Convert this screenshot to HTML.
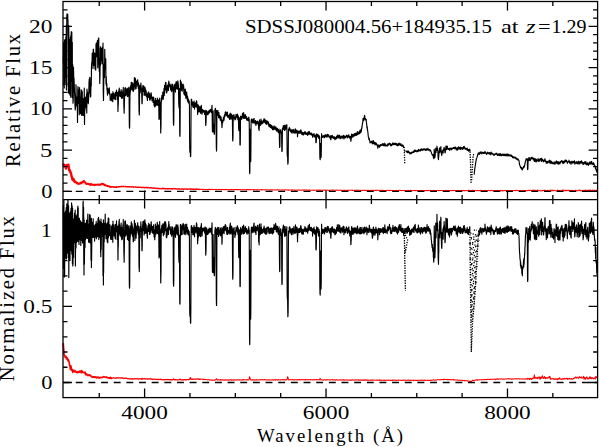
<!DOCTYPE html>
<html><head><meta charset="utf-8"><style>html,body{margin:0;padding:0;background:#fff;width:600px;height:447px;overflow:hidden}svg{display:block}</style></head>
<body><svg width="600" height="447" viewBox="0 0 600 447">
<rect width="600" height="447" fill="#fff"/>
<path d="M63.20 163.5L63.60 164.6L64.00 164.9L64.40 165.2L64.80 166.1L65.20 165.6L65.60 166.9L66.00 168.5L66.40 165.8L66.80 165.0L67.20 165.5L67.60 165.0L68.00 165.4L68.40 164.8L68.80 167.5L69.20 170.2L69.60 169.8L70.00 171.9L70.40 171.5L70.80 173.2L71.20 173.9L71.60 176.6L72.00 177.0L72.40 179.4L72.80 179.9L73.20 180.1L73.60 179.1L74.00 180.7L74.40 181.4L74.80 181.9L75.20 181.5L75.60 182.1L76.00 182.1" fill="none" stroke="#f00" stroke-width="2.4" stroke-linejoin="round"/>
<path d="M75.60 182.1L76.00 182.1L76.40 182.4L76.80 183.3L77.20 182.8L77.60 183.3L78.00 183.9L78.40 183.5L78.80 183.9L79.20 183.9L79.60 183.7L80.00 183.0L80.40 183.3L80.80 183.6L81.20 182.3L81.60 183.0L82.00 182.5L82.40 182.0L82.80 182.6L83.20 181.9L83.60 180.9L84.00 181.0L84.40 181.7L84.80 181.9L85.20 182.7L85.60 183.0L86.00 183.7L86.40 184.1L86.80 183.5L87.20 183.9L87.60 183.7L88.00 184.0L88.40 183.7L88.80 184.0L89.20 184.2L89.60 184.7L90.00 184.9L90.40 184.1L90.80 184.3L91.20 184.8L91.60 184.0L92.00 184.5L92.40 184.6L92.80 185.0L93.20 184.9L93.60 184.6L94.00 184.6L94.40 184.6L94.80 185.2L95.20 184.6L95.60 184.7L96.00 184.9L96.40 184.7L96.80 184.7L97.20 184.4L97.60 184.7L98.00 184.5L98.40 184.9L98.80 184.8L99.20 184.6L99.60 184.7L100.00 184.4L100.40 184.7L100.80 184.4L101.20 184.4L101.60 183.9L102.00 184.3L102.40 183.7L102.80 183.6L103.20 184.0L103.60 184.1L104.00 184.5L104.40 185.2L104.80 184.7L105.20 185.0L105.60 185.3L106.00 185.6L106.40 185.6L106.80 185.7L107.20 186.0L107.60 186.1L108.00 185.9L108.40 186.3L108.80 186.4L109.20 186.3L109.60 186.7L110.00 186.6L110.40 187.0L110.80 186.9L111.20 186.9L111.60 186.8L112.00 186.9" fill="none" stroke="#f00" stroke-width="1.9" stroke-linejoin="round"/>
<path d="M111.60 186.8L112.00 186.9L112.40 186.6L112.80 186.8L113.20 187.1L113.60 186.7L114.00 187.3L114.40 186.9L114.80 187.3L115.20 187.0L115.60 187.3L116.00 187.1L116.40 186.8L116.80 187.2L117.20 187.2L117.60 186.9L118.00 186.9L118.40 186.8L118.80 186.7L119.20 186.9L119.60 186.7L120.00 186.7L120.40 186.6L120.80 186.5L121.20 186.4L121.60 186.7L122.00 186.5L122.40 186.6L122.80 186.5L123.20 186.5L123.60 186.5L124.00 186.5L124.40 186.6L124.80 186.6L125.20 186.6L125.60 186.5L126.00 186.6L126.40 186.9L126.80 186.6L127.20 186.6L127.60 186.8L128.00 186.9L128.40 186.6L128.80 186.8L129.20 186.7L129.60 186.6L130.00 186.9L130.40 186.9L130.80 186.9L131.20 186.8L131.60 187.0L132.00 186.9L132.40 186.9L132.80 186.8L133.20 186.8L133.60 187.2L134.00 187.0L134.40 187.1L134.80 187.1L135.20 187.0L135.60 187.0L136.00 187.2L136.40 187.1L136.80 187.1L137.20 187.2L137.60 187.3L138.00 187.3L138.40 187.3L138.80 187.2L139.20 187.1L139.60 187.4L140.00 187.4L140.40 187.3L140.80 187.4L141.20 187.4L141.60 187.5L142.00 187.5L142.40 187.3L142.80 187.6L143.20 187.3L143.60 187.5L144.00 187.5L144.40 187.6L144.80 187.7L145.20 187.7L145.60 187.4L146.00 187.4L146.40 187.7L146.80 187.5L147.20 187.7L147.60 187.8L148.00 187.5L148.40 187.5L148.80 187.8L149.20 187.8L149.60 187.8L150.00 187.9L150.40 187.8L150.80 187.7L151.20 187.9L151.60 187.9L152.00 187.8L152.40 188.1L152.80 188.1L153.20 188.2L153.60 188.0L154.00 188.1L154.40 188.1L154.80 188.1L155.20 188.3L155.60 188.2L156.00 188.4L156.40 188.4L156.80 188.6L157.20 188.2L157.60 188.5L158.00 188.4L158.40 188.5L158.80 188.3L159.20 188.5L159.60 188.7L160.00 188.6L160.40 188.6L160.80 188.6L161.20 188.8L161.60 188.6L162.00 188.4L162.40 188.6L162.80 188.4L163.20 188.3L163.60 188.6L164.00 188.8L164.40 188.7L164.80 188.5L165.20 188.6L165.60 188.8L166.00 188.7L166.40 188.7L166.80 188.7L167.20 188.7L167.60 188.8L168.00 188.8L168.40 188.8L168.80 188.6L169.20 188.8L169.60 188.7L170.00 188.9L170.40 188.6L170.80 188.8L171.20 188.8L171.60 188.6L172.00 189.0L172.40 189.0L172.80 188.8L173.20 188.9L173.60 188.9L174.00 188.5L174.40 188.9L174.80 188.9L175.20 188.9L175.60 188.7L176.00 188.9L176.40 188.9L176.80 189.0L177.20 189.0L177.60 188.9L178.00 189.1L178.40 188.9L178.80 188.9L179.20 188.7L179.60 189.1L180.00 189.1L180.40 189.1L180.80 189.1L181.20 189.0L181.60 189.0L182.00 189.0L182.40 189.0L182.80 189.0L183.20 189.2L183.60 189.1L184.00 189.0L184.40 189.0L184.80 189.0L185.20 189.2L185.60 189.1L186.00 189.1L186.40 189.0L186.80 188.9L187.20 189.1L187.60 189.2L188.00 189.1L188.40 189.1L188.80 189.1L189.20 189.1L189.60 188.9L190.00 189.1L190.40 189.0L190.80 189.3L191.20 189.1L191.60 189.2L192.00 189.4L192.40 189.1L192.80 189.1L193.20 189.2L193.60 189.2L194.00 189.1L194.40 189.3L194.80 189.5L195.20 189.2L195.60 189.2L196.00 189.1L196.40 189.3L196.80 189.1L197.20 189.1L197.60 189.4L198.00 189.2L198.40 189.4L198.80 189.5L199.20 189.3L199.60 189.4L200.00 189.6" fill="none" stroke="#f00" stroke-width="1.4" stroke-linejoin="round"/>
<path d="M199.60 189.4L200.00 189.6L200.40 189.3L200.80 189.3L201.20 189.2L201.60 189.4L202.00 189.5L202.40 189.5L202.80 189.3L203.20 189.3L203.60 189.3L204.00 189.4L204.40 189.4L204.80 189.4L205.20 189.4L205.60 189.4L206.00 189.4L206.40 189.5L206.80 189.4L207.20 189.5L207.60 189.7L208.00 189.5L208.40 189.5L208.80 189.3L209.20 189.5L209.60 189.3L210.00 189.3L210.40 189.6L210.80 189.6L211.20 189.5L211.60 189.3L212.00 189.5L212.40 189.4L212.80 189.6L213.20 189.8L213.60 189.6L214.00 189.4L214.40 189.4L214.80 189.5L215.20 189.5L215.60 189.4L216.00 189.6L216.40 189.4L216.80 189.7L217.20 189.7L217.60 189.7L218.00 189.5L218.40 189.6L218.80 189.5L219.20 189.5L219.60 189.5L220.00 189.4L220.40 189.4L220.80 189.7L221.20 189.6L221.60 189.6L222.00 189.7L222.40 189.4L222.80 189.5L223.20 189.6L223.60 189.6L224.00 189.5L224.40 189.7L224.80 189.6L225.20 189.5L225.60 189.5L226.00 189.7L226.40 189.7L226.80 189.4L227.20 189.8L227.60 189.7L228.00 189.8L228.40 189.6L228.80 189.6L229.20 189.5L229.60 189.9L230.00 189.6L230.40 189.8L230.80 189.6L231.20 189.7L231.60 189.4L232.00 189.6L232.40 189.8L232.80 189.5L233.20 189.8L233.60 189.7L234.00 189.5L234.40 189.6L234.80 189.6L235.20 189.7L235.60 189.6L236.00 189.6L236.40 189.6L236.80 189.6L237.20 189.5L237.60 189.7L238.00 189.8L238.40 189.5L238.80 189.7L239.20 189.6L239.60 189.6L240.00 189.8L240.40 189.6L240.80 189.9L241.20 189.6L241.60 189.8L242.00 189.7L242.40 189.6L242.80 189.8L243.20 189.7L243.60 189.8L244.00 189.7L244.40 189.6L244.80 189.7L245.20 189.7L245.60 189.9L246.00 189.6L246.40 189.7L246.80 189.5L247.20 189.8L247.60 189.6L248.00 189.5L248.40 189.7L248.80 189.9L249.20 189.6L249.60 189.6L250.00 189.7L250.40 189.6L250.80 189.8L251.20 189.7L251.60 189.7L252.00 189.9L252.40 189.7L252.80 189.8L253.20 189.7L253.60 189.6L254.00 189.6L254.40 190.0L254.80 189.8L255.20 189.8L255.60 189.8L256.00 189.8L256.40 189.8L256.80 190.0L257.20 189.7L257.60 189.6L258.00 189.7L258.40 189.7L258.80 189.9L259.20 189.9L259.60 189.7L260.00 189.7L260.40 189.8L260.80 190.0L261.20 189.5L261.60 189.9L262.00 189.7L262.40 190.0L262.80 189.7L263.20 189.8L263.60 189.7L264.00 189.7L264.40 190.0L264.80 190.0L265.20 189.8L265.60 189.8L266.00 189.6L266.40 189.8L266.80 189.9L267.20 189.9L267.60 189.9L268.00 189.7L268.40 189.9L268.80 189.9L269.20 190.1L269.60 190.1L270.00 189.9L270.40 189.8L270.80 189.9L271.20 189.8L271.60 189.8L272.00 189.9L272.40 189.8L272.80 190.0L273.20 189.9L273.60 190.0L274.00 189.9L274.40 189.8L274.80 189.8L275.20 189.9L275.60 189.9L276.00 190.0L276.40 189.9L276.80 189.8L277.20 190.0L277.60 189.8L278.00 189.9L278.40 189.9L278.80 189.7L279.20 190.0L279.60 190.0L280.00 189.9L280.40 189.9L280.80 189.9L281.20 189.9L281.60 189.9L282.00 189.9L282.40 190.0L282.80 189.8L283.20 190.0L283.60 190.0L284.00 190.0L284.40 189.9L284.80 190.1L285.20 189.8L285.60 190.1L286.00 190.0L286.40 190.0L286.80 190.1L287.20 189.9L287.60 190.0L288.00 190.1L288.40 190.1L288.80 190.1L289.20 189.8L289.60 190.1L290.00 190.2L290.40 190.2L290.80 190.1L291.20 189.9L291.60 190.2L292.00 190.0L292.40 189.7L292.80 190.1L293.20 189.9L293.60 189.9L294.00 190.0L294.40 190.2L294.80 190.0L295.20 190.1L295.60 190.3L296.00 190.3L296.40 190.1L296.80 190.0L297.20 189.9L297.60 190.0L298.00 190.1L298.40 190.1L298.80 190.1L299.20 190.2L299.60 190.0L300.00 190.1L300.40 190.2L300.80 190.2L301.20 190.2L301.60 190.2L302.00 190.1L302.40 190.2L302.80 190.0L303.20 189.9L303.60 190.2L304.00 190.1L304.40 190.2L304.80 189.9L305.20 190.1L305.60 190.0L306.00 190.0L306.40 189.8L306.80 190.1L307.20 190.2L307.60 190.2L308.00 190.1L308.40 190.1L308.80 190.2L309.20 189.8L309.60 190.1L310.00 190.2L310.40 190.2L310.80 190.4L311.20 190.3L311.60 190.2L312.00 190.2L312.40 190.2L312.80 190.1L313.20 190.1L313.60 190.3L314.00 190.4L314.40 190.1L314.80 190.2L315.20 190.2L315.60 190.3L316.00 190.2L316.40 190.3L316.80 190.0L317.20 190.1L317.60 190.1L318.00 190.3L318.40 190.3L318.80 190.0L319.20 190.1L319.60 190.2L320.00 190.1L320.40 190.0L320.80 190.3L321.20 190.2L321.60 190.2L322.00 190.1L322.40 190.3L322.80 190.2L323.20 190.3L323.60 190.1L324.00 190.1L324.40 190.2L324.80 190.1L325.20 190.3L325.60 190.2L326.00 190.1L326.40 190.2L326.80 190.2L327.20 190.3L327.60 190.1L328.00 190.2L328.40 190.4L328.80 190.5L329.20 190.5L329.60 190.2L330.00 190.2L330.40 190.4L330.80 190.2L331.20 190.1L331.60 190.2L332.00 190.3L332.40 190.1L332.80 190.0L333.20 190.1L333.60 190.3L334.00 190.1L334.40 190.2L334.80 190.3L335.20 190.3L335.60 190.2L336.00 190.3L336.40 190.1L336.80 190.2L337.20 190.1L337.60 190.4L338.00 190.2L338.40 190.2L338.80 190.2L339.20 190.2L339.60 190.3L340.00 190.1L340.40 190.1L340.80 190.2L341.20 190.6L341.60 190.4L342.00 190.3L342.40 190.4L342.80 190.5L343.20 190.2L343.60 190.2L344.00 190.4L344.40 190.3L344.80 190.4L345.20 190.2L345.60 190.5L346.00 190.5L346.40 190.4L346.80 190.4L347.20 190.0L347.60 190.4L348.00 190.3L348.40 190.3L348.80 190.4L349.20 190.3L349.60 190.1L350.00 190.3L350.40 190.2L350.80 190.3L351.20 190.2L351.60 190.3L352.00 190.0L352.40 190.5L352.80 190.3L353.20 190.4L353.60 190.6L354.00 190.3L354.40 190.1L354.80 190.2L355.20 190.2L355.60 190.3L356.00 190.3L356.40 190.1L356.80 190.4L357.20 190.1L357.60 190.4L358.00 190.3L358.40 190.3L358.80 190.3L359.20 190.3L359.60 190.3L360.00 190.1L360.40 190.3L360.80 190.6L361.20 190.6L361.60 190.5L362.00 190.4L362.40 190.3L362.80 190.5L363.20 190.3L363.60 190.3L364.00 190.3L364.40 190.4L364.80 190.3L365.20 190.4L365.60 190.2L366.00 190.3L366.40 190.6L366.80 190.4L367.20 190.3L367.60 190.4L368.00 190.5L368.40 190.2L368.80 190.3L369.20 190.5L369.60 190.4L370.00 190.4L370.40 190.6L370.80 190.3L371.20 190.4L371.60 190.3L372.00 190.6L372.40 190.2L372.80 190.3L373.20 190.3L373.60 190.5L374.00 190.5L374.40 190.6L374.80 190.2L375.20 190.5L375.60 190.4L376.00 190.3L376.40 190.5L376.80 190.3L377.20 190.2L377.60 190.4L378.00 190.2L378.40 190.3L378.80 190.5L379.20 190.5L379.60 190.6L380.00 190.4L380.40 190.2L380.80 190.3L381.20 190.3L381.60 190.3L382.00 190.5L382.40 190.4L382.80 190.2L383.20 190.5L383.60 190.4L384.00 190.5L384.40 190.5L384.80 190.5L385.20 190.4L385.60 190.6L386.00 190.5L386.40 190.5L386.80 190.5L387.20 190.3L387.60 190.4L388.00 190.4L388.40 190.5L388.80 190.3L389.20 190.7L389.60 190.5L390.00 190.3L390.40 190.3L390.80 190.4L391.20 190.5L391.60 190.4L392.00 190.5L392.40 190.4L392.80 190.5L393.20 190.4L393.60 190.5L394.00 190.6L394.40 190.8L394.80 190.4L395.20 190.4L395.60 190.4L396.00 190.6L396.40 190.3L396.80 190.4L397.20 190.5L397.60 190.4L398.00 190.4L398.40 190.4L398.80 190.2L399.20 190.3L399.60 190.4L400.00 190.5L400.40 190.5L400.80 190.3L401.20 190.4L401.60 190.6L402.00 190.6L402.40 190.5L402.80 190.4L403.20 190.6L403.60 190.4L404.00 190.4L404.40 190.4L404.80 190.7L405.20 190.5L405.60 190.6L406.00 190.4L406.40 190.6L406.80 190.4L407.20 190.5L407.60 190.8L408.00 190.6L408.40 190.4L408.80 190.5L409.20 190.5L409.60 190.7L410.00 190.4L410.40 190.3L410.80 190.5L411.20 190.5L411.60 190.5L412.00 190.7L412.40 190.5L412.80 190.6L413.20 190.4L413.60 190.6L414.00 190.8L414.40 190.6L414.80 190.5L415.20 190.5L415.60 190.7L416.00 190.4L416.40 190.5L416.80 190.6L417.20 190.6L417.60 190.5L418.00 190.6L418.40 190.5L418.80 190.5L419.20 190.5L419.60 190.4L420.00 190.5L420.40 190.6L420.80 190.4L421.20 190.5L421.60 190.6L422.00 190.4L422.40 190.5L422.80 190.4L423.20 190.7L423.60 190.8L424.00 190.8L424.40 190.5L424.80 190.6L425.20 190.5L425.60 190.5L426.00 190.7L426.40 190.4L426.80 190.7L427.20 190.5L427.60 190.7L428.00 190.5L428.40 190.4L428.80 190.6L429.20 190.6L429.60 190.5L430.00 190.6L430.40 190.5L430.80 190.3L431.20 190.6L431.60 190.6L432.00 190.5L432.40 190.5L432.80 190.7L433.20 190.5L433.60 190.4L434.00 190.5L434.40 190.7L434.80 190.4L435.20 190.7L435.60 190.5L436.00 190.4L436.40 190.7L436.80 190.5L437.20 190.4L437.60 190.5L438.00 190.6L438.40 190.7L438.80 190.5L439.20 190.6L439.60 190.6L440.00 190.5L440.40 190.6L440.80 190.5L441.20 190.5L441.60 190.5L442.00 190.5L442.40 190.5L442.80 190.5L443.20 190.5L443.60 190.7L444.00 190.6L444.40 190.6L444.80 190.7L445.20 190.6L445.60 190.8L446.00 190.4L446.40 190.6L446.80 190.5L447.20 190.8L447.60 190.7L448.00 190.3L448.40 190.4L448.80 190.6L449.20 190.6L449.60 190.6L450.00 190.5L450.40 190.6L450.80 190.6L451.20 190.5L451.60 190.7L452.00 190.3L452.40 190.6L452.80 190.4L453.20 190.7L453.60 190.5L454.00 190.4L454.40 190.6L454.80 190.4L455.20 190.4L455.60 190.4L456.00 190.5L456.40 190.6L456.80 190.7L457.20 190.5L457.60 190.7L458.00 190.6L458.40 190.5L458.80 190.6L459.20 190.7L459.60 190.5L460.00 190.5L460.40 190.5L460.80 190.6L461.20 190.4L461.60 190.7L462.00 190.5L462.40 190.6L462.80 190.5L463.20 190.6L463.60 190.6L464.00 190.5L464.40 190.8L464.80 190.6L465.20 190.8L465.60 190.7L466.00 190.5L466.40 190.5L466.80 190.6L467.20 190.6L467.60 190.6L468.00 190.5L468.40 190.3L468.80 190.5L469.20 190.3L469.60 190.6L470.00 190.5L470.40 190.5L470.80 190.5L471.20 190.6L471.60 190.4L472.00 190.3L472.40 190.4L472.80 190.3L473.20 190.4L473.60 190.8L474.00 190.4L474.40 190.6L474.80 190.4L475.20 190.6L475.60 190.5L476.00 190.6L476.40 190.6L476.80 190.8L477.20 190.6L477.60 190.6L478.00 190.4L478.40 190.6L478.80 190.5L479.20 190.7L479.60 190.6L480.00 190.8L480.40 190.3L480.80 190.5L481.20 190.7L481.60 190.5L482.00 190.5L482.40 190.5L482.80 190.4L483.20 190.6L483.60 190.9L484.00 190.7L484.40 190.4L484.80 190.5L485.20 190.5L485.60 190.7L486.00 190.5L486.40 190.5L486.80 190.7L487.20 190.7L487.60 190.5L488.00 190.4L488.40 190.4L488.80 190.5L489.20 190.3L489.60 190.7L490.00 190.5L490.40 190.6L490.80 190.8L491.20 190.7L491.60 190.4L492.00 190.7L492.40 190.7L492.80 190.5L493.20 190.5L493.60 190.6L494.00 190.4L494.40 190.8L494.80 190.3L495.20 190.4L495.60 190.5L496.00 190.6L496.40 190.6L496.80 190.6L497.20 190.6L497.60 190.7L498.00 190.3L498.40 190.6L498.80 190.5L499.20 190.6L499.60 190.6L500.00 190.5L500.40 190.5L500.80 190.7L501.20 190.6L501.60 190.5L502.00 190.8L502.40 190.9L502.80 190.4L503.20 190.6L503.60 190.9L504.00 190.7L504.40 190.6L504.80 190.6L505.20 190.5L505.60 190.6L506.00 190.5L506.40 190.7L506.80 190.5L507.20 190.5L507.60 190.4L508.00 190.6L508.40 190.5L508.80 190.6L509.20 190.7L509.60 190.6L510.00 190.7L510.40 190.6L510.80 190.6L511.20 190.6L511.60 190.6L512.00 190.7L512.40 190.5L512.80 190.8L513.20 190.6L513.60 190.5L514.00 190.5L514.40 190.5L514.80 190.6L515.20 190.5L515.60 190.7L516.00 190.5L516.40 190.3L516.80 190.5L517.20 190.4L517.60 190.6L518.00 190.7L518.40 190.7L518.80 190.4L519.20 190.5L519.60 190.8L520.00 190.6L520.40 190.6L520.80 190.7L521.20 190.9L521.60 190.8L522.00 190.6L522.40 190.7L522.80 190.7L523.20 190.5L523.60 190.4L524.00 190.6L524.40 190.4L524.80 190.6L525.20 190.6L525.60 191.1L526.00 190.4L526.40 190.6L526.80 190.5L527.20 190.7L527.60 190.8L528.00 190.5L528.40 190.4L528.80 190.1L529.20 190.3L529.60 190.7L530.00 190.6L530.40 190.3L530.80 190.5L531.20 190.6L531.60 190.7L532.00 190.4L532.40 190.5L532.80 190.1L533.20 190.2L533.60 191.0L534.00 190.0L534.40 190.5L534.80 190.6L535.20 190.5L535.60 190.3L536.00 190.5L536.40 190.6L536.80 190.5L537.20 190.0L537.60 190.5L538.00 190.3L538.40 190.4L538.80 190.6L539.20 190.7L539.60 190.8L540.00 190.4L540.40 190.8L540.80 190.9L541.20 190.9L541.60 190.9L542.00 190.5L542.40 190.5L542.80 190.8L543.20 190.2L543.60 190.6L544.00 190.4L544.40 190.4L544.80 190.0L545.20 190.3L545.60 190.5L546.00 190.8L546.40 190.8L546.80 190.5L547.20 190.5L547.60 190.3L548.00 190.6L548.40 190.5L548.80 190.7L549.20 191.0L549.60 190.5L550.00 190.1L550.40 190.3L550.80 190.1L551.20 190.2L551.60 190.9L552.00 190.6L552.40 190.1L552.80 190.7L553.20 190.9L553.60 190.4L554.00 190.3L554.40 190.4L554.80 190.6L555.20 190.7L555.60 190.8L556.00 190.8L556.40 190.8L556.80 190.9L557.20 190.7L557.60 190.1L558.00 190.5L558.40 190.6L558.80 190.4L559.20 190.8L559.60 190.4L560.00 190.2L560.40 190.9L560.80 190.7L561.20 190.6L561.60 190.8L562.00 190.8L562.40 190.6L562.80 189.8L563.20 190.3L563.60 190.4L564.00 190.2L564.40 190.5L564.80 190.8L565.20 190.3L565.60 190.2L566.00 191.0L566.40 190.4L566.80 190.1L567.20 190.5L567.60 190.6L568.00 190.3L568.40 190.7L568.80 190.3L569.20 190.2L569.60 190.5L570.00 190.7L570.40 190.3L570.80 190.6L571.20 190.4L571.60 191.3L572.00 190.3L572.40 190.9L572.80 190.4L573.20 190.4L573.60 190.7L574.00 190.7L574.40 190.8L574.80 190.6L575.20 190.3L575.60 190.3L576.00 190.6L576.40 190.6L576.80 190.8L577.20 190.6L577.60 190.7L578.00 190.9L578.40 190.5L578.80 190.0L579.20 190.1L579.60 190.0L580.00 190.9L580.40 190.2L580.80 190.8L581.20 190.6L581.60 190.9L582.00 190.7L582.40 190.4L582.80 190.4L583.20 190.5L583.60 190.5L584.00 190.3L584.40 190.4L584.80 190.9L585.20 190.0L585.60 190.5L586.00 190.2L586.40 190.5L586.80 190.7L587.20 190.4L587.60 190.6L588.00 190.0L588.40 190.7L588.80 190.3L589.20 190.6L589.60 190.5L590.00 189.7L590.40 190.2L590.80 190.5L591.20 190.9L591.60 190.5L592.00 190.5L592.40 190.0L592.80 190.8L593.20 190.9L593.60 190.4L594.00 190.3L594.40 190.0L594.80 190.7L595.20 191.2L595.60 190.6L596.00 190.8L596.40 190.6L596.80 190.1L597.20 190.8" fill="none" stroke="#f00" stroke-width="1.05" stroke-linejoin="round"/>
<path d="M63.20 343.1L63.60 348.1L64.00 353.4L64.40 355.6L64.80 356.0L65.20 357.2L65.60 356.5L66.00 356.3L66.40 358.8L66.80 358.2L67.20 358.0L67.60 358.9L68.00 360.8L68.40 359.8L68.80 361.4L69.20 362.0L69.60 365.3L70.00 366.6L70.40 369.4L70.80 365.8L71.20 367.6L71.60 370.1L72.00 369.4L72.40 369.9L72.80 372.3L73.20 370.8L73.60 370.3L74.00 370.4L74.40 371.7L74.80 371.8L75.20 371.0L75.60 371.3L76.00 372.3" fill="none" stroke="#f00" stroke-width="1.7" stroke-linejoin="round"/>
<path d="M75.60 371.3L76.00 372.3L76.40 372.4L76.80 371.9L77.20 372.6L77.60 372.7L78.00 371.6L78.40 372.2L78.80 372.5L79.20 371.9L79.60 371.0L80.00 371.9L80.40 372.2L80.80 372.5L81.20 370.5L81.60 372.7L82.00 370.8L82.40 372.0L82.80 372.4L83.20 372.5L83.60 372.3L84.00 372.0L84.40 373.0L84.80 372.7L85.20 372.1L85.60 374.8L86.00 374.1L86.40 374.8L86.80 373.8L87.20 375.1L87.60 375.4L88.00 375.7L88.40 375.1L88.80 374.8L89.20 375.4L89.60 374.7L90.00 375.0L90.40 375.9L90.80 375.6L91.20 376.1L91.60 376.3L92.00 377.3L92.40 377.1L92.80 376.7L93.20 377.3L93.60 376.6L94.00 376.9L94.40 377.5L94.80 376.8L95.20 377.2L95.60 376.9L96.00 377.4L96.40 378.0L96.80 377.1L97.20 377.5L97.60 377.1L98.00 377.1L98.40 377.1L98.80 378.0L99.20 378.3L99.60 377.7L100.00 377.4L100.40 377.8L100.80 377.4L101.20 377.7L101.60 377.5L102.00 377.4L102.40 377.4L102.80 377.0L103.20 377.0L103.60 376.5L104.00 376.9L104.40 376.7L104.80 377.1L105.20 376.9L105.60 377.3L106.00 377.5L106.40 377.0L106.80 377.2L107.20 377.3L107.60 377.8L108.00 378.1L108.40 378.0L108.80 377.7L109.20 378.2L109.60 377.6L110.00 378.4L110.40 377.8L110.80 377.3L111.20 378.6L111.60 378.4L112.00 377.8" fill="none" stroke="#f00" stroke-width="1.5" stroke-linejoin="round"/>
<path d="M111.60 378.4L112.00 377.8L112.40 378.0L112.80 378.0L113.20 378.0L113.60 377.7L114.00 377.9L114.40 378.1L114.80 378.0L115.20 378.2L115.60 378.0L116.00 378.4L116.40 377.9L116.80 378.0L117.20 377.7L117.60 377.8L118.00 378.2L118.40 377.8L118.80 378.1L119.20 378.0L119.60 377.8L120.00 377.9L120.40 377.9L120.80 377.9L121.20 378.1L121.60 378.1L122.00 377.9L122.40 377.9L122.80 378.1L123.20 378.1L123.60 378.3L124.00 378.6L124.40 378.3L124.80 378.2L125.20 378.3L125.60 378.2L126.00 378.2L126.40 378.3L126.80 378.4L127.20 378.4L127.60 378.7L128.00 378.5L128.40 378.6L128.80 378.5L129.20 379.0L129.60 378.8L130.00 379.1L130.40 378.9L130.80 379.0L131.20 378.8L131.60 378.9L132.00 379.2L132.40 378.6L132.80 379.0L133.20 379.1L133.60 378.9L134.00 378.9L134.40 379.0L134.80 378.7L135.20 378.9L135.60 378.7L136.00 378.7L136.40 378.7L136.80 378.8L137.20 378.8L137.60 378.9L138.00 378.6L138.40 379.1L138.80 379.0L139.20 378.9L139.60 378.7L140.00 378.8L140.40 378.9L140.80 378.9L141.20 378.5L141.60 378.9L142.00 379.3L142.40 378.5L142.80 379.0L143.20 378.9L143.60 378.8L144.00 379.0L144.40 378.6L144.80 378.8L145.20 379.0L145.60 378.8L146.00 378.8L146.40 378.9L146.80 378.8L147.20 379.2L147.60 378.8L148.00 379.1L148.40 378.8L148.80 379.1L149.20 379.0L149.60 378.6L150.00 379.0L150.40 378.9L150.80 379.0L151.20 379.3L151.60 378.9L152.00 379.0L152.40 379.4L152.80 379.2L153.20 379.4L153.60 379.3L154.00 379.1L154.40 379.2L154.80 379.5L155.20 379.4L155.60 379.3L156.00 379.3L156.40 379.3L156.80 379.3L157.20 379.7L157.60 379.4L158.00 379.2L158.40 379.3L158.80 379.6L159.20 379.6L159.60 379.5L160.00 379.4L160.40 379.5L160.80 379.2L161.20 379.3L161.60 379.7L162.00 379.5L162.40 379.6L162.80 379.8L163.20 379.7L163.60 379.6L164.00 379.9L164.40 379.7L164.80 379.6L165.20 379.7L165.60 379.7L166.00 379.5L166.40 379.7L166.80 379.6L167.20 379.4L167.60 379.7L168.00 379.7L168.40 379.6L168.80 379.5L169.20 379.7L169.60 379.7L170.00 379.8L170.40 379.6L170.80 379.9L171.20 379.6L171.60 379.8L172.00 380.0L172.40 379.7L172.80 379.7L173.20 379.5L173.60 378.8L174.00 379.3L174.40 379.8L174.80 380.0L175.20 379.5L175.60 379.8L176.00 379.7L176.40 379.7L176.80 379.8L177.20 379.8L177.60 380.0L178.00 379.8L178.40 380.0L178.80 380.0L179.20 379.8L179.60 379.4L180.00 379.1L180.40 379.4L180.80 379.8L181.20 379.9L181.60 379.8L182.00 379.9L182.40 380.0L182.80 379.7L183.20 379.8L183.60 380.0L184.00 379.7L184.40 379.8L184.80 379.6L185.20 379.6L185.60 379.6L186.00 380.0L186.40 379.6L186.80 379.5L187.20 379.5L187.60 379.5L188.00 379.6L188.40 379.5L188.80 379.8L189.20 379.5L189.60 379.4L190.00 378.1L190.40 377.6L190.80 378.4L191.20 379.3L191.60 379.3L192.00 379.3L192.40 379.0L192.80 379.4L193.20 379.2L193.60 379.2L194.00 379.2L194.40 379.1L194.80 379.2L195.20 378.9L195.60 379.0L196.00 379.1L196.40 379.1L196.80 379.0L197.20 378.9L197.60 378.9L198.00 379.0L198.40 379.3L198.80 378.9L199.20 379.4L199.60 379.3L200.00 379.1" fill="none" stroke="#f00" stroke-width="1.2" stroke-linejoin="round"/>
<path d="M199.60 379.3L200.00 379.1L200.40 379.4L200.80 379.0L201.20 379.0L201.60 379.1L202.00 379.3L202.40 379.3L202.80 379.3L203.20 379.5L203.60 379.2L204.00 379.6L204.40 379.3L204.80 379.5L205.20 379.6L205.60 379.5L206.00 379.5L206.40 379.6L206.80 379.7L207.20 379.9L207.60 379.9L208.00 379.7L208.40 379.7L208.80 379.8L209.20 380.0L209.60 379.6L210.00 380.2L210.40 379.9L210.80 379.9L211.20 380.0L211.60 380.2L212.00 380.0L212.40 380.2L212.80 380.0L213.20 380.2L213.60 380.2L214.00 380.0L214.40 380.2L214.80 380.0L215.20 380.0L215.60 379.8L216.00 379.4L216.40 378.7L216.80 378.7L217.20 379.9L217.60 380.0L218.00 380.0L218.40 379.6L218.80 380.0L219.20 380.1L219.60 379.8L220.00 380.0L220.40 379.6L220.80 380.1L221.20 379.9L221.60 380.1L222.00 379.7L222.40 380.1L222.80 379.9L223.20 380.1L223.60 379.8L224.00 379.9L224.40 380.3L224.80 379.8L225.20 379.8L225.60 379.9L226.00 379.8L226.40 380.1L226.80 380.2L227.20 379.8L227.60 379.7L228.00 380.1L228.40 380.1L228.80 380.1L229.20 380.1L229.60 379.8L230.00 379.9L230.40 379.7L230.80 379.7L231.20 380.1L231.60 379.8L232.00 380.3L232.40 379.9L232.80 379.8L233.20 380.0L233.60 380.2L234.00 380.0L234.40 379.7L234.80 380.0L235.20 380.1L235.60 379.8L236.00 379.8L236.40 380.1L236.80 379.9L237.20 379.7L237.60 379.8L238.00 379.8L238.40 380.0L238.80 379.9L239.20 380.1L239.60 380.0L240.00 379.7L240.40 380.0L240.80 380.0L241.20 380.0L241.60 380.1L242.00 379.8L242.40 379.7L242.80 380.0L243.20 379.7L243.60 379.5L244.00 380.0L244.40 379.8L244.80 379.8L245.20 379.7L245.60 379.7L246.00 379.7L246.40 379.8L246.80 379.9L247.20 379.5L247.60 380.0L248.00 379.7L248.40 379.7L248.80 379.9L249.20 378.8L249.60 376.7L250.00 378.1L250.40 379.3L250.80 379.9L251.20 379.9L251.60 380.1L252.00 379.8L252.40 380.0L252.80 379.7L253.20 380.0L253.60 379.7L254.00 379.8L254.40 380.2L254.80 379.9L255.20 379.9L255.60 380.2L256.00 379.9L256.40 379.7L256.80 380.0L257.20 379.7L257.60 380.0L258.00 380.0L258.40 379.7L258.80 379.7L259.20 379.9L259.60 379.8L260.00 379.7L260.40 379.9L260.80 379.5L261.20 379.8L261.60 379.8L262.00 379.8L262.40 379.9L262.80 379.6L263.20 379.9L263.60 379.8L264.00 379.7L264.40 379.6L264.80 379.6L265.20 379.9L265.60 379.7L266.00 379.8L266.40 380.0L266.80 380.0L267.20 380.1L267.60 379.8L268.00 379.6L268.40 380.0L268.80 379.9L269.20 380.0L269.60 379.8L270.00 380.0L270.40 379.9L270.80 379.9L271.20 379.9L271.60 379.9L272.00 379.8L272.40 379.8L272.80 379.9L273.20 379.7L273.60 380.1L274.00 379.8L274.40 379.9L274.80 379.8L275.20 379.7L275.60 380.1L276.00 379.7L276.40 379.6L276.80 379.7L277.20 379.7L277.60 380.1L278.00 379.8L278.40 379.9L278.80 379.6L279.20 379.8L279.60 379.9L280.00 380.1L280.40 379.7L280.80 379.9L281.20 379.8L281.60 379.6L282.00 379.8L282.40 379.7L282.80 379.4L283.20 379.9L283.60 379.8L284.00 379.7L284.40 379.5L284.80 380.0L285.20 379.8L285.60 379.9L286.00 380.0L286.40 379.7L286.80 379.8L287.20 378.6L287.60 376.7L288.00 377.5L288.40 379.3L288.80 379.9L289.20 379.8L289.60 379.7L290.00 379.7L290.40 379.8L290.80 379.6L291.20 379.7L291.60 379.7L292.00 379.6L292.40 379.7L292.80 379.6L293.20 380.0L293.60 379.9L294.00 379.8L294.40 379.7L294.80 380.1L295.20 379.8L295.60 379.7L296.00 379.8L296.40 379.8L296.80 379.9L297.20 379.7L297.60 380.0L298.00 379.6L298.40 379.8L298.80 379.5L299.20 380.0L299.60 379.6L300.00 379.7L300.40 379.8L300.80 379.9L301.20 379.5L301.60 379.7L302.00 379.5L302.40 379.7L302.80 379.7L303.20 379.7L303.60 379.6L304.00 379.7L304.40 379.6L304.80 379.8L305.20 380.0L305.60 379.4L306.00 379.7L306.40 379.7L306.80 379.8L307.20 379.6L307.60 379.7L308.00 379.6L308.40 379.9L308.80 379.8L309.20 379.7L309.60 379.8L310.00 379.7L310.40 379.5L310.80 379.9L311.20 379.8L311.60 379.7L312.00 379.9L312.40 380.0L312.80 379.6L313.20 379.7L313.60 380.0L314.00 380.0L314.40 379.7L314.80 379.6L315.20 379.7L315.60 379.7L316.00 379.5L316.40 379.8L316.80 379.6L317.20 379.6L317.60 379.9L318.00 379.7L318.40 379.8L318.80 379.9L319.20 379.9L319.60 379.2L320.00 378.4L320.40 378.7L320.80 379.9L321.20 379.9L321.60 379.7L322.00 379.8L322.40 379.9L322.80 379.9L323.20 380.1L323.60 380.1L324.00 379.8L324.40 379.8L324.80 379.6L325.20 379.9L325.60 379.9L326.00 380.3L326.40 379.9L326.80 379.5L327.20 379.8L327.60 379.9L328.00 379.7L328.40 379.7L328.80 379.8L329.20 379.9L329.60 379.9L330.00 379.7L330.40 380.0L330.80 379.8L331.20 379.8L331.60 379.7L332.00 379.8L332.40 380.0L332.80 379.6L333.20 379.9L333.60 380.0L334.00 379.8L334.40 379.9L334.80 379.7L335.20 380.1L335.60 380.1L336.00 380.0L336.40 379.6L336.80 379.8L337.20 380.1L337.60 380.2L338.00 380.0L338.40 380.1L338.80 379.8L339.20 379.9L339.60 379.9L340.00 380.0L340.40 379.7L340.80 380.1L341.20 380.2L341.60 379.8L342.00 379.7L342.40 380.0L342.80 379.9L343.20 379.6L343.60 380.1L344.00 380.0L344.40 379.9L344.80 380.3L345.20 380.0L345.60 379.9L346.00 380.0L346.40 379.8L346.80 379.9L347.20 380.0L347.60 379.9L348.00 379.9L348.40 380.3L348.80 380.1L349.20 380.1L349.60 380.1L350.00 380.1L350.40 380.2L350.80 380.0L351.20 380.3L351.60 379.9L352.00 380.0L352.40 379.8L352.80 380.0L353.20 380.1L353.60 380.3L354.00 379.9L354.40 380.0L354.80 380.0L355.20 379.9L355.60 379.8L356.00 380.0L356.40 379.8L356.80 380.1L357.20 380.0L357.60 379.9L358.00 379.9L358.40 379.8L358.80 380.3L359.20 379.8L359.60 380.3L360.00 380.2L360.40 380.0L360.80 379.9L361.20 380.2L361.60 380.3L362.00 379.9L362.40 380.0L362.80 380.2L363.20 380.1L363.60 380.4L364.00 380.0L364.40 380.2L364.80 379.9L365.20 380.4L365.60 380.0L366.00 379.7L366.40 380.1L366.80 380.1L367.20 380.4L367.60 380.1L368.00 380.1L368.40 380.2L368.80 380.4L369.20 380.1L369.60 380.3L370.00 380.2L370.40 380.1L370.80 380.1L371.20 380.1L371.60 380.0L372.00 380.3L372.40 379.9L372.80 380.3L373.20 380.3L373.60 380.1L374.00 380.0L374.40 380.1L374.80 380.2L375.20 380.3L375.60 380.2L376.00 380.3L376.40 380.1L376.80 380.2L377.20 379.9L377.60 380.3L378.00 380.2L378.40 380.1L378.80 380.4L379.20 380.3L379.60 379.7L380.00 380.2L380.40 380.0L380.80 380.4L381.20 380.6L381.60 380.1L382.00 380.2L382.40 380.2L382.80 380.3L383.20 380.3L383.60 380.4L384.00 380.0L384.40 380.5L384.80 380.1L385.20 380.3L385.60 380.4L386.00 380.3L386.40 380.1L386.80 380.1L387.20 380.2L387.60 380.2L388.00 380.4L388.40 380.0L388.80 380.3L389.20 380.3L389.60 380.3L390.00 380.3L390.40 380.5L390.80 380.3L391.20 380.4L391.60 380.3L392.00 380.5L392.40 380.0L392.80 380.5L393.20 380.2L393.60 380.2L394.00 380.1L394.40 380.0L394.80 380.2L395.20 380.2L395.60 380.4L396.00 380.0L396.40 380.5L396.80 380.3L397.20 380.2L397.60 380.2L398.00 380.2L398.40 380.1L398.80 380.2L399.20 380.3L399.60 380.3L400.00 380.1L400.40 380.3L400.80 380.2L401.20 380.3L401.60 380.6L402.00 380.4L402.40 380.3L402.80 380.0L403.20 380.1L403.60 380.0L404.00 380.4L404.40 380.2L404.80 380.3L405.20 380.2L405.60 380.3L406.00 380.5L406.40 380.2L406.80 380.2L407.20 380.2L407.60 380.4L408.00 380.1L408.40 380.1L408.80 380.1L409.20 380.1L409.60 380.4L410.00 380.7L410.40 380.1L410.80 380.4L411.20 380.3L411.60 380.1L412.00 380.3L412.40 380.3L412.80 380.2L413.20 380.6L413.60 380.0L414.00 380.4L414.40 380.4L414.80 380.2L415.20 380.3L415.60 380.4L416.00 380.3L416.40 380.4L416.80 380.4L417.20 380.0L417.60 380.5L418.00 380.7L418.40 380.5L418.80 380.5L419.20 380.1L419.60 380.3L420.00 380.2L420.40 380.2L420.80 380.5L421.20 380.2L421.60 380.3L422.00 380.0L422.40 380.3L422.80 380.3L423.20 380.2L423.60 380.2L424.00 380.6L424.40 380.1L424.80 380.1L425.20 380.2L425.60 380.5L426.00 380.6L426.40 380.4L426.80 380.2L427.20 380.2L427.60 380.5L428.00 380.2L428.40 380.5L428.80 380.5L429.20 380.3L429.60 380.4L430.00 380.4L430.40 380.5L430.80 380.1L431.20 380.4L431.60 380.1L432.00 380.1L432.40 380.2L432.80 380.1L433.20 380.0L433.60 379.8L434.00 379.9L434.40 380.3L434.80 380.3L435.20 380.1L435.60 380.2L436.00 379.9L436.40 379.9L436.80 379.9L437.20 379.7L437.60 379.7L438.00 379.8L438.40 379.7L438.80 379.6L439.20 379.8L439.60 379.7L440.00 379.9L440.40 379.7L440.80 379.6L441.20 379.6L441.60 379.6L442.00 379.5L442.40 379.5L442.80 379.7L443.20 379.6L443.60 379.7L444.00 379.2L444.40 379.4L444.80 379.3L445.20 379.4L445.60 379.4L446.00 379.4L446.40 379.6L446.80 379.5L447.20 379.3L447.60 379.8L448.00 379.7L448.40 379.5L448.80 379.7L449.20 379.5L449.60 379.8L450.00 379.6L450.40 379.6L450.80 379.7L451.20 379.6L451.60 379.8L452.00 379.8L452.40 379.8L452.80 379.7L453.20 379.3L453.60 379.9L454.00 379.6L454.40 380.0L454.80 380.1L455.20 380.0L455.60 379.9L456.00 380.0L456.40 380.0L456.80 380.0L457.20 380.0L457.60 379.9L458.00 380.3L458.40 380.1L458.80 380.3L459.20 380.1L459.60 380.2L460.00 380.2L460.40 380.3L460.80 380.4L461.20 380.3L461.60 380.2L462.00 380.2L462.40 380.6L462.80 380.3L463.20 380.4L463.60 380.7L464.00 380.6L464.40 380.6L464.80 380.4L465.20 380.9L465.60 380.7L466.00 380.8L466.40 380.8L466.80 380.6L467.20 380.7L467.60 381.1L468.00 381.2L468.40 381.1L468.80 381.1L469.20 381.1L469.60 381.4L470.00 381.3L470.40 381.5L470.80 381.4L471.20 381.6L471.60 381.2L472.00 380.8L472.40 380.6L472.80 380.1L473.20 380.4L473.60 380.4L474.00 380.5L474.40 380.3L474.80 380.2L475.20 380.0L475.60 380.1L476.00 380.2L476.40 379.8L476.80 379.9L477.20 379.7L477.60 380.2L478.00 380.1L478.40 380.0L478.80 379.7L479.20 379.9L479.60 379.8L480.00 379.8L480.40 379.8L480.80 379.8L481.20 379.7L481.60 379.9L482.00 379.8L482.40 379.7L482.80 379.7L483.20 379.6L483.60 379.8L484.00 379.6L484.40 379.7L484.80 379.5L485.20 379.4L485.60 379.7L486.00 379.4L486.40 379.7L486.80 379.6L487.20 379.3L487.60 379.3L488.00 379.4L488.40 379.3L488.80 379.3L489.20 379.5L489.60 379.4L490.00 379.5L490.40 379.3L490.80 379.4L491.20 379.2L491.60 379.3L492.00 379.4L492.40 379.3L492.80 379.2L493.20 379.1L493.60 379.3L494.00 379.3L494.40 379.2L494.80 379.1L495.20 379.3L495.60 379.6L496.00 379.1L496.40 379.2L496.80 379.2L497.20 378.7L497.60 379.1L498.00 379.0L498.40 379.3L498.80 379.0L499.20 378.9L499.60 379.0L500.00 379.0L500.40 378.9L500.80 379.0L501.20 378.8L501.60 379.0L502.00 379.1L502.40 379.3L502.80 379.1L503.20 379.0L503.60 379.2L504.00 379.1L504.40 379.2L504.80 379.1L505.20 378.9L505.60 379.0L506.00 379.0L506.40 379.0L506.80 379.0L507.20 378.8L507.60 378.6L508.00 378.8L508.40 378.6L508.80 379.0L509.20 378.9L509.60 378.7L510.00 379.0L510.40 379.1L510.80 378.9L511.20 379.2L511.60 379.2L512.00 378.7L512.40 379.1L512.80 379.0L513.20 379.0L513.60 379.1L514.00 378.8L514.40 378.8L514.80 378.8L515.20 378.8L515.60 378.9L516.00 378.7L516.40 378.7L516.80 379.0L517.20 378.9L517.60 378.9L518.00 378.6L518.40 378.8L518.80 378.8L519.20 378.9L519.60 378.8L520.00 379.0L520.40 378.9L520.80 378.9L521.20 378.9L521.60 379.0L522.00 378.8L522.40 379.1L522.80 378.9L523.20 378.9L523.60 378.9L524.00 379.0L524.40 379.1L524.80 379.1L525.20 378.9L525.60 379.1L526.00 378.9L526.40 379.2L526.80 378.8L527.20 378.2L527.60 379.2L528.00 378.8L528.40 378.4L528.80 378.7L529.20 378.5L529.60 379.5L530.00 379.0L530.40 378.2L530.80 379.0L531.20 378.7L531.60 379.5L532.00 378.4L532.40 378.0L532.80 378.8L533.20 378.0L533.60 378.3L534.00 377.0L534.40 374.9L534.80 378.4L535.20 377.2L535.60 378.1L536.00 377.8L536.40 378.3L536.80 378.3L537.20 377.3L537.60 378.3L538.00 378.7L538.40 377.3L538.80 377.2L539.20 376.8L539.60 377.6L540.00 379.5L540.40 377.3L540.80 377.2L541.20 378.5L541.60 377.4L542.00 376.4L542.40 375.7L542.80 377.1L543.20 378.5L543.60 377.7L544.00 378.1L544.40 376.5L544.80 378.0L545.20 377.4L545.60 378.8L546.00 377.8L546.40 377.9L546.80 377.6L547.20 378.4L547.60 377.7L548.00 377.7L548.40 377.9L548.80 377.8L549.20 376.3L549.60 377.7L550.00 376.5L550.40 379.1L550.80 378.6L551.20 379.2L551.60 378.7L552.00 378.7L552.40 378.8L552.80 378.5L553.20 378.6L553.60 378.7L554.00 379.4L554.40 379.3L554.80 378.7L555.20 379.4L555.60 378.8L556.00 378.9L556.40 379.1L556.80 378.9L557.20 379.7L557.60 378.9L558.00 378.4L558.40 379.3L558.80 378.7L559.20 378.7L559.60 377.7L560.00 379.2L560.40 379.1L560.80 379.1L561.20 379.2L561.60 379.4L562.00 378.8L562.40 379.1L562.80 378.5L563.20 378.7L563.60 379.2L564.00 378.9L564.40 378.3L564.80 378.9L565.20 378.7L565.60 378.5L566.00 379.0L566.40 378.7L566.80 378.2L567.20 378.4L567.60 379.4L568.00 378.3L568.40 378.9L568.80 379.0L569.20 379.0L569.60 378.4L570.00 378.7L570.40 378.9L570.80 379.1L571.20 378.6L571.60 378.4L572.00 379.2L572.40 379.2L572.80 378.9L573.20 378.6L573.60 378.9L574.00 378.8L574.40 377.7L574.80 377.6L575.20 377.3L575.60 377.0L576.00 378.2L576.40 378.0L576.80 377.2L577.20 377.1L577.60 377.9L578.00 378.1L578.40 378.3L578.80 378.2L579.20 376.6L579.60 377.1L580.00 377.6L580.40 377.7L580.80 377.6L581.20 376.8L581.60 377.8L582.00 378.3L582.40 378.0L582.80 377.6L583.20 377.8L583.60 376.2L584.00 379.3L584.40 378.2L584.80 377.3L585.20 378.4L585.60 379.4L586.00 378.1L586.40 377.2L586.80 376.9L587.20 377.7L587.60 379.0L588.00 378.9L588.40 378.3L588.80 378.6L589.20 378.6L589.60 377.2L590.00 376.6L590.40 378.4L590.80 377.7L591.20 378.1L591.60 378.8L592.00 377.4L592.40 377.6L592.80 378.2L593.20 378.8L593.60 378.7L594.00 378.0L594.40 378.5L594.80 377.8L595.20 379.1L595.60 376.6L596.00 377.3L596.40 377.5L596.80 376.6L597.20 378.5" fill="none" stroke="#f00" stroke-width="1.05" stroke-linejoin="round"/>
<path d="M63.1 191.3H597.5" stroke="#000" stroke-width="1.3" stroke-dasharray="6.9 5.755" fill="none"/>
<path d="M63.1 382.5H597.5" stroke="#000" stroke-width="1.3" stroke-dasharray="6.9 5.755" fill="none"/>
<path d="M110.53 97.9L110.61 100.0L110.69 98.2L110.76 95.7L110.84 100.0L110.91 97.5L110.99 96.0L111.07 97.2L111.14 96.2L111.22 93.9L111.29 96.3L111.37 96.3L111.44 94.4L111.52 97.2L111.60 97.7L111.67 96.9L111.75 96.7L111.82 100.8L111.90 95.9L111.98 98.2L112.05 99.1L112.13 99.4L112.20 96.4L112.28 93.9L112.36 95.0L112.43 95.3L112.51 96.8L112.59 93.5L112.66 94.5L112.74 97.5L112.81 101.7L112.89 96.6L112.97 91.7L113.04 97.3L113.12 98.5L113.20 93.6L113.27 98.3L113.35 95.4L113.42 95.8L113.50 98.7L113.58 96.3L113.65 94.0L113.73 97.6L113.81 94.7L113.88 96.8L113.96 93.7L114.04 93.2L114.11 97.4L114.19 96.3L114.27 94.1L114.34 96.7L114.42 96.4L114.50 96.8L114.57 97.1L114.65 98.6L114.73 96.2L114.80 95.9L114.88 96.0L114.96 97.2L115.03 95.5L115.11 99.4L115.19 96.6L115.26 97.6L115.34 96.3L115.42 99.7L115.49 92.3L115.57 96.8L115.65 94.6L115.72 94.2L115.80 92.8L115.88 95.8L115.96 94.7L116.03 93.6L116.11 92.9L116.19 92.0L116.26 92.1L116.34 92.7L116.42 94.1L116.49 90.1L116.57 95.0L116.65 91.6L116.73 93.1L116.80 93.8L116.88 94.9L116.96 94.0L117.03 95.9L117.11 95.7L117.19 99.4L117.27 95.6L117.34 96.4L117.42 94.4L117.50 92.4L117.58 95.5L117.65 94.7L117.73 99.2L117.81 102.3L117.89 107.3L117.96 111.5L118.04 108.1L118.12 105.7L118.20 104.9L118.27 104.9L118.35 101.6L118.43 95.4L118.51 92.3L118.58 93.3L118.66 91.3L118.74 96.0L118.82 91.1L118.89 91.2L118.97 89.3L119.05 92.5L119.13 94.6L119.20 91.0L119.28 88.1L119.36 93.5L119.44 93.2L119.51 93.4L119.59 93.2L119.67 90.9L119.75 91.0L119.83 94.9L119.90 96.1L119.98 93.2L120.06 95.4L120.14 95.5L120.22 96.5L120.29 96.5L120.37 94.4L120.45 95.2L120.53 93.2L120.61 94.0L120.68 92.1L120.76 93.5L120.84 92.8L120.92 92.5L121.00 92.4L121.07 92.3L121.15 89.6L121.23 94.8L121.31 97.3L121.39 93.3L121.47 95.1L121.54 92.4L121.62 95.6L121.70 98.5L121.78 92.1L121.86 94.5L121.94 96.0L122.01 96.0L122.09 93.6L122.17 95.9L122.25 94.0L122.33 93.5L122.41 98.1L122.48 95.6L122.56 94.2L122.64 91.8L122.72 93.0L122.80 95.1L122.88 90.3L122.96 94.4L123.03 94.4L123.11 92.9L123.19 96.2L123.27 87.4L123.35 91.6L123.43 93.6L123.51 94.5L123.58 94.9L123.66 93.8L123.74 96.1L123.82 103.9L123.90 107.9L123.98 109.6L124.06 110.5L124.14 113.2L124.22 108.4L124.29 107.9L124.37 103.4L124.45 99.4L124.53 97.4L124.61 95.2L124.69 92.3L124.77 89.0L124.85 88.1L124.93 92.0L125.00 94.7L125.08 91.2L125.16 90.3L125.24 89.4L125.32 90.5L125.40 87.5L125.48 92.3L125.56 95.7L125.64 94.7L125.72 94.2L125.80 88.9L125.88 92.9L125.95 95.5L126.03 90.9L126.11 89.5L126.19 90.8L126.27 91.0L126.35 89.8L126.43 91.4L126.51 94.1L126.59 91.5L126.67 90.8L126.75 91.9L126.83 89.8L126.91 89.3L126.99 90.3L127.07 89.6L127.15 88.3L127.23 91.9L127.31 88.2L127.38 88.9L127.46 96.5L127.54 92.3L127.62 94.0L127.70 93.8L127.78 92.2L127.86 93.2L127.94 91.7L128.02 91.4L128.10 91.7L128.18 94.6L128.26 93.3L128.34 88.9L128.42 96.2L128.50 88.2L128.58 91.7L128.66 88.4L128.74 93.9L128.82 89.1L128.90 87.2L128.98 88.4L129.06 89.5L129.14 100.8L129.22 112.7L129.30 123.5L129.38 127.1L129.46 127.5L129.54 128.1L129.62 127.5L129.70 124.1L129.78 113.5L129.86 102.9L129.94 93.4L130.02 92.4L130.10 94.1L130.18 92.8L130.26 87.4L130.34 92.0L130.42 87.9L130.50 85.9L130.58 86.2L130.66 86.5L130.74 85.5L130.82 90.1L130.91 89.1L130.99 88.4L131.07 87.9L131.15 88.1L131.23 83.0L131.31 82.4L131.39 86.3L131.47 85.3L131.55 88.4L131.63 85.8L131.71 87.2L131.79 83.5L131.87 87.1L131.95 85.4L132.03 89.3L132.11 82.6L132.19 84.8L132.27 84.1L132.36 86.7L132.44 90.1L132.52 87.3L132.60 87.8L132.68 83.5L132.76 88.2L132.84 88.9L132.92 86.5L133.00 88.0L133.08 88.8L133.16 91.3L133.25 91.4L133.33 91.1L133.41 91.2L133.49 85.2L133.57 85.5L133.65 86.9L133.73 84.5L133.81 84.8L133.89 84.7L133.97 83.6L134.06 82.9L134.14 82.8L134.22 86.2L134.30 86.6L134.38 77.6L134.46 79.1L134.54 86.3L134.62 81.2L134.71 84.6L134.79 85.3L134.87 89.6L134.95 83.4L135.03 85.0L135.11 80.9L135.19 79.9L135.27 79.4L135.36 78.2L135.44 79.7L135.52 80.8L135.60 82.2L135.68 81.6L135.76 83.7L135.85 85.7L135.93 81.1L136.01 82.7L136.09 88.6L136.17 88.0L136.25 84.0L136.33 86.4L136.42 81.3L136.50 83.7L136.58 82.3L136.66 82.1L136.74 81.0L136.83 84.3L136.91 82.7L136.99 82.7L137.07 81.5L137.15 82.2L137.23 80.8L137.32 82.4L137.40 84.3L137.48 82.0L137.56 84.9L137.64 81.5L137.73 79.7L137.81 83.7L137.89 86.6L137.97 83.0L138.05 84.2L138.14 84.7L138.22 86.2L138.30 85.6L138.38 88.5L138.46 82.9L138.55 87.3L138.63 86.6L138.71 85.3L138.79 89.9L138.88 95.9L138.96 105.1L139.04 111.0L139.12 112.8L139.20 111.9L139.29 115.0L139.37 112.9L139.45 107.7L139.53 98.9L139.62 88.4L139.70 87.9L139.78 88.3L139.86 86.5L139.95 85.1L140.03 89.5L140.11 86.3L140.19 92.8L140.28 90.7L140.36 85.6L140.44 85.7L140.52 87.3L140.61 87.8L140.69 85.7L140.77 87.9L140.86 83.1L140.94 84.9L141.02 85.8L141.10 89.8L141.19 86.4L141.27 88.1L141.35 88.0L141.43 88.8L141.52 88.4L141.60 88.9L141.68 93.1L141.77 97.0L141.85 96.0L141.93 103.5L142.01 101.0L142.10 103.8L142.18 102.1L142.26 100.4L142.35 90.8L142.43 89.7L142.51 89.5L142.60 90.5L142.68 87.1L142.76 90.2L142.85 88.2L142.93 85.3L143.01 90.8L143.10 91.0L143.18 91.5L143.26 88.7L143.35 89.1L143.43 90.4L143.51 90.5L143.59 88.1L143.68 91.2L143.76 86.0L143.85 90.8L143.93 91.8L144.01 91.8L144.10 95.3L144.18 93.4L144.26 90.9L144.35 90.5L144.43 92.7L144.51 87.0L144.60 89.3L144.68 87.3L144.76 88.9L144.85 91.1L144.93 87.2L145.01 89.2L145.10 93.9L145.18 95.3L145.27 91.3L145.35 89.3L145.43 91.0L145.52 88.9L145.60 92.7L145.68 90.3L145.77 90.0L145.85 94.0L145.94 90.9L146.02 90.9L146.10 90.5L146.19 92.1L146.27 92.4L146.36 96.4L146.44 93.8L146.52 94.4L146.61 96.5L146.69 94.8L146.78 95.1L146.86 94.1L146.94 95.5L147.03 95.9L147.11 97.2L147.20 98.8L147.28 99.8L147.36 98.4L147.45 100.5L147.53 98.6L147.62 96.6L147.70 95.5L147.79 93.7L147.87 95.3L147.95 92.8L148.04 95.7L148.12 94.0L148.21 94.1L148.29 96.5L148.38 96.9L148.46 95.8L148.55 96.8L148.63 96.5L148.71 91.8L148.80 96.8L148.88 97.4L148.97 96.9L149.05 97.1L149.14 96.3L149.22 95.0L149.31 96.9L149.39 95.2L149.48 95.9L149.56 95.6L149.65 100.0L149.73 93.6L149.81 97.9L149.90 97.3L149.98 100.1L150.07 100.1L150.15 97.0L150.24 97.4L150.32 96.4L150.41 98.6L150.49 99.1L150.58 96.8L150.66 96.8L150.75 95.9L150.83 96.9L150.92 96.2L151.00 97.3L151.09 92.9L151.17 93.5L151.26 93.0L151.34 98.2L151.43 94.8L151.51 98.2L151.60 97.2L151.68 98.0L151.77 96.2L151.86 99.3L151.94 99.1L152.03 100.5L152.11 100.8L152.20 98.2L152.28 99.9L152.37 97.6L152.45 99.3L152.54 100.0L152.62 97.5L152.71 97.4L152.79 100.3L152.88 99.3L152.96 99.0L153.05 99.2L153.14 102.4L153.22 101.5L153.31 101.7L153.39 101.0L153.48 100.3L153.56 102.6L153.65 97.1L153.74 99.6L153.82 102.7L153.91 103.4L153.99 101.3L154.08 105.5L154.16 101.5L154.25 101.9L154.34 101.1L154.42 101.4L154.51 106.3L154.59 103.6L154.68 102.2L154.76 107.0L154.85 105.5L154.94 101.9L155.02 103.1L155.11 106.4L155.19 104.0L155.28 102.6L155.37 98.4L155.45 103.2L155.54 105.2L155.62 103.5L155.71 102.2L155.80 102.5L155.88 101.3L155.97 104.0L156.06 105.6L156.14 102.4L156.23 102.4L156.31 100.7L156.40 100.5L156.49 102.9L156.57 100.7L156.66 101.4L156.75 103.3L156.83 101.4L156.92 103.4L157.01 104.5L157.09 104.4L157.18 102.5L157.26 98.0L157.35 103.1L157.44 105.2L157.52 103.7L157.61 102.7L157.70 101.6L157.78 103.4L157.87 99.2L157.96 101.6L158.04 100.0L158.13 104.2L158.22 103.6L158.30 99.8L158.39 105.5L158.48 103.0L158.56 105.8L158.65 100.3L158.74 106.0L158.82 106.9L158.91 113.2L159.00 119.4L159.09 115.2L159.17 118.8L159.26 116.1L159.35 118.6L159.43 116.8L159.52 109.0L159.61 104.2L159.69 98.0L159.78 104.8L159.87 106.5L159.96 106.2L160.04 104.4L160.13 102.0L160.22 104.6L160.30 104.5L160.39 104.0L160.48 111.8L160.57 123.1L160.65 127.7L160.74 132.9L160.83 130.4L160.91 128.0L161.00 125.5L161.09 116.4L161.18 103.0L161.26 100.4L161.35 100.5L161.44 97.9L161.53 99.0L161.61 101.3L161.70 97.9L161.79 95.5L161.88 99.5L161.96 99.3L162.05 98.3L162.14 95.7L162.23 98.9L162.31 98.1L162.40 98.9L162.49 97.2L162.58 97.1L162.67 97.3L162.75 93.4L162.84 92.0L162.93 97.8L163.02 94.6L163.10 96.3L163.19 92.5L163.28 99.2L163.37 98.0L163.46 95.4L163.54 97.0L163.63 94.7L163.72 91.9L163.81 94.5L163.90 91.7L163.98 88.4L164.07 93.1L164.16 93.3L164.25 95.4L164.34 91.1L164.42 93.2L164.51 87.0L164.60 85.4L164.69 86.5L164.78 89.0L164.86 86.0L164.95 87.8L165.04 90.2L165.13 90.1L165.22 87.4L165.31 87.9L165.39 85.3L165.48 82.6L165.57 84.0L165.66 82.4L165.75 85.1L165.84 82.6L165.93 84.4L166.01 82.5L166.10 86.3L166.19 86.0L166.28 92.6L166.37 88.2L166.46 89.3L166.55 90.3L166.63 86.6L166.72 93.0L166.81 89.4L166.90 88.6L166.99 87.6L167.08 86.5L167.17 91.3L167.25 88.4L167.34 87.9L167.43 86.3L167.52 85.4L167.61 88.6L167.70 88.1L167.79 89.1L167.88 87.3L167.97 84.7L168.05 86.9L168.14 88.9L168.23 88.3L168.32 88.7L168.41 90.4L168.50 83.1L168.59 85.5L168.68 85.6L168.77 81.0L168.86 84.6L168.95 81.9L169.03 83.3L169.12 82.4L169.21 86.0L169.30 86.4L169.39 85.7L169.48 85.8L169.57 84.8L169.66 86.8L169.75 86.3L169.84 84.9L169.93 85.7L170.02 86.9L170.11 86.0L170.20 84.4L170.29 85.3L170.37 86.4L170.46 89.8L170.55 89.8L170.64 86.9L170.73 86.9L170.82 88.5L170.91 87.4L171.00 86.3L171.09 88.0L171.18 88.0L171.27 90.2L171.36 88.2L171.45 88.8L171.54 89.8L171.63 85.9L171.72 91.7L171.81 85.4L171.90 84.1L171.99 85.2L172.08 89.1L172.17 85.8L172.26 89.4L172.35 88.9L172.44 84.6L172.53 85.9L172.62 84.3L172.71 87.8L172.80 90.3L172.89 89.0L172.98 85.1L173.07 85.7L173.16 88.7L173.25 99.7L173.34 115.0L173.43 123.9L173.52 121.9L173.61 125.3L173.70 123.3L173.79 121.4L173.88 108.4L173.97 97.1L174.06 89.4L174.15 87.2L174.24 89.1L174.33 88.1L174.42 87.4L174.51 87.5L174.60 84.8L174.70 84.8L174.79 89.5L174.88 84.2L174.97 88.7L175.06 89.4L175.15 90.2L175.24 88.5L175.33 89.9L175.42 92.1L175.51 89.2L175.60 90.4L175.69 83.6L175.78 87.4L175.87 85.3L175.96 83.8L176.05 82.0L176.15 81.5L176.24 84.3L176.33 83.4L176.42 84.1L176.51 81.9L176.60 84.8L176.69 88.5L176.78 82.3L176.87 84.2L176.96 82.4L177.06 87.6L177.15 87.9L177.24 86.3L177.33 89.3L177.42 87.2L177.51 84.0L177.60 82.9L177.69 88.4L177.78 80.9L177.88 82.5L177.97 81.9L178.06 83.0L178.15 82.7L178.24 83.9L178.33 84.9L178.42 86.8L178.51 87.3L178.61 95.6L178.70 101.3L178.79 104.4L178.88 105.7L178.97 105.6L179.06 107.6L179.15 99.9L179.25 92.3L179.34 88.5L179.43 91.1L179.52 93.1L179.61 114.1L179.70 130.2L179.80 135.8L179.89 136.3L179.98 136.2L180.07 132.6L180.16 118.4L180.25 94.0L180.35 82.9L180.44 80.1L180.53 84.7L180.62 87.5L180.71 86.9L180.81 89.9L180.90 82.3L180.99 81.5L181.08 83.0L181.17 82.5L181.27 82.9L181.36 85.1L181.45 83.6L181.54 87.4L181.63 86.6L181.73 86.4L181.82 90.6L181.91 89.2L182.00 86.1L182.09 85.7L182.19 91.3L182.28 84.7L182.37 85.4L182.46 84.7L182.56 85.6L182.65 84.3L182.74 88.6L182.83 85.4L182.93 87.1L183.02 87.5L183.11 84.1L183.20 84.5L183.30 88.6L183.39 89.0L183.48 88.0L183.57 88.5L183.67 85.8L183.76 88.5L183.85 93.7L183.94 88.7L184.04 90.5L184.13 91.7L184.22 91.9L184.31 93.3L184.41 95.0L184.50 92.2L184.59 94.5L184.68 94.3L184.78 94.2L184.87 90.4L184.96 95.0L185.06 89.7L185.15 91.7L185.24 89.1L185.33 89.2L185.43 92.6L185.52 95.8L185.61 92.7L185.71 94.1L185.80 98.2L185.89 96.1L185.99 96.7L186.08 92.3L186.17 92.1L186.27 96.9L186.36 96.4L186.45 96.5L186.55 93.5L186.64 93.0L186.73 92.0L186.82 97.4L186.92 94.5L187.01 96.4L187.10 98.5L187.20 99.3L187.29 100.1L187.38 97.9L187.48 99.0L187.57 96.3L187.67 98.9L187.76 101.4L187.85 99.8L187.95 98.2L188.04 101.3L188.13 100.5L188.23 98.9L188.32 102.9L188.41 99.5L188.51 99.9L188.60 101.2L188.70 100.8L188.79 101.3L188.88 101.3L188.98 101.3L189.07 100.9L189.16 101.0L189.26 102.9L189.35 104.2L189.45 105.5L189.54 126.2L189.63 141.3L189.73 148.7L189.82 150.8L189.92 152.2L190.01 149.9L190.10 148.4L190.20 147.2L190.29 149.3L190.39 152.7L190.48 156.3L190.57 156.6L190.67 156.4L190.76 154.5L190.86 146.2L190.95 128.1L191.04 113.8L191.14 105.8L191.23 99.3L191.33 103.0L191.42 101.1L191.52 101.1L191.61 99.3L191.71 100.5L191.80 103.0L191.89 102.7L191.99 102.3L192.08 101.3L192.18 103.7L192.27 104.9L192.37 102.7L192.46 102.8L192.56 102.8L192.65 104.5L192.75 102.7L192.84 107.1L192.93 105.3L193.03 102.3L193.12 107.0L193.22 105.1L193.31 104.9L193.41 105.1L193.50 107.4L193.60 103.2L193.69 104.1L193.79 102.9L193.88 102.7L193.98 103.2L194.07 101.0L194.17 101.8L194.26 107.0L194.36 106.2L194.45 105.8L194.55 109.1L194.64 103.3L194.74 106.8L194.83 104.1L194.93 104.7L195.02 104.9L195.12 105.6L195.21 104.9L195.31 103.3L195.40 102.9L195.50 105.1L195.59 105.9L195.69 106.0L195.79 103.4L195.88 104.5L195.98 106.5L196.07 107.1L196.17 104.9L196.26 104.6L196.36 103.3L196.45 100.7L196.55 102.4L196.64 103.3L196.74 102.6L196.84 101.6L196.93 106.7L197.03 104.4L197.12 106.4L197.22 105.2L197.31 106.2L197.41 109.4L197.51 109.9L197.60 114.4L197.70 111.3L197.79 110.0L197.89 112.6L197.98 111.2L198.08 104.7L198.18 108.3L198.27 108.0L198.37 108.9L198.46 109.9L198.56 109.4L198.66 111.8L198.75 105.9L198.85 110.2L198.94 108.5L199.04 109.4L199.14 106.3L199.23 107.7L199.33 108.1L199.43 107.6L199.52 108.6L199.62 109.8L199.71 107.7L199.81 111.9L199.91 107.8L200.00 107.7L200.10 108.9L200.20 111.2L200.29 106.9L200.39 110.7L200.48 109.7L200.58 113.3L200.68 110.7L200.77 111.0L200.87 110.6L200.97 110.0L201.06 106.4L201.16 107.6L201.26 108.0L201.35 105.3L201.45 110.3L201.55 107.5L201.64 111.5L201.74 112.2L201.84 112.4L201.93 114.1L202.03 114.0L202.13 114.0L202.22 112.2L202.32 110.1L202.42 109.5L202.51 111.8L202.61 110.4L202.71 110.6L202.81 111.3L202.90 110.9L203.00 112.0L203.10 110.0L203.19 111.0L203.29 111.5L203.39 110.6L203.49 110.3L203.58 111.1L203.68 111.8L203.78 111.2L203.87 112.1L203.97 111.3L204.07 110.8L204.17 112.3L204.26 111.2L204.36 112.1L204.46 113.2L204.55 112.2L204.65 114.4L204.75 112.0L204.85 112.6L204.94 113.0L205.04 110.5L205.14 110.3L205.24 110.5L205.33 113.8L205.43 114.3L205.53 118.5L205.63 122.1L205.72 125.5L205.82 124.1L205.92 124.0L206.02 122.4L206.12 119.4L206.21 115.5L206.31 111.0L206.41 111.6L206.51 112.4L206.60 110.6L206.70 111.6L206.80 112.9L206.90 114.2L207.00 111.5L207.09 112.2L207.19 111.6L207.29 114.7L207.39 112.7L207.49 112.3L207.58 112.5L207.68 112.8L207.78 114.7L207.88 113.4L207.98 114.3L208.08 113.6L208.17 112.2L208.27 113.0L208.37 112.4L208.47 112.3L208.57 111.3L208.66 113.1L208.76 113.7L208.86 112.3L208.96 112.4L209.06 113.0L209.16 110.2L209.25 111.6L209.35 111.0L209.45 110.7L209.55 111.9L209.65 112.3L209.75 112.5L209.85 110.8L209.94 112.0L210.04 110.2L210.14 111.5L210.24 109.8L210.34 109.5L210.44 110.6L210.54 109.8L210.64 109.3L210.73 109.7L210.83 110.0L210.93 111.1L211.03 111.7L211.13 109.7L211.23 111.1L211.33 111.6L211.43 110.3L211.53 112.6L211.62 112.4L211.72 109.1L211.82 107.1L211.92 107.1L212.02 105.3L212.12 112.8L212.22 118.0L212.32 128.2L212.42 131.8L212.52 130.3L212.62 130.2L212.72 131.8L212.81 129.1L212.91 123.4L213.01 115.6L213.11 110.9L213.21 116.5L213.31 124.8L213.41 130.0L213.51 130.4L213.61 130.1L213.71 132.2L213.81 130.7L213.91 126.8L214.01 124.4L214.11 128.5L214.21 133.7L214.31 134.3L214.41 132.4L214.51 134.1L214.61 130.2L214.70 126.5L214.80 115.1L214.90 109.5L215.00 109.7L215.10 109.9L215.20 110.2L215.30 108.2L215.40 111.1L215.50 112.4L215.60 110.9L215.70 110.4L215.80 112.0L215.90 112.1L216.00 110.0L216.10 116.8L216.20 132.2L216.30 146.5L216.40 148.7L216.50 151.1L216.60 150.3L216.70 144.3L216.80 129.7L216.90 113.0L217.00 110.8L217.10 112.0L217.20 110.5L217.31 111.0L217.41 111.4L217.51 111.6L217.61 112.5L217.71 115.1L217.81 114.9L217.91 110.6L218.01 113.8L218.11 115.5L218.21 113.7L218.31 113.4L218.41 114.2L218.51 114.6L218.61 117.7L218.71 114.5L218.81 115.9L218.91 112.5L219.01 114.8L219.11 114.3L219.22 115.8L219.32 115.9L219.42 115.6L219.52 116.5L219.62 117.7L219.72 118.0L219.82 117.4L219.92 118.2L220.02 117.5L220.12 119.2L220.22 118.6L220.33 120.3L220.43 116.3L220.53 116.0L220.63 116.9L220.73 118.1L220.83 117.4L220.93 119.6L221.03 119.7L221.13 117.0L221.24 120.4L221.34 119.2L221.44 120.5L221.54 123.0L221.64 122.4L221.74 122.5L221.84 123.7L221.94 127.6L222.05 127.1L222.15 125.5L222.25 123.2L222.35 121.9L222.45 120.9L222.55 120.1L222.65 122.6L222.76 122.6L222.86 120.6L222.96 121.4L223.06 120.3L223.16 119.6L223.26 119.2L223.37 117.3L223.47 119.7L223.57 120.5L223.67 118.9L223.77 117.2L223.87 118.4L223.98 118.3L224.08 120.2L224.18 118.2L224.28 115.3L224.38 116.8L224.49 117.3L224.59 114.7L224.69 117.0L224.79 115.1L224.89 116.3L225.00 116.0L225.10 114.8L225.20 112.3L225.30 113.3L225.40 115.1L225.51 115.2L225.61 113.1L225.71 112.1L225.81 111.7L225.92 112.8L226.02 112.3L226.12 114.9L226.22 113.1L226.33 112.8L226.43 112.5L226.53 112.7L226.63 113.8L226.74 115.8L226.84 114.4L226.94 114.9L227.04 115.2L227.15 114.3L227.25 113.8L227.35 114.7L227.45 112.1L227.56 116.1L227.66 117.1L227.76 114.6L227.86 116.7L227.97 115.6L228.07 115.3L228.17 116.9L228.28 115.5L228.38 115.6L228.48 116.3L228.58 115.9L228.69 116.8L228.79 117.8L228.89 116.8L229.00 117.2L229.10 117.2L229.20 117.7L229.30 115.1L229.41 116.2L229.51 119.0L229.61 116.3L229.72 119.4L229.82 115.6L229.92 114.6L230.03 113.6L230.13 115.8L230.23 115.9L230.34 113.0L230.44 114.3L230.54 114.2L230.65 116.8L230.75 115.5L230.85 118.8L230.96 116.2L231.06 119.1L231.16 118.1L231.27 118.6L231.37 114.7L231.47 115.1L231.58 115.8L231.68 114.1L231.79 115.3L231.89 117.1L231.99 115.0L232.10 116.8L232.20 115.4L232.30 115.3L232.41 120.0L232.51 128.7L232.62 136.9L232.72 140.9L232.82 139.9L232.93 139.5L233.03 135.3L233.13 122.7L233.24 118.1L233.34 116.5L233.45 116.0L233.55 115.4L233.65 115.8L233.76 117.7L233.86 114.9L233.97 115.2L234.07 114.7L234.18 116.8L234.28 117.9L234.38 118.5L234.49 117.3L234.59 118.3L234.70 117.7L234.80 118.8L234.91 120.0L235.01 118.6L235.11 118.0L235.22 117.7L235.32 119.4L235.43 117.6L235.53 117.5L235.64 119.2L235.74 115.8L235.85 116.3L235.95 116.1L236.06 114.2L236.16 115.4L236.26 116.0L236.37 115.3L236.47 115.2L236.58 115.2L236.68 116.8L236.79 116.6L236.89 115.4L237.00 117.7L237.10 116.3L237.21 116.0L237.31 116.3L237.42 114.1L237.52 114.7L237.63 117.7L237.73 118.2L237.84 119.7L237.94 118.6L238.05 115.6L238.15 119.2L238.26 115.8L238.36 117.1L238.47 120.5L238.57 126.6L238.68 128.5L238.78 130.2L238.89 130.7L238.99 129.1L239.10 127.7L239.21 117.9L239.31 120.9L239.42 120.1L239.52 117.8L239.63 120.0L239.73 126.4L239.84 135.6L239.94 144.4L240.05 145.1L240.15 145.1L240.26 144.6L240.37 134.8L240.47 123.6L240.58 116.0L240.68 119.3L240.79 118.6L240.89 118.5L241.00 117.3L241.11 119.4L241.21 119.2L241.32 116.5L241.42 118.5L241.53 117.7L241.63 118.2L241.74 119.2L241.85 118.8L241.95 117.0L242.06 116.5L242.16 116.5L242.27 116.2L242.38 114.0L242.48 113.7L242.59 113.9L242.70 115.1L242.80 115.9L242.91 113.2L243.01 116.9L243.12 113.0L243.23 116.6L243.33 118.2L243.44 113.1L243.55 114.9L243.65 112.7L243.76 114.4L243.86 115.2L243.97 114.5L244.08 116.5L244.18 116.3L244.29 116.7L244.40 118.4L244.50 115.2L244.61 117.0L244.72 116.5L244.82 115.8L244.93 117.7L245.04 115.8L245.14 115.9L245.25 114.7L245.36 115.3L245.46 114.8L245.57 116.5L245.68 116.5L245.78 118.4L245.89 116.1L246.00 116.5L246.10 117.0L246.21 117.1L246.32 116.5L246.43 117.2L246.53 119.5L246.64 116.7L246.75 118.0L246.85 117.9L246.96 119.4L247.07 120.5L247.18 118.3L247.28 118.3L247.39 119.4L247.50 119.0L247.60 118.5L247.71 118.5L247.82 118.5L247.93 119.6L248.03 119.5L248.14 119.2L248.25 120.4L248.36 118.0L248.46 119.1L248.57 120.9L248.68 117.7L248.79 117.0L248.89 120.9L249.00 120.0L249.11 120.5L249.22 119.0L249.32 130.7L249.43 154.0L249.54 170.2L249.65 172.8L249.76 173.6L249.86 170.2L249.97 153.7L250.08 129.2L250.19 130.4L250.29 147.0L250.40 158.3L250.51 161.7L250.62 161.6L250.73 161.1L250.83 156.2L250.94 142.8L251.05 124.9L251.16 120.2L251.27 122.0L251.38 119.1L251.48 121.3L251.59 122.1L251.70 119.1L251.81 120.9L251.92 120.2L252.02 120.8L252.13 120.4L252.24 122.0L252.35 119.4L252.46 121.0L252.57 120.4L252.67 120.5L252.78 122.6L252.89 123.1L253.00 121.8L253.11 120.1L253.22 122.7L253.33 122.6L253.43 121.9L253.54 121.1L253.65 119.0L253.76 119.8L253.87 118.5L253.98 119.5L254.09 118.6L254.20 120.8L254.30 120.8L254.41 122.7L254.52 122.5L254.63 122.4L254.74 122.4L254.85 121.3L254.96 123.2L255.07 123.9L255.18 121.9L255.29 122.1L255.39 122.3L255.50 120.5L255.61 120.5L255.72 122.3L255.83 123.1L255.94 125.5L256.05 123.3L256.16 121.3L256.27 123.6L256.38 121.7L256.49 122.6L256.60 122.9L256.70 122.6L256.81 123.5L256.92 122.5L257.03 122.1L257.14 123.1L257.25 123.1L257.36 121.4L257.47 121.2L257.58 123.5L257.69 122.9L257.80 123.7L257.91 121.2L258.02 123.9L258.13 124.6L258.24 124.5L258.35 122.5L258.46 124.2L258.57 125.2L258.68 129.1L258.79 128.4L258.90 127.9L259.01 128.4L259.12 130.5L259.23 127.1L259.34 125.9L259.45 119.9L259.56 123.2L259.67 123.5L259.78 123.9L259.89 122.6L260.00 124.4L260.11 124.1L260.22 123.9L260.33 125.4L260.44 121.2L260.55 121.2L260.66 123.5L260.77 122.9L260.88 119.8L260.99 119.1L261.10 121.4L261.21 120.9L261.32 121.2L261.43 120.8L261.54 124.2L261.65 124.1L261.76 121.7L261.87 122.4L261.98 122.2L262.10 122.9L262.21 122.4L262.32 122.5L262.43 123.1L262.54 122.0L262.65 123.3L262.76 121.1L262.87 123.2L262.98 122.0L263.09 120.7L263.20 122.5L263.31 121.4L263.42 120.8L263.54 120.7L263.65 121.9L263.76 119.6L263.87 120.7L263.98 122.1L264.09 118.5L264.20 120.0L264.31 120.1L264.42 119.5L264.54 121.2L264.65 120.1L264.76 122.2L264.87 122.6L264.98 122.4L265.09 119.5L265.20 121.7L265.31 121.0L265.43 122.6L265.54 121.4L265.65 123.6L265.76 121.3L265.87 120.7L265.98 121.8L266.09 123.3L266.21 123.5L266.32 121.6L266.43 121.0L266.54 122.5L266.65 121.1L266.76 124.5L266.88 122.2L266.99 121.9L267.10 120.8L267.21 124.0L267.32 121.6L267.44 121.4L267.55 122.4L267.66 122.0L267.77 121.8L267.88 121.9L267.99 122.7L268.11 122.6L268.22 122.0L268.33 122.3L268.44 122.2L268.55 122.5L268.67 125.5L268.78 124.1L268.89 124.6L269.00 125.2L269.12 126.6L269.23 124.9L269.34 124.0L269.45 125.6L269.57 126.6L269.68 124.5L269.79 125.3L269.90 125.1L270.01 125.0L270.13 125.8L270.24 125.4L270.35 125.8L270.46 127.5L270.58 124.6L270.69 125.8L270.80 126.3L270.92 125.1L271.03 127.0L271.14 126.1L271.25 126.0L271.37 127.3L271.48 128.3L271.59 126.8L271.70 126.9L271.82 125.6L271.93 128.2L272.04 127.2L272.16 126.8L272.27 126.5L272.38 126.6L272.49 126.6L272.61 129.7L272.72 128.1L272.83 128.3L272.95 128.8L273.06 127.7L273.17 128.1L273.29 128.9L273.40 128.8L273.51 126.8L273.63 129.8L273.74 127.6L273.85 128.3L273.97 127.4L274.08 125.8L274.19 127.3L274.31 128.2L274.42 127.2L274.53 126.8L274.65 127.7L274.76 127.1L274.87 129.1L274.99 128.4L275.10 128.8L275.22 128.7L275.33 128.6L275.44 129.3L275.56 128.6L275.67 126.8L275.78 127.8L275.90 128.7L276.01 127.2L276.13 128.1L276.24 130.7L276.35 130.4L276.47 128.1L276.58 129.6L276.69 130.2L276.81 131.0L276.92 131.2L277.04 129.2L277.15 131.0L277.27 129.5L277.38 128.3L277.49 129.4L277.61 130.1L277.72 129.4L277.84 129.9L277.95 131.2L278.06 130.6L278.18 131.9L278.29 132.7L278.41 131.1L278.52 132.7L278.64 131.2L278.75 130.6L278.87 130.5L278.98 129.0L279.09 131.5L279.21 130.9L279.32 133.4L279.44 142.0L279.55 144.5L279.67 147.4L279.78 147.1L279.90 145.4L280.01 136.6L280.13 132.5L280.24 131.9L280.36 130.4L280.47 131.2L280.59 132.8L280.70 129.7L280.82 130.3L280.93 132.9L281.05 133.0L281.16 131.4L281.28 132.4L281.39 132.1L281.51 131.8L281.62 132.7L281.74 143.6L281.85 151.1L281.97 151.5L282.08 151.4L282.20 149.2L282.31 139.1L282.43 128.5L282.54 129.0L282.66 129.4L282.77 128.1L282.89 128.4L283.00 127.2L283.12 126.7L283.24 127.6L283.35 125.7L283.47 127.9L283.58 125.8L283.70 128.0L283.81 129.4L283.93 128.9L284.04 128.9L284.16 127.5L284.28 127.0L284.39 125.5L284.51 130.4L284.62 128.3L284.74 127.4L284.85 127.5L284.97 127.7L285.09 125.1L285.20 129.9L285.32 127.0L285.43 127.9L285.55 127.1L285.67 126.0L285.78 127.2L285.90 126.5L286.01 125.8L286.13 125.9L286.25 129.0L286.36 127.6L286.48 127.9L286.60 127.3L286.71 126.4L286.83 124.6L286.94 131.4L287.06 142.9L287.18 153.0L287.29 155.1L287.41 156.4L287.53 156.2L287.64 157.2L287.76 161.6L287.88 164.1L287.99 163.3L288.11 162.3L288.23 157.3L288.34 139.5L288.46 131.4L288.58 129.0L288.69 129.1L288.81 130.6L288.93 129.2L289.04 130.1L289.16 129.8L289.28 127.6L289.39 128.7L289.51 128.8L289.63 128.0L289.75 129.1L289.86 128.1L289.98 129.1L290.10 129.5L290.21 130.4L290.33 131.5L290.45 131.5L290.56 131.5L290.68 130.3L290.80 130.5L290.92 131.8L291.03 129.8L291.15 131.2L291.27 131.3L291.39 132.8L291.50 132.3L291.62 130.4L291.74 130.3L291.86 131.0L291.97 129.9L292.09 131.2L292.21 130.8L292.33 129.8L292.44 130.4L292.56 131.2L292.68 132.3L292.80 130.1L292.91 133.2L293.03 131.7L293.15 132.7L293.27 131.5L293.38 130.7L293.50 131.3L293.62 131.1L293.74 130.7L293.86 129.4L293.97 130.2L294.09 131.5L294.21 132.2L294.33 132.4L294.45 132.1L294.56 132.9L294.68 132.0L294.80 133.0L294.92 133.2L295.04 133.1L295.16 131.4L295.27 132.1L295.39 128.9L295.51 130.9L295.63 130.1L295.75 129.9L295.87 132.2L295.98 132.9L296.10 132.3L296.22 131.7L296.34 131.9L296.46 131.0L296.58 131.1L296.70 130.5L296.81 130.1L296.93 131.2L297.05 130.4L297.17 131.4L297.29 133.6L297.41 134.0L297.53 136.6L297.64 134.0L297.76 132.8L297.88 133.8L298.00 131.1L298.12 131.3L298.24 132.8L298.36 132.4L298.48 132.0L298.60 132.0L298.72 132.5L298.83 132.4L298.95 133.1L299.07 131.1L299.19 131.9L299.31 131.7L299.43 132.9L299.55 132.3L299.67 133.2L299.79 132.6L299.91 131.1L300.03 132.3L300.15 132.1L300.27 131.5L300.38 132.8L300.50 130.4L300.62 132.7L300.74 132.4L300.86 129.9L300.98 133.2L301.10 130.4L301.22 131.9L301.34 131.6L301.46 133.8L301.58 132.8L301.70 134.3L301.82 132.4L301.94 132.8L302.06 133.3L302.18 133.6L302.30 132.9L302.42 132.3L302.54 132.4L302.66 134.2L302.78 134.7L302.90 134.9L303.02 133.0L303.14 133.1L303.26 133.8L303.38 134.9L303.50 133.0L303.62 133.6L303.74 132.7L303.86 133.2L303.98 132.8L304.10 132.9L304.22 132.4L304.34 133.8L304.46 132.9L304.58 133.6L304.70 133.9L304.82 132.7L304.94 131.6L305.06 131.7L305.18 132.4L305.31 133.9L305.43 132.5L305.55 133.0L305.67 132.4L305.79 132.4L305.91 133.6L306.03 134.5L306.15 134.4L306.27 134.3L306.39 134.4L306.51 133.5L306.63 134.2L306.75 133.2L306.88 133.1L307.00 133.4L307.12 133.1L307.24 134.1L307.36 133.8L307.48 133.2L307.60 134.4L307.72 135.4L307.84 133.9L307.96 133.4L308.09 132.4L308.21 131.9L308.33 132.8L308.45 133.1L308.57 131.9L308.69 134.3L308.81 133.4L308.94 133.5L309.06 133.5L309.18 133.0L309.30 132.4L309.42 131.6L309.54 132.3L309.66 133.8L309.79 133.4L309.91 132.8L310.03 133.1L310.15 134.0L310.27 134.5L310.39 133.3L310.52 133.7L310.64 134.4L310.76 134.6L310.88 133.9L311.00 133.2L311.13 134.8L311.25 135.0L311.37 133.1L311.49 134.5L311.61 134.9L311.74 133.8L311.86 133.9L311.98 133.9L312.10 134.2L312.22 134.4L312.35 135.3L312.47 135.6L312.59 137.2L312.71 134.2L312.84 134.9L312.96 134.9L313.08 135.3L313.20 136.1L313.32 134.9L313.45 135.2L313.57 136.2L313.69 133.9L313.81 136.0L313.94 135.0L314.06 133.5L314.18 136.0L314.30 135.2L314.43 134.7L314.55 135.7L314.67 136.9L314.80 136.5L314.92 136.2L315.04 137.2L315.16 134.9L315.29 135.9L315.41 135.5L315.53 135.4L315.66 135.7L315.78 138.7L315.90 142.7L316.02 142.2L316.15 142.6L316.27 141.1L316.39 140.5L316.52 135.8L316.64 133.8L316.76 136.8L316.89 136.5L317.01 135.7L317.13 134.4L317.26 136.3L317.38 135.0L317.50 135.1L317.63 135.2L317.75 135.5L317.87 134.4L318.00 135.5L318.12 137.1L318.24 137.2L318.37 136.8L318.49 138.2L318.62 137.5L318.74 137.3L318.86 138.3L318.99 135.4L319.11 138.0L319.23 136.4L319.36 136.4L319.48 136.7L319.61 136.7L319.73 146.0L319.85 156.4L319.98 158.8L320.10 159.3L320.22 159.7L320.35 156.5L320.47 145.8L320.60 143.6L320.72 152.6L320.85 156.1L320.97 157.5L321.09 157.2L321.22 155.5L321.34 148.4L321.47 137.9L321.59 133.7L321.72 135.4L321.84 135.7L321.96 136.6L322.09 136.0L322.21 136.4L322.34 136.4L322.46 137.5L322.59 136.9L322.71 137.2L322.84 136.2L322.96 136.4L323.08 135.5L323.21 136.3L323.33 136.6L323.46 135.7L323.58 136.9L323.71 137.0L323.83 136.1L323.96 136.4L324.08 136.2L324.21 137.8L324.33 135.8L324.46 136.6L324.58 135.5L324.71 137.5L324.83 136.5L324.96 136.5L325.08 134.7L325.21 136.8L325.33 135.2L325.46 136.7L325.58 136.6L325.71 135.6L325.83 134.9L325.96 135.6L326.09 135.4L326.21 135.6L326.34 136.0L326.46 135.0L326.59 136.1L326.71 135.6L326.84 137.1L326.96 136.5L327.09 135.4L327.21 136.2L327.34 137.0L327.47 134.4L327.59 134.3L327.72 135.1L327.84 134.9L327.97 135.4L328.09 135.0L328.22 134.6L328.35 135.3L328.47 135.9L328.60 136.3L328.72 135.8L328.85 136.4L328.98 135.5L329.10 137.2L329.23 137.2L329.35 136.3L329.48 136.4L329.61 136.6L329.73 137.1L329.86 136.5L329.99 138.0L330.11 137.9L330.24 138.1L330.36 136.6L330.49 135.8L330.62 138.5L330.74 139.6L330.87 139.6L331.00 138.2L331.12 138.5L331.25 137.2L331.38 137.1L331.50 136.2L331.63 135.6L331.76 136.6L331.88 137.7L332.01 136.2L332.14 136.9L332.26 135.4L332.39 137.7L332.52 137.1L332.64 136.5L332.77 137.7L332.90 136.4L333.02 136.5L333.15 137.4L333.28 137.1L333.41 137.5L333.53 138.4L333.66 137.4L333.79 138.2L333.91 137.9L334.04 137.8L334.17 136.8L334.30 137.4L334.42 137.4L334.55 138.7L334.68 137.6L334.80 137.1L334.93 139.6L335.06 137.9L335.19 138.2L335.31 139.4L335.44 138.7L335.57 137.9L335.70 138.5L335.82 137.9L335.95 137.4L336.08 138.6L336.21 137.6L336.34 138.8L336.46 138.3L336.59 136.3L336.72 136.8L336.85 136.5L336.97 137.9L337.10 137.0L337.23 137.2L337.36 135.1L337.49 137.7L337.61 137.7L337.74 137.7L337.87 137.2L338.00 137.8L338.13 137.5L338.25 136.8L338.38 136.7L338.51 137.9L338.64 136.9L338.77 135.1L338.90 136.6L339.02 135.7L339.15 136.2L339.28 136.5L339.41 137.1L339.54 136.3L339.67 138.2L339.79 135.3L339.92 136.3L340.05 136.4L340.18 137.6L340.31 137.7L340.44 137.8L340.57 137.9L340.70 138.4L340.82 138.6L340.95 137.7L341.08 136.8L341.21 136.3L341.34 136.9L341.47 137.1L341.60 136.6L341.73 136.2L341.86 137.2L341.98 136.7L342.11 137.1L342.24 137.4L342.37 138.1L342.50 136.9L342.63 137.7L342.76 137.8L342.89 136.4L343.02 135.6L343.15 136.1L343.28 135.9L343.41 137.1L343.53 136.7L343.66 135.8L343.79 135.3L343.92 139.0L344.05 135.6L344.18 136.6L344.31 136.7L344.44 137.1L344.57 136.9L344.70 137.7L344.83 136.8L344.96 137.8L345.09 136.9L345.22 138.0L345.35 136.5L345.48 136.8L345.61 137.5L345.74 136.4L345.87 136.8L346.00 136.8L346.13 136.0L346.26 135.4L346.39 135.2L346.52 136.3L346.65 135.4L346.78 135.7L346.91 136.0L347.04 135.9L347.17 137.6L347.30 136.8L347.43 135.9L347.56 137.8L347.69 137.4L347.82 135.7L347.95 137.3L348.08 136.4L348.21 136.6L348.34 136.4L348.47 135.2L348.60 135.2L348.73 136.0L348.86 134.7L349.00 137.0L349.13 136.5L349.26 136.2L349.39 136.2L349.52 137.7L349.65 136.7L349.78 138.3L349.91 137.3L350.04 137.3L350.17 137.5L350.30 137.2L350.43 136.4L350.57 137.2L350.70 138.4L350.83 141.3L350.96 141.0L351.09 139.5L351.22 139.4L351.35 136.4L351.48 135.0L351.61 134.1L351.75 134.0L351.88 134.2L352.01 135.6L352.14 135.2L352.27 137.2L352.40 135.1L352.53 136.1L352.66 135.4L352.80 135.6L352.93 134.5L353.06 135.6L353.19 137.0L353.32 135.5L353.45 135.7L353.59 135.1L353.72 134.3L353.85 135.6L353.98 134.2L354.11 134.1L354.25 133.7L354.38 136.0L354.51 134.5L354.64 135.4L354.77 135.3L354.90 135.6L355.04 134.9L355.17 133.8L355.30 133.3L355.43 134.5L355.57 135.4L355.70 133.2L355.83 135.1L355.96 134.5L356.09 133.6L356.23 134.8L356.36 133.5L356.49 134.3L356.62 135.3L356.76 134.6L356.89 135.2L357.02 132.9L357.15 132.1L357.29 132.2L357.42 134.1L357.55 131.5L357.68 132.3L357.82 132.2L357.95 133.4L358.08 134.4L358.21 134.0L358.35 133.3L358.48 133.0L358.61 133.8L358.75 133.9L358.88 133.8L359.01 133.7L359.14 131.9L359.28 132.2L359.41 132.6L359.54 133.7L359.68 133.4L359.81 131.0L359.94 130.6L360.08 130.2L360.21 130.9L360.34 131.1L360.48 131.6L360.61 131.2L360.74 132.6L360.88 130.4L361.01 129.9L361.14 129.1L361.28 131.6L361.41 130.7L361.54 129.0L361.68 127.7L361.81 128.8L361.94 127.6L362.08 126.7L362.21 125.5L362.34 124.2L362.48 123.1L362.61 123.2L362.75 121.8L362.88 121.0L363.01 118.5L363.15 121.2L363.28 120.1L363.42 120.0L363.55 119.4L363.68 118.8L363.82 118.0L363.95 120.3L364.09 117.3L364.22 116.9L364.35 116.5L364.49 116.4L364.62 115.3L364.76 116.5L364.89 119.0L365.03 118.1L365.16 118.5L365.29 119.4L365.43 119.6L365.56 118.6L365.70 120.0L365.83 119.5L365.97 119.9L366.10 119.2L366.24 119.9L366.37 122.5L366.50 122.5L366.64 124.5L366.77 124.4L366.91 128.1L367.04 127.1L367.18 126.5L367.31 128.3L367.45 130.1L367.58 131.0L367.72 130.5L367.85 132.6L367.99 132.8L368.12 134.6L368.26 136.1L368.39 136.8L368.53 136.9L368.66 137.3L368.80 139.2L368.93 139.5L369.07 139.8L369.20 139.0L369.34 138.5L369.48 140.3L369.61 140.1L369.75 141.3L369.88 141.0L370.02 143.0L370.15 141.9L370.29 142.7L370.42 142.7L370.56 142.2L370.69 142.3L370.83 142.4L370.97 141.9L371.10 142.1L371.24 141.4L371.37 141.8L371.51 142.5L371.65 142.3L371.78 142.8L371.92 142.5L372.05 141.1L372.19 143.5L372.32 143.7L372.46 143.9L372.60 142.7L372.73 143.5L372.87 141.9L373.01 141.5L373.14 142.1L373.28 140.6L373.41 140.7L373.55 143.7L373.69 142.7L373.82 141.6L373.96 143.4L374.10 143.5L374.23 142.9L374.37 143.2L374.50 143.4L374.64 143.2L374.78 142.5L374.91 144.8L375.05 143.8L375.19 144.5L375.32 143.6L375.46 144.2L375.60 143.9L375.73 144.0L375.87 142.5L376.01 144.7L376.15 144.3L376.28 143.6L376.42 144.1L376.56 143.7L376.69 145.0L376.83 144.3L376.97 144.5L377.10 144.5L377.24 145.7L377.38 145.9L377.52 146.4L377.65 146.0L377.79 148.2L377.93 147.3L378.07 147.1L378.20 145.3L378.34 145.0L378.48 145.9L378.61 145.2L378.75 146.6L378.89 145.4L379.03 145.8L379.16 146.2L379.30 146.1L379.44 145.8L379.58 147.2L379.72 145.2L379.85 146.3L379.99 145.1L380.13 145.9L380.27 144.8L380.40 146.1L380.54 144.8L380.68 145.3L380.82 145.5L380.96 144.7L381.09 145.2L381.23 145.3L381.37 145.1L381.51 145.5L381.65 145.3L381.78 145.1L381.92 144.2L382.06 144.7L382.20 144.9L382.34 144.2L382.48 144.6L382.61 144.8L382.75 145.3L382.89 143.5L383.03 144.9L383.17 144.3L383.31 145.7L383.45 145.7L383.58 143.8L383.72 145.0L383.86 144.9L384.00 145.1L384.14 145.4L384.28 144.2L384.42 145.6L384.56 144.5L384.69 145.3L384.83 143.1L384.97 144.2L385.11 144.1L385.25 145.9L385.39 144.6L385.53 145.4L385.67 145.7L385.81 146.0L385.94 145.0L386.08 145.3L386.22 145.7L386.36 145.7L386.50 145.6L386.64 145.6L386.78 145.4L386.92 145.7L387.06 145.4L387.20 146.3L387.34 144.8L387.48 144.4L387.62 145.0L387.76 143.9L387.90 145.1L388.04 144.7L388.18 144.0L388.32 144.7L388.45 145.1L388.59 144.2L388.73 144.4L388.87 143.6L389.01 143.9L389.15 144.3L389.29 143.7L389.43 143.0L389.57 143.4L389.71 143.8L389.85 144.4L389.99 144.5L390.13 144.5L390.27 143.8L390.41 145.5L390.55 144.9L390.69 143.9L390.84 145.8L390.98 144.7L391.12 145.6L391.26 145.3L391.40 144.9L391.54 145.3L391.68 145.6L391.82 144.9L391.96 144.4L392.10 144.7L392.24 144.7L392.38 143.6L392.52 144.7L392.66 144.7L392.80 143.9L392.94 142.7L393.08 144.0L393.22 143.8L393.37 144.3L393.51 144.2L393.65 144.7L393.79 143.6L393.93 144.1L394.07 144.5L394.21 143.4L394.35 144.7L394.49 143.2L394.63 143.8L394.78 144.1L394.92 144.2L395.06 144.4L395.20 144.0L395.34 144.4L395.48 143.2L395.62 143.7L395.76 144.0L395.91 144.9L396.05 144.5L396.19 143.8L396.33 144.0L396.47 144.2L396.61 144.2L396.76 143.6L396.90 145.4L397.04 144.9L397.18 145.3L397.32 144.1L397.46 145.8L397.61 145.3L397.75 144.4L397.89 145.3L398.03 144.7L398.17 145.0L398.32 144.6L398.46 143.5L398.60 145.4L398.74 144.7L398.88 143.8L399.03 143.2L399.17 144.3L399.31 143.1L399.45 143.5L399.59 143.5L399.74 144.9L399.88 144.9L400.02 144.1L400.16 144.6L400.31 144.8L400.45 145.4L400.59 144.3L400.73 144.8L400.88 143.5L401.02 144.9L401.16 144.7L401.30 144.8L401.45 145.7L401.59 146.0L401.73 145.9L401.88 145.6L402.02 146.2L402.16 144.8L402.30 146.1L402.45 145.4L402.59 145.2L402.73 145.8L402.88 146.5L403.02 145.5L403.16 145.3L403.31 146.2L403.45 146.3L403.59 147.5L403.74 147.0L403.88 146.8L404.02 146.7L404.17 146.7M406.32 150.8L406.46 151.9L406.61 151.0L406.75 151.0L406.89 151.8L407.04 152.1L407.18 151.8L407.33 151.4L407.47 152.7L407.61 151.1L407.76 151.8L407.90 151.4L408.05 152.3L408.19 151.2L408.34 152.1L408.48 151.1L408.62 152.6L408.77 152.7L408.91 152.1L409.06 152.1L409.20 152.6L409.35 152.0L409.49 152.6L409.64 153.3L409.78 153.9L409.93 153.7L410.07 152.6L410.21 152.7L410.36 153.6L410.50 153.0L410.65 153.0L410.79 152.8L410.94 152.5L411.08 153.6L411.23 152.6L411.37 152.3L411.52 152.6L411.66 152.7L411.81 153.3L411.95 152.6L412.10 152.2L412.24 152.0L412.39 152.7L412.54 152.0L412.68 152.1L412.83 152.0L412.97 152.3L413.12 151.9L413.26 152.2L413.41 151.2L413.55 152.3L413.70 151.4L413.84 151.7L413.99 152.3L414.14 151.3L414.28 150.6L414.43 150.4L414.57 150.2L414.72 151.1L414.86 150.5L415.01 151.2L415.16 150.0L415.30 150.2L415.45 151.4L415.59 151.1L415.74 151.5L415.89 151.4L416.03 151.2L416.18 151.7L416.32 151.4L416.47 150.9L416.62 151.5L416.76 150.9L416.91 151.5L417.05 151.4L417.20 151.8L417.35 150.6L417.49 151.4L417.64 150.9L417.79 151.5L417.93 150.4L418.08 150.9L418.23 150.2L418.37 149.3L418.52 150.0L418.67 151.1L418.81 149.7L418.96 150.1L419.11 149.8L419.25 150.2L419.40 149.9L419.55 150.0L419.69 150.6L419.84 150.8L419.99 150.2L420.13 149.9L420.28 150.9L420.43 150.0L420.58 151.0L420.72 149.7L420.87 149.1L421.02 149.6L421.16 150.2L421.31 149.6L421.46 149.3L421.61 149.1L421.75 148.8L421.90 149.2L422.05 150.1L422.20 149.8L422.34 149.4L422.49 149.7L422.64 150.4L422.79 149.5L422.93 149.6L423.08 149.1L423.23 149.2L423.38 149.9L423.53 149.5L423.67 149.0L423.82 149.8L423.97 149.5L424.12 149.7L424.26 149.6L424.41 148.8L424.56 149.3L424.71 149.9L424.86 149.0L425.01 149.8L425.15 150.1L425.30 150.2L425.45 149.0L425.60 150.2L425.75 149.9L425.89 150.5L426.04 150.0L426.19 149.6L426.34 150.3L426.49 149.6L426.64 148.9L426.79 148.8L426.93 149.3L427.08 148.3L427.23 149.7L427.38 149.2L427.53 149.4L427.68 150.0L427.83 149.2L427.98 150.1L428.12 150.1L428.27 149.8L428.42 150.1L428.57 148.9L428.72 149.9L428.87 150.1L429.02 149.5L429.17 149.6L429.32 150.0L429.47 149.9L429.61 149.6L429.76 149.6L429.91 150.9L430.06 150.0L430.21 150.0L430.36 150.1L430.51 151.1L430.66 151.0L430.81 150.7L430.96 151.4L431.11 151.7L431.26 152.4L431.41 152.6L431.56 153.2L431.71 153.6L431.86 154.0L432.01 154.5L432.16 154.9L432.31 154.3L432.46 155.1L432.61 155.1L432.76 155.7L432.91 154.9L433.06 155.1L433.21 155.2L433.36 157.5L433.51 157.4L433.66 158.5L433.81 158.7L433.96 155.9L434.11 152.8L434.26 149.2L434.41 152.7L434.56 152.6L434.71 155.9L434.86 157.7L435.01 156.6L435.16 155.9L435.31 153.7L435.46 151.0L435.61 150.8L435.76 148.2L435.91 150.0L436.06 152.5L436.21 148.8L436.36 150.0L436.51 148.5L436.67 148.8L436.82 149.0L436.97 146.2L437.12 149.8L437.27 150.5L437.42 148.3L437.57 148.1L437.72 149.8L437.87 150.7L438.02 155.6L438.18 158.0L438.33 158.8L438.48 159.6L438.63 156.8L438.78 156.4L438.93 151.6L439.08 152.0L439.23 152.7L439.39 150.1L439.54 150.0L439.69 147.8L439.84 152.6L439.99 150.6L440.14 149.9L440.30 151.3L440.45 149.2L440.60 148.9L440.75 147.1L440.90 146.7L441.05 150.5L441.21 151.0L441.36 152.8L441.51 154.3L441.66 155.2L441.81 155.4L441.97 153.8L442.12 152.2L442.27 151.1L442.42 151.9L442.57 151.3L442.73 152.1L442.88 150.1L443.03 150.7L443.18 152.9L443.34 149.6L443.49 150.7L443.64 149.0L443.79 149.8L443.95 149.1L444.10 147.4L444.25 148.9L444.40 148.3L444.56 149.6L444.71 149.1L444.86 152.2L445.01 153.0L445.17 152.7L445.32 151.7L445.47 150.4L445.63 149.3L445.78 148.8L445.93 146.0L446.08 146.1L446.24 149.6L446.39 147.0L446.54 147.4L446.70 147.7L446.85 148.3L447.00 149.3L447.16 146.1L447.31 146.2L447.46 147.8L447.62 148.6L447.77 148.6L447.92 148.9L448.08 148.3L448.23 148.7L448.38 149.5L448.54 148.7L448.69 148.9L448.84 148.8L449.00 149.0L449.15 148.3L449.30 149.0L449.46 150.2L449.61 149.4L449.77 150.1L449.92 149.1L450.07 149.0L450.23 148.1L450.38 149.0L450.54 148.9L450.69 149.2L450.84 149.1L451.00 148.7L451.15 149.4L451.31 148.2L451.46 149.8L451.62 149.5L451.77 148.7L451.92 148.8L452.08 148.4L452.23 148.1L452.39 149.0L452.54 148.4L452.70 148.3L452.85 148.2L453.00 148.3L453.16 148.2L453.31 148.5L453.47 147.7L453.62 147.4L453.78 147.6L453.93 147.5L454.09 148.4L454.24 148.1L454.40 147.6L454.55 148.7L454.71 148.6L454.86 147.5L455.02 147.9L455.17 146.9L455.33 147.6L455.48 148.0L455.64 148.7L455.79 147.6L455.95 148.4L456.10 148.9L456.26 149.8L456.41 149.8L456.57 149.2L456.73 148.0L456.88 149.5L457.04 148.8L457.19 148.9L457.35 150.1L457.50 149.0L457.66 147.6L457.81 149.4L457.97 147.3L458.13 148.2L458.28 148.9L458.44 146.9L458.59 148.4L458.75 147.4L458.91 148.2L459.06 148.8L459.22 147.5L459.37 147.3L459.53 147.3L459.69 149.0L459.84 148.3L460.00 149.2L460.15 148.8L460.31 147.7L460.47 149.3L460.62 147.1L460.78 149.4L460.94 148.8L461.09 147.8L461.25 148.4L461.41 148.0L461.56 148.6L461.72 147.6L461.88 147.9L462.03 148.2L462.19 148.7L462.35 149.2L462.50 148.4L462.66 149.3L462.82 148.4L462.97 147.4L463.13 147.4L463.29 147.9L463.44 148.7L463.60 146.6L463.76 146.7L463.91 147.2L464.07 146.4L464.23 146.4L464.39 148.1L464.54 147.7L464.70 148.3L464.86 147.2L465.02 148.0L465.17 149.1L465.33 148.8L465.49 148.4L465.64 149.2L465.80 148.9L465.96 149.0L466.12 148.9L466.28 148.6L466.43 148.5L466.59 149.5L466.75 149.7L466.91 149.0L467.06 148.4L467.22 148.2L467.38 150.4L467.54 149.0L467.70 149.8L467.85 150.0L468.01 149.4L468.17 149.5L468.33 149.5L468.49 151.2L468.64 150.3L468.80 149.6L468.96 149.9L469.12 151.0L469.28 150.2L469.44 150.2L469.59 149.4L469.75 149.2L469.91 150.9L470.07 149.8M474.04 174.7L474.20 173.9L474.36 172.4L474.52 171.3L474.68 169.4L474.84 168.6L475.00 167.4L475.16 166.4L475.32 165.0L475.48 164.7L475.64 163.4L475.80 162.2L475.96 161.0L476.12 160.7L476.28 159.1L476.44 159.1L476.60 158.0L476.76 158.0L476.92 157.7L477.08 156.7L477.24 156.4L477.40 156.4L477.56 155.5L477.72 154.3L477.88 154.9L478.04 153.5L478.20 153.8L478.36 152.8L478.52 153.2L478.68 153.5L478.84 153.2L479.00 153.8L479.16 154.2L479.33 153.6L479.49 153.7L479.65 154.2L479.81 152.3L479.97 152.9L480.13 153.3L480.29 152.1L480.45 151.9L480.61 152.5L480.77 152.4L480.93 153.3L481.10 152.7L481.26 152.0L481.42 152.8L481.58 152.8L481.74 153.5L481.90 154.0L482.06 152.9L482.22 152.9L482.38 152.9L482.55 152.7L482.71 152.2L482.87 152.5L483.03 152.7L483.19 152.4L483.35 153.4L483.52 153.2L483.68 152.6L483.84 153.3L484.00 153.3L484.16 152.9L484.32 152.4L484.49 153.3L484.65 153.0L484.81 152.7L484.97 151.3L485.13 152.0L485.30 152.3L485.46 153.1L485.62 152.3L485.78 152.6L485.94 153.4L486.11 153.8L486.27 153.7L486.43 154.5L486.59 153.8L486.76 153.6L486.92 153.8L487.08 153.1L487.24 153.8L487.40 152.2L487.57 152.6L487.73 153.3L487.89 152.3L488.06 152.5L488.22 153.3L488.38 153.7L488.54 153.3L488.71 153.3L488.87 153.2L489.03 152.8L489.19 152.9L489.36 154.1L489.52 153.0L489.68 154.0L489.85 152.5L490.01 152.9L490.17 153.0L490.34 153.4L490.50 153.5L490.66 153.9L490.83 155.0L490.99 153.6L491.15 152.0L491.32 152.7L491.48 153.4L491.64 153.1L491.81 152.9L491.97 153.9L492.13 153.3L492.30 153.4L492.46 153.8L492.62 153.6L492.79 153.5L492.95 154.3L493.12 154.4L493.28 154.9L493.44 154.3L493.61 155.1L493.77 155.2L493.94 154.0L494.10 154.5L494.26 155.3L494.43 154.2L494.59 154.3L494.76 154.2L494.92 154.5L495.08 154.1L495.25 154.4L495.41 154.5L495.58 154.1L495.74 153.6L495.91 154.0L496.07 153.5L496.24 153.0L496.40 153.8L496.56 154.1L496.73 154.0L496.89 154.7L497.06 154.4L497.22 154.2L497.39 155.5L497.55 154.9L497.72 153.8L497.88 154.0L498.05 155.4L498.21 154.2L498.38 153.9L498.54 154.5L498.71 154.3L498.87 154.6L499.04 155.0L499.20 155.4L499.37 155.0L499.53 153.8L499.70 155.0L499.87 155.7L500.03 154.8L500.20 155.7L500.36 153.5L500.53 154.3L500.69 154.9L500.86 154.7L501.02 155.0L501.19 154.7L501.36 155.0L501.52 155.8L501.69 154.4L501.85 155.0L502.02 155.4L502.18 154.1L502.35 154.4L502.52 155.1L502.68 155.1L502.85 154.3L503.01 155.1L503.18 154.6L503.35 154.2L503.51 155.5L503.68 155.6L503.85 155.6L504.01 155.5L504.18 155.2L504.34 154.7L504.51 155.5L504.68 154.1L504.84 154.9L505.01 156.0L505.18 155.0L505.34 154.6L505.51 154.6L505.68 155.5L505.84 155.5L506.01 154.1L506.18 155.2L506.34 155.7L506.51 155.8L506.68 155.2L506.85 154.5L507.01 155.2L507.18 153.9L507.35 155.0L507.51 155.9L507.68 154.8L507.85 155.0L508.02 155.5L508.18 154.4L508.35 155.8L508.52 155.0L508.68 155.4L508.85 154.3L509.02 155.8L509.19 155.6L509.35 155.5L509.52 155.6L509.69 155.4L509.86 156.0L510.02 155.2L510.19 155.1L510.36 155.6L510.53 154.9L510.70 155.1L510.86 156.0L511.03 155.4L511.20 156.5L511.37 155.9L511.54 155.5L511.70 155.2L511.87 156.4L512.04 155.9L512.21 156.0L512.38 156.4L512.55 157.7L512.71 156.9L512.88 156.6L513.05 156.8L513.22 157.2L513.39 157.3L513.56 158.0L513.72 157.1L513.89 157.1L514.06 157.7L514.23 157.0L514.40 157.6L514.57 157.7L514.74 158.0L514.91 157.1L515.07 157.9L515.24 157.7L515.41 157.4L515.58 157.8L515.75 158.5L515.92 157.6L516.09 158.3L516.26 159.1L516.43 158.3L516.60 158.8L516.77 158.7L516.93 159.1L517.10 159.3L517.27 158.9L517.44 160.0L517.61 158.9L517.78 159.4L517.95 160.0L518.12 159.7L518.29 159.2L518.46 160.0L518.63 160.2L518.80 160.1L518.97 160.7L519.14 161.3L519.31 163.2L519.48 164.3L519.65 164.8L519.82 165.1L519.99 166.1L520.16 166.1L520.33 166.4L520.50 167.7L520.67 166.8L520.84 167.9L521.01 168.0L521.18 168.4L521.35 167.6L521.52 168.0L521.69 167.9L521.86 169.5L522.03 168.7L522.20 168.4L522.37 169.9L522.54 168.0L522.71 168.4L522.88 167.8L523.06 168.2L523.23 167.5L523.40 167.3L523.57 166.4L523.74 168.0L523.91 166.2L524.08 167.4L524.25 166.4L524.42 166.2L524.59 165.0L524.76 165.1L524.94 163.4L525.11 163.4L525.28 161.8L525.45 160.8L525.62 160.6L525.79 160.2L525.96 159.0L526.13 159.6L526.31 159.1L526.48 158.8L526.65 159.8L526.82 159.2L526.99 158.5L527.16 159.0L527.34 160.3L527.51 168.7L527.68 169.7L527.85 169.0L528.02 163.3L528.19 159.1L528.37 159.4L528.54 160.8L528.71 157.9L528.88 159.1L529.05 158.2L529.23 160.1L529.40 158.9L529.57 160.3L529.74 157.6L529.92 158.7L530.09 158.7L530.26 160.7L530.43 159.8L530.61 158.8L530.78 158.6L530.95 158.9L531.12 158.7L531.30 157.5L531.47 158.4L531.64 158.8L531.81 158.0L531.99 158.4L532.16 157.2L532.33 158.3L532.51 158.4L532.68 158.7L532.85 158.4L533.02 158.4L533.20 158.6L533.37 160.0L533.54 159.4L533.72 158.1L533.89 158.8L534.06 158.3L534.24 159.9L534.41 161.3L534.58 161.4L534.76 160.6L534.93 160.8L535.10 158.6L535.28 160.4L535.45 159.8L535.62 159.6L535.80 161.8L535.97 160.1L536.14 160.3L536.32 159.2L536.49 160.8L536.67 161.8L536.84 160.3L537.01 160.3L537.19 160.8L537.36 160.4L537.54 160.0L537.71 160.4L537.88 160.1L538.06 158.5L538.23 160.9L538.41 159.7L538.58 161.0L538.76 161.4L538.93 159.7L539.10 160.5L539.28 159.5L539.45 159.3L539.63 160.2L539.80 161.2L539.98 159.1L540.15 160.5L540.33 158.5L540.50 159.2L540.68 159.3L540.85 159.5L541.03 159.3L541.20 160.1L541.38 158.2L541.55 160.7L541.73 161.5L541.90 160.1L542.08 160.6L542.25 159.4L542.43 160.3L542.60 159.1L542.78 160.2L542.95 161.0L543.13 161.0L543.30 160.3L543.48 161.5L543.65 161.9L543.83 161.4L544.00 160.9L544.18 160.2L544.36 160.7L544.53 160.2L544.71 160.7L544.88 158.8L545.06 158.9L545.23 161.4L545.41 160.6L545.59 160.9L545.76 161.0L545.94 161.9L546.11 162.3L546.29 163.3L546.47 162.2L546.64 162.2L546.82 161.3L546.99 161.9L547.17 162.3L547.35 162.6L547.52 163.2L547.70 161.4L547.88 161.5L548.05 161.5L548.23 161.2L548.41 161.1L548.58 161.5L548.76 161.6L548.94 162.6L549.11 162.8L549.29 161.7L549.47 160.2L549.64 162.5L549.82 162.4L550.00 160.3L550.17 162.8L550.35 162.8L550.53 162.7L550.70 162.9L550.88 163.6L551.06 161.1L551.24 162.9L551.41 161.7L551.59 162.0L551.77 161.8L551.95 162.2L552.12 162.8L552.30 163.6L552.48 162.6L552.65 163.4L552.83 163.5L553.01 163.5L553.19 163.7L553.37 163.1L553.54 163.9L553.72 163.0L553.90 162.3L554.08 161.9L554.25 163.3L554.43 163.1L554.61 162.5L554.79 163.1L554.97 164.5L555.14 162.2L555.32 162.5L555.50 162.3L555.68 163.2L555.86 162.1L556.04 162.4L556.21 161.0L556.39 161.4L556.57 161.1L556.75 163.3L556.93 163.4L557.11 163.1L557.29 163.2L557.46 161.7L557.64 163.0L557.82 164.0L558.00 163.2L558.18 161.5L558.36 162.9L558.54 162.3L558.72 164.1L558.89 162.8L559.07 162.5L559.25 162.4L559.43 162.6L559.61 162.5L559.79 161.8L559.97 163.8L560.15 162.6L560.33 162.4L560.51 162.5L560.69 161.4L560.87 161.8L561.04 161.7L561.22 161.8L561.40 160.9L561.58 161.7L561.76 161.4L561.94 160.7L562.12 161.0L562.30 162.3L562.48 162.9L562.66 161.2L562.84 162.7L563.02 162.3L563.20 163.6L563.38 161.9L563.56 161.4L563.74 162.9L563.92 161.9L564.10 161.0L564.28 162.3L564.46 162.7L564.64 161.2L564.82 160.8L565.00 162.3L565.18 160.1L565.36 161.2L565.54 160.1L565.73 161.5L565.91 160.3L566.09 160.5L566.27 160.3L566.45 161.0L566.63 160.5L566.81 161.6L566.99 162.1L567.17 162.5L567.35 163.4L567.53 162.0L567.71 162.4L567.90 162.2L568.08 162.0L568.26 161.5L568.44 161.4L568.62 161.7L568.80 161.0L568.98 160.2L569.16 162.2L569.34 162.4L569.53 162.0L569.71 163.1L569.89 161.5L570.07 162.8L570.25 163.0L570.43 163.1L570.62 161.9L570.80 163.9L570.98 162.1L571.16 164.2L571.34 162.0L571.52 162.4L571.71 162.2L571.89 161.0L572.07 162.5L572.25 161.9L572.43 162.2L572.62 162.3L572.80 163.3L572.98 161.5L573.16 162.7L573.35 161.6L573.53 161.7L573.71 162.6L573.89 162.1L574.08 162.4L574.26 162.8L574.44 160.7L574.62 163.5L574.81 164.2L574.99 163.9L575.17 163.1L575.35 162.9L575.54 162.3L575.72 162.2L575.90 162.3L576.08 162.2L576.27 163.2L576.45 161.7L576.63 161.9L576.82 163.2L577.00 163.0L577.18 164.0L577.37 163.4L577.55 163.2L577.73 162.2L577.92 163.0L578.10 162.2L578.28 161.2L578.47 161.6L578.65 161.5L578.83 164.0L579.02 162.8L579.20 162.8L579.38 162.9L579.57 163.8L579.75 161.6L579.94 162.1L580.12 163.6L580.30 163.1L580.49 162.4L580.67 161.3L580.86 161.8L581.04 162.7L581.22 162.6L581.41 161.9L581.59 160.9L581.78 162.8L581.96 163.3L582.15 162.3L582.33 163.1L582.51 162.0L582.70 162.9L582.88 162.5L583.07 164.7L583.25 163.9L583.44 164.3L583.62 163.4L583.81 162.7L583.99 163.2L584.18 162.7L584.36 163.2L584.55 162.0L584.73 161.8L584.91 163.8L585.10 163.5L585.28 163.1L585.47 162.4L585.66 162.4L585.84 161.6L586.03 164.4L586.21 163.1L586.40 163.1L586.58 163.6L586.77 163.3L586.95 164.9L587.14 163.2L587.32 163.8L587.51 164.5L587.69 162.7L587.88 164.3L588.07 163.7L588.25 164.6L588.44 165.4L588.62 164.8L588.81 163.7L588.99 164.6L589.18 163.2L589.37 162.1L589.55 162.2L589.74 163.1L589.92 163.0L590.11 162.3L590.30 163.9L590.48 164.1L590.67 162.0L590.86 163.2L591.04 163.1L591.23 163.9L591.42 161.5L591.60 161.4L591.79 163.3L591.97 163.0L592.16 164.2L592.35 163.8L592.53 163.7L592.72 163.8L592.91 164.7L593.10 164.2L593.28 162.5L593.47 163.4L593.66 163.3L593.84 163.4L594.03 163.7L594.22 165.0L594.40 165.2L594.59 165.9L594.78 165.7L594.97 166.1L595.15 166.0L595.34 168.2L595.53 167.2L595.72 169.3L595.90 167.5L596.09 170.0L596.28 170.2L596.47 169.6L596.65 171.4L596.84 172.0L597.03 172.2L597.22 171.7L597.40 171.5" fill="none" stroke="#000" stroke-width="1.15" stroke-linejoin="round"/>
<path d="M110.53 233.0L110.61 238.4L110.69 235.5L110.76 230.8L110.84 239.5L110.91 234.2L110.99 231.1L111.07 233.4L111.14 231.1L111.22 226.2L111.29 231.1L111.37 230.8L111.44 226.9L111.52 232.4L111.60 233.3L111.67 231.6L111.75 231.1L111.82 239.3L111.90 229.0L111.98 233.6L112.05 235.5L112.13 236.2L112.20 230.0L112.28 224.9L112.36 227.3L112.43 228.0L112.51 231.1L112.59 224.4L112.66 226.6L112.74 232.8L112.81 242.3L112.89 231.0L112.97 221.0L113.04 232.6L113.12 235.1L113.20 225.2L113.27 234.8L113.35 229.0L113.42 229.8L113.50 235.8L113.58 231.0L113.65 226.3L113.73 233.7L113.81 227.8L113.88 232.1L113.96 226.0L114.04 224.9L114.11 233.6L114.19 231.4L114.27 227.0L114.34 232.2L114.42 231.7L114.50 232.7L114.57 233.2L114.65 236.3L114.73 231.6L114.80 231.0L114.88 231.4L114.96 233.7L115.03 230.4L115.11 238.2L115.19 232.7L115.26 234.7L115.34 232.1L115.42 239.0L115.49 224.3L115.57 233.4L115.65 229.1L115.72 228.4L115.80 225.5L115.88 231.6L115.96 229.4L116.03 227.3L116.11 226.1L116.19 224.3L116.26 224.6L116.34 225.8L116.42 228.6L116.49 220.8L116.57 230.6L116.65 224.0L116.73 226.9L116.80 228.3L116.88 230.5L116.96 228.9L117.03 232.6L117.11 232.3L117.19 239.5L117.27 232.2L117.34 233.9L117.42 230.0L117.50 226.2L117.58 232.3L117.65 230.6L117.73 238.6L117.81 243.0L117.89 251.3L117.96 259.9L118.04 252.3L118.12 247.7L118.20 246.2L118.27 246.6L118.35 241.3L118.43 230.8L118.51 226.2L118.58 228.7L118.66 224.9L118.74 234.0L118.82 224.6L118.89 224.9L118.97 221.4L119.05 227.5L119.13 231.6L119.20 224.8L119.28 219.4L119.36 229.6L119.44 229.2L119.51 229.5L119.59 229.3L119.67 224.9L119.75 225.1L119.83 232.6L119.90 235.0L119.98 229.4L120.06 233.7L120.14 234.0L120.22 235.9L120.29 235.8L120.37 231.9L120.45 233.3L120.53 229.6L120.61 231.1L120.68 227.6L120.76 230.2L120.84 229.0L120.92 228.4L121.00 228.2L121.07 228.0L121.15 223.1L121.23 232.7L121.31 237.5L121.39 229.9L121.47 233.3L121.54 228.3L121.62 234.2L121.70 239.8L121.78 227.9L121.86 232.4L121.94 235.2L122.01 235.2L122.09 230.7L122.17 234.9L122.25 231.4L122.33 230.5L122.41 239.1L122.48 234.4L122.56 231.8L122.64 227.4L122.72 229.6L122.80 233.5L122.88 224.8L122.96 232.3L123.03 232.3L123.11 229.6L123.19 235.6L123.27 219.5L123.35 227.3L123.43 230.8L123.51 232.7L123.58 233.4L123.66 231.1L123.74 234.4L123.82 247.0L123.90 253.1L123.98 255.7L124.06 257.3L124.14 262.2L124.22 253.5L124.29 253.1L124.37 246.2L124.45 240.4L124.53 237.7L124.61 234.0L124.69 228.7L124.77 222.8L124.85 221.3L124.93 228.3L125.00 233.1L125.08 227.0L125.16 225.5L125.24 224.0L125.32 226.1L125.40 220.8L125.48 229.5L125.56 235.8L125.64 234.0L125.72 233.2L125.80 223.9L125.88 231.1L125.95 235.8L126.03 227.8L126.11 225.5L126.19 227.9L126.27 228.3L126.35 226.3L126.43 229.3L126.51 234.1L126.59 229.7L126.67 228.6L126.75 230.7L126.83 227.1L126.91 226.3L126.99 228.1L127.07 227.0L127.15 224.9L127.23 231.3L127.31 224.9L127.38 226.3L127.46 239.5L127.54 232.4L127.62 235.5L127.70 235.3L127.78 232.6L127.86 234.4L127.94 231.9L128.02 231.5L128.10 232.2L128.18 237.1L128.26 235.0L128.34 227.7L128.42 240.4L128.50 226.7L128.58 232.7L128.66 227.2L128.74 236.8L128.82 228.6L128.90 225.5L128.98 227.7L129.06 229.4L129.14 247.1L129.22 264.7L129.30 281.1L129.38 286.4L129.46 287.2L129.54 288.2L129.62 287.4L129.70 282.4L129.78 266.8L129.86 251.4L129.94 237.1L130.02 235.7L130.10 238.7L130.18 236.7L130.26 227.9L130.34 235.7L130.42 229.1L130.50 226.0L130.58 226.6L130.66 227.2L130.74 225.8L130.82 233.5L130.91 232.0L130.99 231.0L131.07 230.4L131.15 230.8L131.23 222.6L131.31 221.9L131.39 228.4L131.47 227.0L131.55 232.1L131.63 228.1L131.71 230.5L131.79 224.6L131.87 230.6L131.95 228.1L132.03 234.4L132.11 223.9L132.19 227.6L132.27 226.6L132.36 230.9L132.44 236.3L132.52 232.1L132.60 233.1L132.68 226.5L132.76 233.9L132.84 235.1L132.92 231.6L133.00 234.1L133.08 235.5L133.16 239.6L133.25 241.7L133.33 239.5L133.41 241.7L133.49 230.5L133.57 231.3L133.65 233.5L133.73 230.0L133.81 230.6L133.89 230.6L133.97 229.1L134.06 228.1L134.14 228.1L134.22 233.4L134.30 234.2L134.38 220.3L134.46 223.0L134.54 234.1L134.62 226.5L134.71 231.9L134.79 233.0L134.87 240.5L134.95 230.4L135.03 233.1L135.11 226.9L135.19 225.7L135.27 225.0L135.36 223.4L135.44 225.9L135.52 227.5L135.60 229.5L135.68 228.5L135.76 231.5L135.85 234.3L135.93 227.3L136.01 229.6L136.09 238.3L136.17 237.3L136.25 231.2L136.33 234.6L136.42 227.0L136.50 230.3L136.58 228.2L136.66 227.7L136.74 226.0L136.83 230.8L136.91 228.3L136.99 228.2L137.07 226.3L137.15 227.2L137.23 225.0L137.32 227.2L137.40 229.9L137.48 226.5L137.56 230.6L137.64 225.5L137.73 222.7L137.81 228.4L137.89 232.7L137.97 227.1L138.05 228.8L138.14 229.4L138.22 231.5L138.30 230.4L138.38 234.6L138.46 226.0L138.55 232.5L138.63 231.3L138.71 229.1L138.79 235.9L138.88 244.3L138.96 257.6L139.04 266.0L139.12 268.6L139.20 267.1L139.29 271.6L139.37 268.4L139.45 260.7L139.53 247.8L139.62 232.0L139.70 231.3L139.78 231.8L139.86 228.8L139.95 226.6L140.03 233.0L140.11 228.1L140.19 237.7L140.28 234.4L140.36 226.6L140.44 226.5L140.52 228.9L140.61 229.5L140.69 226.1L140.77 229.3L140.86 221.9L140.94 224.4L141.02 225.6L141.10 231.5L141.19 226.2L141.27 228.6L141.35 228.2L141.43 229.4L141.52 228.7L141.60 229.2L141.68 235.3L141.77 241.0L141.85 239.4L141.93 250.5L142.01 246.6L142.10 250.8L142.18 248.1L142.26 245.4L142.35 230.7L142.43 228.9L142.51 228.6L142.60 230.0L142.68 224.7L142.76 229.3L142.85 226.1L142.93 221.5L143.01 229.8L143.10 229.9L143.18 230.6L143.26 226.3L143.35 226.6L143.43 228.6L143.51 228.5L143.59 224.8L143.68 229.4L143.76 221.0L143.85 228.5L143.93 230.0L144.01 229.7L144.10 234.9L144.18 232.0L144.26 228.1L144.35 227.3L144.43 230.5L144.51 221.8L144.60 225.2L144.68 221.9L144.76 224.3L144.85 227.5L144.93 219.7L145.01 224.4L145.10 231.3L145.18 233.3L145.27 227.1L145.35 224.0L145.43 226.5L145.52 223.0L145.60 228.7L145.68 224.9L145.77 224.5L145.85 230.3L145.94 225.5L146.02 225.4L146.10 224.6L146.19 226.9L146.27 227.2L146.36 233.2L146.44 229.1L146.52 229.8L146.61 232.9L146.69 230.3L146.78 230.5L146.86 228.9L146.94 230.9L147.03 231.5L147.11 233.5L147.20 235.9L147.28 237.3L147.36 235.2L147.45 238.2L147.53 235.3L147.62 232.1L147.70 230.2L147.79 227.3L147.87 229.6L147.95 225.6L148.04 230.0L148.12 227.2L148.21 227.3L148.29 230.9L148.38 231.3L148.46 229.6L148.55 230.9L148.63 230.3L148.71 223.2L148.80 230.7L148.88 231.4L148.97 230.6L149.05 230.7L149.14 229.4L149.22 227.3L149.31 230.2L149.39 227.6L149.48 228.4L149.56 227.9L149.65 234.4L149.73 224.6L149.81 231.1L149.90 230.1L149.98 234.1L150.07 234.0L150.15 229.4L150.24 229.8L150.32 228.1L150.41 231.4L150.49 232.1L150.58 228.6L150.66 228.3L150.75 226.9L150.83 228.4L150.92 227.1L151.00 228.7L151.09 222.0L151.17 222.8L151.26 221.9L151.34 229.7L151.43 224.4L151.51 229.5L151.60 227.8L151.68 229.0L151.77 226.1L151.86 230.8L151.94 230.3L152.03 232.4L152.11 232.7L152.20 228.6L152.28 231.1L152.37 227.4L152.45 229.8L152.54 230.7L152.62 226.8L152.71 226.6L152.79 230.9L152.88 229.2L152.96 228.7L153.05 228.8L153.14 233.5L153.22 232.1L153.31 232.2L153.39 231.0L153.48 229.8L153.56 233.3L153.65 224.7L153.74 228.3L153.82 233.0L153.91 233.9L153.99 230.6L154.08 237.0L154.16 230.7L154.25 231.0L154.34 229.8L154.42 230.1L154.51 237.5L154.59 233.2L154.68 230.9L154.76 239.8L154.85 235.7L154.94 230.1L155.02 231.8L155.11 236.8L155.19 232.9L155.28 230.6L155.37 224.0L155.45 231.3L155.54 234.3L155.62 231.5L155.71 229.4L155.80 229.7L155.88 227.6L155.97 231.7L156.06 234.1L156.14 229.2L156.23 229.2L156.31 226.4L156.40 226.2L156.49 229.9L156.57 226.5L156.66 227.6L156.75 230.6L156.83 227.6L156.92 230.7L157.01 232.4L157.09 232.3L157.18 229.3L157.26 222.3L157.35 230.2L157.44 233.5L157.52 231.2L157.61 229.7L157.70 228.0L157.78 230.7L157.87 224.3L157.96 228.0L158.04 225.4L158.13 231.9L158.22 231.0L158.30 225.1L158.39 234.0L158.48 230.1L158.56 234.5L158.65 225.9L158.74 234.8L158.82 236.7L158.91 247.4L159.00 257.9L159.09 251.6L159.17 257.3L159.26 253.0L159.35 256.9L159.43 253.6L159.52 240.5L159.61 232.2L159.69 221.5L159.78 232.8L159.87 235.5L159.96 235.0L160.04 232.4L160.13 229.1L160.22 233.3L160.30 233.6L160.39 233.5L160.48 247.3L160.57 266.6L160.65 274.8L160.74 282.9L160.83 279.4L160.91 276.0L161.00 271.8L161.09 256.8L161.18 235.1L161.26 230.7L161.35 231.1L161.44 227.5L161.53 229.4L161.61 233.1L161.70 228.4L161.79 225.3L161.88 231.4L161.96 231.4L162.05 230.3L162.14 226.7L162.23 231.7L162.31 230.9L162.40 232.2L162.49 230.1L162.58 230.2L162.67 230.8L162.75 225.6L162.84 223.9L162.93 232.4L163.02 228.2L163.10 230.9L163.19 226.0L163.28 235.8L163.37 234.4L163.46 231.1L163.54 233.8L163.63 230.9L163.72 227.4L163.81 231.3L163.90 227.8L163.98 223.7L164.07 230.5L164.16 231.2L164.25 234.3L164.34 228.9L164.42 232.1L164.51 224.1L164.60 221.8L164.69 224.1L164.78 227.9L164.86 224.2L164.95 227.0L165.04 230.6L165.13 230.7L165.22 227.5L165.31 228.5L165.39 225.5L165.48 221.8L165.57 224.5L165.66 222.8L165.75 226.6L165.84 223.8L165.93 226.4L166.01 224.3L166.10 229.2L166.19 228.9L166.28 237.3L166.37 231.7L166.46 233.1L166.55 234.4L166.63 229.6L166.72 237.8L166.81 233.2L166.90 232.1L166.99 230.9L167.08 229.5L167.17 235.7L167.25 231.9L167.34 231.2L167.43 229.1L167.52 228.0L167.61 232.1L167.70 231.5L167.79 232.8L167.88 230.5L167.97 227.2L168.05 230.0L168.14 232.6L168.23 231.7L168.32 232.3L168.41 234.4L168.50 225.1L168.59 228.2L168.68 228.3L168.77 221.6L168.86 227.1L168.95 223.6L169.03 225.3L169.12 224.2L169.21 228.8L169.30 229.3L169.39 228.4L169.48 228.6L169.57 227.3L169.66 229.8L169.75 229.2L169.84 227.5L169.93 228.4L170.02 229.9L170.11 228.9L170.20 226.8L170.29 228.0L170.37 229.4L170.46 233.8L170.55 233.8L170.64 230.0L170.73 230.0L170.82 232.1L170.91 230.7L171.00 229.3L171.09 231.5L171.18 231.6L171.27 234.4L171.36 231.8L171.45 232.5L171.54 233.8L171.63 228.9L171.72 236.3L171.81 228.3L171.90 226.7L171.99 228.1L172.08 233.1L172.17 228.9L172.26 233.5L172.35 232.9L172.44 227.4L172.53 229.0L172.62 227.0L172.71 231.4L172.80 234.6L172.89 233.0L172.98 228.0L173.07 228.9L173.16 233.0L173.25 248.6L173.34 270.9L173.43 283.9L173.52 281.9L173.61 286.2L173.70 283.6L173.79 280.6L173.88 261.9L173.97 244.8L174.06 233.8L174.15 230.8L174.24 233.3L174.33 232.1L174.42 231.2L174.51 231.4L174.60 228.0L174.70 227.9L174.79 233.8L174.88 227.2L174.97 232.9L175.06 233.8L175.15 234.9L175.24 232.8L175.33 234.6L175.42 237.3L175.51 233.8L175.60 235.4L175.69 226.9L175.78 231.7L175.87 229.2L175.96 227.4L176.05 225.1L176.15 224.6L176.24 228.1L176.33 227.1L176.42 227.9L176.51 225.3L176.60 229.0L176.69 233.6L176.78 226.0L176.87 228.4L176.96 226.3L177.06 232.8L177.15 233.1L177.24 231.2L177.33 235.0L177.42 232.4L177.51 228.5L177.60 227.3L177.69 234.1L177.78 224.9L177.88 226.9L177.97 226.3L178.06 227.7L178.15 227.3L178.24 228.9L178.33 230.2L178.42 232.7L178.51 233.9L178.61 245.5L178.70 253.9L178.79 258.2L178.88 259.9L178.97 259.8L179.06 262.6L179.15 251.8L179.25 240.9L179.34 235.4L179.43 238.5L179.52 242.8L179.61 272.6L179.70 295.5L179.80 303.6L179.89 304.2L179.98 304.1L180.07 299.0L180.16 278.7L180.25 244.6L180.35 228.4L180.44 224.4L180.53 229.9L180.62 233.0L180.71 232.1L180.81 235.6L180.90 226.1L180.99 224.9L181.08 226.5L181.17 225.8L181.27 226.0L181.36 228.5L181.45 226.5L181.54 231.0L181.63 229.8L181.73 229.3L181.82 234.4L181.91 232.4L182.00 228.3L182.09 227.7L182.19 234.5L182.28 226.0L182.37 226.7L182.46 225.6L182.56 226.6L182.65 224.7L182.74 229.8L182.83 225.7L182.93 227.6L183.02 227.8L183.11 223.4L183.20 223.7L183.30 228.6L183.39 229.0L183.48 227.5L183.57 227.9L183.67 224.2L183.76 227.4L183.85 233.8L183.94 227.3L184.04 229.4L184.13 230.6L184.22 230.7L184.31 232.2L184.41 234.2L184.50 230.3L184.59 233.1L184.68 232.6L184.78 232.3L184.87 227.1L184.96 232.8L185.06 225.7L185.15 228.0L185.24 224.3L185.33 224.3L185.43 228.5L185.52 232.4L185.61 228.1L185.71 229.7L185.80 234.8L185.89 231.8L185.99 232.3L186.08 226.3L186.17 225.8L186.27 231.9L186.36 231.1L186.45 230.9L186.55 226.6L186.64 225.7L186.73 224.1L186.82 231.1L186.92 227.0L187.01 229.2L187.10 231.8L187.20 232.6L187.29 233.5L187.38 230.3L187.48 231.6L187.57 227.6L187.67 230.9L187.76 234.0L187.85 231.6L187.95 229.2L188.04 233.2L188.13 231.9L188.23 229.7L188.32 235.0L188.41 230.3L188.51 230.6L188.60 232.4L188.70 231.6L188.79 232.2L188.88 232.1L188.98 231.9L189.07 231.2L189.16 231.2L189.26 233.8L189.35 235.7L189.45 239.2L189.54 272.5L189.63 298.1L189.73 310.8L189.82 314.2L189.92 316.1L190.01 312.8L190.10 310.1L190.20 307.6L190.29 310.9L190.39 317.0L190.48 322.9L190.57 323.3L190.67 323.0L190.76 319.8L190.86 305.7L190.95 275.0L191.04 249.4L191.14 235.6L191.23 226.0L191.33 231.1L191.42 228.2L191.52 228.1L191.61 225.5L191.71 227.0L191.80 230.3L191.89 229.8L191.99 229.1L192.08 227.5L192.18 230.9L192.27 232.4L192.37 229.1L192.46 229.1L192.56 229.0L192.65 231.3L192.75 228.6L192.84 234.8L192.93 232.1L193.03 227.6L193.12 234.4L193.22 231.6L193.31 231.3L193.41 231.5L193.50 234.8L193.60 228.7L193.69 229.9L193.79 228.2L193.88 227.7L193.98 228.5L194.07 225.3L194.17 226.4L194.26 233.8L194.36 232.6L194.45 232.0L194.55 236.8L194.64 228.2L194.74 233.3L194.83 229.4L194.93 230.1L195.02 230.4L195.12 231.4L195.21 230.3L195.31 228.0L195.40 227.4L195.50 230.5L195.59 231.7L195.69 231.7L195.79 227.9L195.88 229.5L195.98 232.3L196.07 233.0L196.17 229.8L196.26 229.2L196.36 227.3L196.45 222.9L196.55 225.6L196.64 226.8L196.74 225.7L196.84 224.1L196.93 231.4L197.03 228.0L197.12 230.7L197.22 228.9L197.31 230.5L197.41 235.9L197.51 237.1L197.60 243.8L197.70 239.1L197.79 237.1L197.89 240.7L197.98 237.8L198.08 227.4L198.18 232.2L198.27 231.6L198.37 232.8L198.46 234.2L198.56 233.4L198.66 236.8L198.75 228.0L198.85 234.1L198.94 231.5L199.04 232.8L199.14 228.0L199.23 230.1L199.33 230.5L199.43 229.6L199.52 231.0L199.62 232.7L199.71 229.5L199.81 235.6L199.91 229.3L200.00 229.0L200.10 230.7L200.20 234.0L200.29 227.4L200.39 233.0L200.48 231.4L200.58 236.7L200.68 232.6L200.77 233.0L200.87 232.3L200.97 231.2L201.06 225.6L201.16 227.3L201.26 227.8L201.35 223.6L201.45 231.0L201.55 226.6L201.64 232.5L201.74 233.5L201.84 233.7L201.93 236.1L202.03 235.8L202.13 235.6L202.22 232.8L202.32 229.5L202.42 228.4L202.51 231.8L202.61 229.6L202.71 229.6L202.81 230.6L202.90 229.9L203.00 231.3L203.10 228.3L203.19 229.6L203.29 230.2L203.39 228.7L203.49 228.2L203.58 229.2L203.68 230.2L203.78 229.0L203.87 230.3L203.97 229.0L204.07 228.2L204.17 230.2L204.26 228.4L204.36 229.7L204.46 231.2L204.55 229.7L204.65 233.1L204.75 229.5L204.85 230.3L204.94 231.0L205.04 227.3L205.14 226.9L205.24 227.2L205.33 232.5L205.43 234.1L205.53 242.7L205.63 249.5L205.72 255.1L205.82 253.0L205.92 252.7L206.02 249.5L206.12 243.2L206.21 235.6L206.31 228.4L206.41 229.3L206.51 230.6L206.60 227.9L206.70 229.4L206.80 231.5L206.90 233.5L207.00 229.3L207.09 230.5L207.19 229.6L207.29 234.3L207.39 231.2L207.49 230.7L207.58 231.0L207.68 231.5L207.78 234.4L207.88 232.4L207.98 233.8L208.08 232.8L208.17 230.7L208.27 232.0L208.37 231.1L208.47 231.0L208.57 229.4L208.66 232.3L208.76 233.2L208.86 231.1L208.96 231.3L209.06 232.2L209.16 228.1L209.25 230.4L209.35 229.6L209.45 229.3L209.55 231.2L209.65 231.8L209.75 232.2L209.85 229.7L209.94 231.7L210.04 229.1L210.14 231.1L210.24 228.7L210.34 228.5L210.44 230.1L210.54 229.0L210.64 228.4L210.73 229.1L210.83 229.6L210.93 231.4L211.03 232.3L211.13 229.5L211.23 231.6L211.33 232.5L211.43 230.7L211.53 234.1L211.62 234.0L211.72 229.3L211.82 226.4L211.92 226.6L212.02 222.8L212.12 235.9L212.22 246.3L212.32 264.7L212.42 271.9L212.52 270.1L212.62 270.2L212.72 272.4L212.81 267.8L212.91 257.2L213.01 242.4L213.11 234.4L213.21 244.7L213.31 260.0L213.41 269.5L213.51 270.5L213.61 269.9L213.71 272.8L213.81 269.9L213.91 262.4L214.01 257.9L214.11 265.3L214.21 274.5L214.31 275.8L214.41 273.0L214.51 275.2L214.61 268.8L214.70 261.0L214.80 240.7L214.90 230.1L215.00 229.9L215.10 230.0L215.20 230.3L215.30 227.3L215.40 231.3L215.50 233.1L215.60 230.8L215.70 230.0L215.80 232.2L215.90 232.2L216.00 229.1L216.10 240.9L216.20 270.0L216.30 297.0L216.40 302.0L216.50 305.5L216.60 304.1L216.70 293.1L216.80 265.2L216.90 233.9L217.00 228.9L217.10 230.5L217.20 228.1L217.31 228.7L217.41 229.3L217.51 229.4L217.61 230.6L217.71 234.4L217.81 234.0L217.91 227.4L218.01 232.0L218.11 234.4L218.21 231.4L218.31 230.6L218.41 231.6L218.51 231.9L218.61 236.5L218.71 231.2L218.81 233.0L218.91 227.6L219.01 230.9L219.11 229.8L219.22 231.9L219.32 231.8L219.42 230.9L219.52 232.1L219.62 233.6L219.72 233.8L219.82 232.7L219.92 233.6L220.02 232.3L220.12 234.7L220.22 233.4L220.33 235.8L220.43 229.2L220.53 228.4L220.63 229.4L220.73 231.0L220.83 229.5L220.93 232.6L221.03 232.5L221.13 227.6L221.24 232.8L221.34 230.4L221.44 232.1L221.54 235.9L221.64 235.0L221.74 235.7L221.84 237.8L221.94 244.2L222.05 242.9L222.15 239.8L222.25 235.1L222.35 231.6L222.45 229.4L222.55 228.2L222.65 232.9L222.76 233.2L222.86 230.3L222.96 231.9L223.06 230.5L223.16 229.7L223.26 229.4L223.37 226.7L223.47 231.0L223.57 232.6L223.67 230.4L223.77 228.0L223.87 230.3L223.98 230.5L224.08 233.8L224.18 231.0L224.28 226.6L224.38 229.2L224.49 230.4L224.59 226.5L224.69 230.5L224.79 227.7L224.89 230.0L225.00 229.7L225.10 228.1L225.20 224.5L225.30 226.4L225.40 229.4L225.51 229.9L225.61 227.0L225.71 225.7L225.81 225.4L225.92 227.4L226.02 226.9L226.12 231.1L226.22 228.7L226.33 228.5L226.43 228.3L226.53 228.9L226.63 230.9L226.74 234.1L226.84 232.1L226.94 232.6L227.04 233.0L227.15 231.2L227.25 230.4L227.35 231.5L227.45 227.3L227.56 233.2L227.66 234.5L227.76 230.3L227.86 233.4L227.97 231.4L228.07 230.7L228.17 233.0L228.28 230.6L228.38 230.5L228.48 231.3L228.58 230.6L228.69 231.7L228.79 232.9L228.89 231.2L229.00 231.6L229.10 231.3L229.20 232.0L229.30 227.5L229.41 229.0L229.51 233.3L229.61 229.1L229.72 234.0L229.82 227.9L229.92 226.4L230.03 224.9L230.13 228.3L230.23 228.6L230.34 223.1L230.44 226.1L230.54 226.0L230.65 230.2L230.75 228.2L230.85 233.3L230.96 229.3L231.06 233.9L231.16 232.3L231.27 233.1L231.37 227.0L231.47 227.7L231.58 228.8L231.68 226.1L231.79 228.0L231.89 231.0L231.99 227.6L232.10 230.5L232.20 228.4L232.30 228.4L232.41 237.2L232.51 255.2L232.62 271.9L232.72 279.2L232.82 277.8L232.93 276.9L233.03 268.3L233.13 243.7L233.24 233.4L233.34 230.4L233.45 229.6L233.55 228.7L233.65 229.3L233.76 232.4L233.86 227.9L233.97 228.4L234.07 227.6L234.18 231.0L234.28 232.8L234.38 233.7L234.49 231.9L234.59 233.5L234.70 232.5L234.80 234.3L234.91 237.4L235.01 234.1L235.11 233.1L235.22 232.6L235.32 235.3L235.43 232.6L235.53 232.3L235.64 235.1L235.74 229.8L235.85 230.5L235.95 230.1L236.06 227.1L236.16 228.9L236.26 229.7L236.37 228.5L236.47 228.3L236.58 228.2L236.68 230.5L236.79 230.2L236.89 228.3L237.00 231.8L237.10 229.4L237.21 228.9L237.31 229.2L237.42 225.7L237.52 226.6L237.63 231.2L237.73 231.9L237.84 234.2L237.94 232.5L238.05 227.5L238.15 233.1L238.26 227.7L238.36 229.9L238.47 237.3L238.57 250.0L238.68 253.1L238.78 256.8L238.89 257.6L238.99 254.1L239.10 249.3L239.21 230.9L239.31 234.9L239.42 233.5L239.52 229.8L239.63 233.3L239.73 246.2L239.84 266.9L239.94 284.8L240.05 286.5L240.15 286.6L240.26 285.1L240.37 265.8L240.47 241.9L240.58 227.5L240.68 232.7L240.79 231.8L240.89 231.8L241.00 230.1L241.11 233.5L241.21 233.3L241.32 229.2L241.42 232.6L241.53 231.5L241.63 232.4L241.74 234.2L241.85 233.7L241.95 230.9L242.06 230.3L242.16 230.4L242.27 230.1L242.38 226.8L242.48 226.6L242.59 227.0L242.70 229.1L242.80 230.4L242.91 226.3L243.01 232.2L243.12 226.2L243.23 231.6L243.33 233.9L243.44 225.9L243.55 228.7L243.65 225.1L243.76 227.7L243.86 228.9L243.97 227.6L244.08 230.6L244.18 230.3L244.29 230.8L244.40 233.4L244.50 228.2L244.61 231.0L244.72 230.1L244.82 228.9L244.93 231.8L245.04 228.6L245.14 228.7L245.25 226.7L245.36 227.5L245.46 226.7L245.57 229.2L245.68 229.1L245.78 232.0L245.89 228.3L246.00 228.8L246.10 229.6L246.21 229.6L246.32 228.6L246.43 229.5L246.53 233.1L246.64 228.5L246.75 230.6L246.85 230.3L246.96 232.5L247.07 234.2L247.18 230.6L247.28 230.5L247.39 232.2L247.50 231.4L247.60 230.5L247.71 230.3L247.82 230.3L247.93 231.9L248.03 231.8L248.14 231.0L248.25 232.9L248.36 228.9L248.46 230.5L248.57 233.3L248.68 228.0L248.79 226.7L248.89 232.9L249.00 231.4L249.11 232.0L249.22 229.7L249.32 253.4L249.43 303.4L249.54 337.7L249.65 343.4L249.76 344.6L249.86 337.4L249.97 302.1L250.08 250.3L250.19 252.8L250.29 288.3L250.40 312.3L250.51 319.2L250.62 319.1L250.73 317.9L250.83 307.4L250.94 278.1L251.05 240.5L251.16 229.7L251.27 232.3L251.38 227.4L251.48 231.0L251.59 232.3L251.70 227.1L251.81 230.2L251.92 228.8L252.02 229.7L252.13 229.0L252.24 231.5L252.35 227.1L252.46 229.7L252.57 228.7L252.67 228.8L252.78 232.1L252.89 232.8L253.00 230.6L253.11 227.6L253.22 232.0L253.33 231.7L253.43 230.3L253.54 229.0L253.65 225.3L253.76 226.6L253.87 223.4L253.98 225.9L254.09 223.1L254.20 227.8L254.30 227.7L254.41 230.9L254.52 230.5L254.63 230.3L254.74 230.2L254.85 228.2L254.96 231.3L255.07 232.4L255.18 228.9L255.29 229.1L255.39 229.4L255.50 226.2L255.61 226.2L255.72 229.1L255.83 230.4L255.94 234.5L256.05 230.5L256.16 227.0L256.27 230.8L256.38 227.5L256.49 229.0L256.60 229.3L256.70 228.7L256.81 230.2L256.92 228.5L257.03 227.7L257.14 229.2L257.25 229.2L257.36 226.1L257.47 225.7L257.58 229.6L257.69 228.5L257.80 229.7L257.91 225.2L258.02 230.0L258.13 231.3L258.24 231.3L258.35 227.8L258.46 230.9L258.57 233.8L258.68 242.1L258.79 241.3L258.90 240.6L259.01 241.6L259.12 244.8L259.23 237.7L259.34 234.6L259.45 224.1L259.56 230.0L259.67 230.8L259.78 231.4L259.89 229.4L260.00 232.5L260.11 232.1L260.22 231.8L260.33 234.6L260.44 227.4L260.55 227.4L260.66 231.5L260.77 230.6L260.88 225.4L260.99 223.9L261.10 228.3L261.21 227.5L261.32 228.2L261.43 227.5L261.54 233.4L261.65 233.4L261.76 229.4L261.87 230.7L261.98 230.4L262.10 231.8L262.21 231.0L262.32 231.2L262.43 232.3L262.54 230.5L262.65 232.8L262.76 229.3L262.87 232.8L262.98 230.9L263.09 228.8L263.20 232.0L263.31 230.2L263.42 229.3L263.54 229.1L263.65 231.2L263.76 227.5L263.87 229.5L263.98 232.0L264.09 226.1L264.20 228.6L264.31 228.8L264.42 228.0L264.54 230.9L264.65 229.1L264.76 232.7L264.87 233.5L264.98 233.2L265.09 228.3L265.20 231.7L265.31 230.4L265.43 232.8L265.54 230.6L265.65 234.2L265.76 230.1L265.87 229.0L265.98 230.6L266.09 233.0L266.21 233.1L266.32 229.7L266.43 228.6L266.54 231.0L266.65 228.2L266.76 234.0L266.88 229.8L266.99 229.2L267.10 227.0L267.21 232.3L267.32 228.0L267.44 227.5L267.55 228.9L267.66 228.1L267.77 227.5L267.88 227.5L267.99 228.7L268.11 228.3L268.22 227.2L268.33 227.5L268.44 227.0L268.55 227.4L268.67 232.3L268.78 229.8L268.89 230.5L269.00 231.4L269.12 233.7L269.23 230.5L269.34 228.6L269.45 231.4L269.57 232.9L269.68 229.1L269.79 230.4L269.90 229.8L270.01 229.5L270.13 230.6L270.24 229.8L270.35 230.4L270.46 233.2L270.58 228.0L270.69 229.9L270.80 230.6L270.92 228.2L271.03 231.4L271.14 229.7L271.25 229.3L271.37 231.5L271.48 233.1L271.59 230.2L271.70 230.2L271.82 227.8L271.93 232.3L272.04 230.4L272.16 229.4L272.27 228.7L272.38 228.7L272.49 228.5L272.61 234.0L272.72 230.9L272.83 231.1L272.95 231.9L273.06 229.7L273.17 230.1L273.29 231.5L273.40 231.1L273.51 227.3L273.63 232.7L273.74 228.4L273.85 229.6L273.97 227.6L274.08 224.4L274.19 227.0L274.31 228.6L274.42 226.4L274.53 225.6L274.65 227.2L274.76 225.8L274.87 229.4L274.99 227.8L275.10 228.5L275.22 228.4L275.33 228.0L275.44 229.3L275.56 228.0L275.67 223.4L275.78 226.3L275.90 228.0L276.01 225.0L276.13 226.7L276.24 231.6L276.35 230.9L276.47 226.4L276.58 229.3L276.69 230.3L276.81 231.7L276.92 232.2L277.04 228.2L277.15 231.6L277.27 228.8L277.38 226.4L277.49 228.3L277.61 229.7L277.72 228.2L277.84 229.1L277.95 231.5L278.06 230.4L278.18 232.9L278.29 234.3L278.41 231.1L278.52 234.2L278.64 231.2L278.75 230.0L278.87 229.7L278.98 226.8L279.09 231.5L279.21 230.5L279.32 236.8L279.44 258.1L279.55 265.6L279.67 271.6L279.78 270.9L279.90 266.5L280.01 245.3L280.13 233.9L280.24 232.1L280.36 229.5L280.47 231.1L280.59 234.5L280.70 228.7L280.82 230.1L280.93 235.2L281.05 235.4L281.16 232.6L281.28 234.7L281.39 234.4L281.51 234.0L281.62 237.9L281.74 265.0L281.85 283.2L281.97 284.5L282.08 284.4L282.20 279.0L282.31 254.5L282.43 229.7L282.54 230.2L282.66 231.1L282.77 228.8L282.89 229.5L283.00 227.4L283.12 226.8L283.24 228.6L283.35 225.1L283.47 229.4L283.58 225.7L283.70 230.0L283.81 232.8L283.93 231.9L284.04 232.1L284.16 229.7L284.28 229.0L284.39 226.5L284.51 236.2L284.62 232.0L284.74 230.4L284.85 230.8L284.97 231.3L285.09 226.6L285.20 236.1L285.32 230.6L285.43 232.2L285.55 231.0L285.67 229.2L285.78 231.5L285.90 230.3L286.01 229.4L286.13 229.6L286.25 235.5L286.36 232.8L286.48 233.2L286.60 231.9L286.71 230.0L286.83 226.7L286.94 240.9L287.06 268.0L287.18 291.8L287.29 297.0L287.41 299.3L287.53 298.8L287.64 301.3L287.76 311.5L287.88 316.8L287.99 314.9L288.11 312.7L288.23 299.7L288.34 257.0L288.46 236.2L288.58 231.1L288.69 231.1L288.81 233.7L288.93 230.7L289.04 232.2L289.16 231.5L289.28 227.0L289.39 228.9L289.51 228.8L289.63 227.0L289.75 229.0L289.86 226.8L289.98 228.5L290.10 229.0L290.21 230.8L290.33 232.7L290.45 232.7L290.56 232.6L290.68 230.3L290.80 230.6L290.92 232.9L291.03 229.2L291.15 231.8L291.27 231.9L291.39 234.6L291.50 233.7L291.62 230.0L291.74 229.7L291.86 231.0L291.97 228.7L292.09 231.3L292.21 230.3L292.33 228.3L292.44 229.5L292.56 230.9L292.68 232.9L292.80 228.6L292.91 234.6L293.03 231.6L293.15 233.4L293.27 231.1L293.38 229.5L293.50 230.6L293.62 230.2L293.74 229.3L293.86 226.6L293.97 228.1L294.09 230.7L294.21 231.9L294.33 232.3L294.45 231.5L294.56 233.1L294.68 231.3L294.80 233.2L294.92 233.4L295.04 233.2L295.16 229.9L295.27 231.2L295.39 224.9L295.51 228.8L295.63 227.3L295.75 226.9L295.87 231.3L295.98 232.7L296.10 231.4L296.22 230.2L296.34 230.6L296.46 228.8L296.58 228.9L296.70 227.7L296.81 227.1L296.93 229.1L297.05 227.5L297.17 229.6L297.29 234.7L297.41 236.4L297.53 241.8L297.64 236.7L297.76 234.1L297.88 235.3L298.00 229.0L298.12 229.1L298.24 232.0L298.36 231.2L298.48 230.5L298.60 230.3L298.72 231.3L298.83 231.2L298.95 232.5L299.07 228.5L299.19 230.0L299.31 229.6L299.43 232.0L299.55 230.8L299.67 232.5L299.79 231.4L299.91 228.3L300.03 230.7L300.15 230.2L300.27 229.0L300.38 231.4L300.50 226.7L300.62 231.1L300.74 230.4L300.86 225.5L300.98 231.9L301.10 226.4L301.22 229.2L301.34 228.6L301.46 232.8L301.58 230.8L301.70 233.8L301.82 229.8L301.94 230.6L302.06 231.5L302.18 232.1L302.30 230.6L302.42 229.3L302.54 229.5L302.66 233.0L302.78 233.9L302.90 234.3L303.02 230.3L303.14 230.5L303.26 231.8L303.38 234.1L303.50 230.1L303.62 231.2L303.74 229.3L303.86 230.4L303.98 229.5L304.10 229.6L304.22 228.5L304.34 231.3L304.46 229.3L304.58 230.8L304.70 231.2L304.82 228.8L304.94 226.6L305.06 226.7L305.18 227.9L305.31 230.9L305.43 228.1L305.55 229.1L305.67 227.9L305.79 227.9L305.91 230.2L306.03 231.9L306.15 231.8L306.27 231.4L306.39 231.6L306.51 229.7L306.63 231.1L306.75 229.1L306.88 228.8L307.00 229.3L307.12 228.7L307.24 230.7L307.36 230.0L307.48 228.8L307.60 231.2L307.72 233.3L307.84 230.2L307.96 229.0L308.09 226.9L308.21 225.8L308.33 227.7L308.45 228.3L308.57 225.7L308.69 230.6L308.81 228.7L308.94 228.8L309.06 229.0L309.18 227.9L309.30 226.6L309.42 224.2L309.54 226.2L309.66 229.2L309.79 228.3L309.91 227.2L310.03 227.8L310.15 229.5L310.27 230.4L310.39 227.9L310.52 228.8L310.64 230.1L310.76 230.6L310.88 229.0L311.00 227.6L311.13 230.7L311.25 231.1L311.37 227.3L311.49 230.0L311.61 230.8L311.74 228.4L311.86 228.7L311.98 228.6L312.10 229.3L312.22 229.6L312.35 231.4L312.47 231.9L312.59 236.1L312.71 228.9L312.84 230.3L312.96 230.4L313.08 231.2L313.20 232.8L313.32 230.2L313.45 230.9L313.57 232.9L313.69 228.0L313.81 232.4L313.94 230.2L314.06 227.0L314.18 232.2L314.30 230.6L314.43 229.4L314.55 231.5L314.67 234.0L314.80 233.1L314.92 232.4L315.04 234.5L315.16 229.5L315.29 231.7L315.41 230.7L315.53 230.6L315.66 231.2L315.78 239.0L315.90 249.6L316.02 248.9L316.15 249.9L316.27 246.2L316.39 243.2L316.52 231.3L316.64 226.7L316.76 233.0L316.89 232.2L317.01 230.6L317.13 227.7L317.26 231.8L317.38 229.0L317.50 229.2L317.63 229.3L317.75 229.9L317.87 227.6L318.00 229.7L318.12 233.2L318.24 233.3L318.37 232.5L318.49 235.7L318.62 233.9L318.74 233.3L318.86 236.2L318.99 229.2L319.11 234.7L319.23 231.2L319.36 231.2L319.48 231.8L319.61 232.7L319.73 257.7L319.85 285.9L319.98 293.1L320.10 294.5L320.22 295.2L320.35 286.1L320.47 257.3L320.60 251.1L320.72 275.4L320.85 285.7L320.97 289.1L321.09 288.4L321.22 283.4L321.34 263.5L321.47 235.6L321.59 224.2L321.72 228.8L321.84 229.4L321.96 231.3L322.09 230.0L322.21 230.9L322.34 231.0L322.46 233.4L322.59 232.2L322.71 232.7L322.84 230.5L322.96 231.1L323.08 229.0L323.21 230.8L323.33 231.3L323.46 229.5L323.58 232.0L323.71 232.3L323.83 230.4L323.96 231.1L324.08 230.5L324.21 234.1L324.33 229.8L324.46 231.5L324.58 228.9L324.71 233.3L324.83 231.1L324.96 231.2L325.08 227.3L325.21 231.8L325.33 228.3L325.46 231.6L325.58 231.5L325.71 229.1L325.83 227.7L325.96 229.2L326.09 228.7L326.21 229.1L326.34 230.1L326.46 228.0L326.59 230.3L326.71 229.2L326.84 232.4L326.96 231.2L327.09 228.7L327.21 230.6L327.34 232.2L327.47 226.6L327.59 226.4L327.72 228.1L327.84 227.6L327.97 228.5L328.09 227.6L328.22 226.6L328.35 228.2L328.47 229.4L328.60 230.4L328.72 229.0L328.85 230.4L328.98 228.4L329.10 232.0L329.23 231.9L329.35 230.0L329.48 230.1L329.61 230.5L329.73 231.6L329.86 230.1L329.99 233.4L330.11 233.1L330.24 233.6L330.36 230.1L330.49 228.6L330.62 235.2L330.74 238.1L330.87 238.2L331.00 234.9L331.12 235.2L331.25 231.5L331.38 230.9L331.50 228.7L331.63 227.3L331.76 229.6L331.88 232.0L332.01 228.6L332.14 230.0L332.26 226.6L332.39 231.7L332.52 230.3L332.64 229.0L332.77 231.6L332.90 228.6L333.02 228.7L333.15 230.8L333.28 230.0L333.41 230.9L333.53 232.7L333.66 230.5L333.79 232.3L333.91 231.4L334.04 231.3L334.17 229.0L334.30 230.3L334.42 230.2L334.55 233.0L334.68 230.4L334.80 229.2L334.93 234.8L335.06 231.0L335.19 231.6L335.31 234.5L335.44 232.9L335.57 231.1L335.70 232.4L335.82 231.1L335.95 229.9L336.08 232.7L336.21 230.3L336.34 233.3L336.46 232.1L336.59 227.5L336.72 228.7L336.85 228.0L336.97 231.3L337.10 229.1L337.23 229.5L337.36 224.8L337.49 230.7L337.61 230.8L337.74 230.8L337.87 229.6L338.00 231.0L338.13 230.5L338.25 228.8L338.38 228.7L338.51 231.3L338.64 229.1L338.77 224.5L338.90 228.4L339.02 226.3L339.15 227.4L339.28 228.1L339.41 229.7L339.54 227.7L339.67 232.1L339.79 225.5L339.92 227.9L340.05 228.0L340.18 230.8L340.31 231.0L340.44 231.3L340.57 231.4L340.70 232.8L340.82 233.2L340.95 231.1L341.08 229.0L341.21 227.9L341.34 229.4L341.47 229.8L341.60 228.7L341.73 227.8L341.86 230.2L341.98 228.9L342.11 229.9L342.24 230.5L342.37 232.1L342.50 229.4L342.63 231.2L342.76 231.6L342.89 228.4L343.02 226.6L343.15 227.8L343.28 227.5L343.41 230.1L343.53 229.4L343.66 227.4L343.79 226.2L343.92 234.8L344.05 227.0L344.18 229.3L344.31 229.7L344.44 230.5L344.57 230.1L344.70 232.1L344.83 229.9L344.96 232.4L345.09 230.3L345.22 233.0L345.35 229.4L345.48 230.3L345.61 232.0L345.74 229.5L345.87 230.3L346.00 230.5L346.13 228.7L346.26 227.4L346.39 226.9L346.52 229.4L346.65 227.4L346.78 228.3L346.91 229.1L347.04 228.9L347.17 232.7L347.30 230.8L347.43 228.9L347.56 233.4L347.69 232.5L347.82 228.5L347.95 232.3L348.08 230.2L348.21 230.9L348.34 230.3L348.47 227.7L348.60 227.7L348.73 229.6L348.86 226.8L349.00 232.1L349.13 231.0L349.26 230.2L349.39 230.3L349.52 233.8L349.65 231.6L349.78 235.9L349.91 233.0L350.04 233.0L350.17 233.6L350.30 233.0L350.43 231.2L350.57 233.4L350.70 237.0L350.83 244.7L350.96 244.2L351.09 240.8L351.22 240.5L351.35 232.3L351.48 228.7L351.61 226.8L351.75 226.5L351.88 227.1L352.01 230.3L352.14 229.6L352.27 234.1L352.40 229.4L352.53 231.8L352.66 230.2L352.80 230.9L352.93 228.4L353.06 231.0L353.19 234.2L353.32 231.0L353.45 231.5L353.59 230.3L353.72 228.6L353.85 231.5L353.98 228.5L354.11 228.4L354.25 227.7L354.38 233.0L354.51 229.6L354.64 231.9L354.77 231.8L354.90 232.6L355.04 231.2L355.17 228.9L355.30 227.8L355.43 230.6L355.57 232.7L355.70 228.0L355.83 232.3L355.96 231.3L356.09 229.4L356.23 232.2L356.36 229.3L356.49 231.3L356.62 233.6L356.76 232.2L356.89 233.7L357.02 228.8L357.15 227.2L357.29 227.5L357.42 231.8L357.55 226.1L357.68 228.1L357.82 228.1L357.95 230.8L358.08 233.1L358.21 232.4L358.35 231.0L358.48 230.5L358.61 232.3L358.75 232.8L358.88 232.7L359.01 232.8L359.14 229.0L359.28 230.2L359.41 231.3L359.54 233.8L359.68 233.4L359.81 228.6L359.94 228.1L360.08 227.5L360.21 229.2L360.34 229.9L360.48 231.4L360.61 230.7L360.74 233.9L360.88 229.6L361.01 228.9L361.14 227.4L361.28 233.0L361.41 232.6L361.54 230.6L361.68 229.6L361.81 233.4L361.94 232.6L362.08 232.4L362.21 231.7L362.34 230.6L362.48 230.1L362.61 231.8L362.75 230.6L362.88 230.6L363.01 227.4L363.15 232.7L363.28 231.3L363.42 231.6L363.55 230.9L363.68 230.2L363.82 229.3L363.95 233.8L364.09 228.9L364.22 228.6L364.35 228.5L364.49 228.7L364.62 227.1L364.76 228.7L364.89 232.5L365.03 230.4L365.16 230.7L365.29 231.8L365.43 231.6L365.56 229.2L365.70 231.3L365.83 229.9L365.97 230.0L366.10 227.4L366.24 227.1L366.37 230.4L366.50 228.8L366.64 231.0L366.77 229.1L366.91 234.8L367.04 231.1L367.18 228.0L367.31 230.0L367.45 232.0L367.58 231.9L367.72 228.9L367.85 231.4L367.99 229.5L368.12 231.5L368.26 232.6L368.39 232.1L368.53 229.9L368.66 228.5L368.80 230.9L368.93 230.7L369.07 230.5L369.20 227.5L369.34 225.2L369.48 228.9L369.61 227.3L369.75 229.5L369.88 227.8L370.02 232.3L370.15 229.4L370.29 231.7L370.42 231.9L370.56 230.6L370.69 231.0L370.83 231.4L370.97 230.4L371.10 231.0L371.24 229.3L371.37 230.4L371.51 232.5L371.65 232.1L371.78 233.5L371.92 232.7L372.05 229.2L372.19 236.3L372.32 237.5L372.46 238.3L372.60 235.4L372.73 236.9L372.87 231.6L373.01 230.1L373.14 231.4L373.28 227.3L373.41 227.1L373.55 234.8L373.69 231.9L373.82 228.7L373.96 233.2L374.10 233.3L374.23 231.5L374.37 232.0L374.50 232.2L374.64 231.5L374.78 229.4L374.91 235.3L375.05 232.4L375.19 234.0L375.32 231.2L375.46 232.7L375.60 231.6L375.73 231.6L375.87 227.0L376.01 232.9L376.15 231.6L376.28 229.3L376.42 230.4L376.56 229.0L376.69 232.3L376.83 230.0L376.97 230.3L377.10 230.0L377.24 233.0L377.38 233.2L377.52 234.5L377.65 233.4L377.79 239.8L377.93 236.9L378.07 236.0L378.20 230.0L378.34 228.4L378.48 230.5L378.61 228.2L378.75 232.1L378.89 228.5L379.03 229.9L379.16 231.2L379.30 231.0L379.44 230.4L379.58 234.7L379.72 228.9L379.85 232.3L379.99 229.1L380.13 231.6L380.27 228.5L380.40 232.4L380.54 228.8L380.68 230.5L380.82 231.1L380.96 229.0L381.09 230.6L381.23 231.1L381.37 230.7L381.51 232.0L381.65 231.6L381.78 231.1L381.92 228.8L382.06 230.2L382.20 231.1L382.34 229.2L382.48 230.5L382.61 231.1L382.75 232.5L382.89 227.5L383.03 231.3L383.17 229.6L383.31 233.3L383.45 233.4L383.58 227.7L383.72 231.2L383.86 230.8L384.00 231.2L384.14 232.0L384.28 228.4L384.42 232.4L384.56 229.3L384.69 231.3L384.83 224.8L384.97 228.1L385.11 227.7L385.25 232.7L385.39 229.0L385.53 231.3L385.67 231.9L385.81 232.7L385.94 229.6L386.08 230.5L386.22 231.5L386.36 231.6L386.50 231.5L386.64 231.4L386.78 230.9L386.92 231.8L387.06 231.1L387.20 233.6L387.34 229.3L387.48 228.1L387.62 230.1L387.76 226.7L387.90 230.4L388.04 229.2L388.18 227.4L388.32 229.5L388.45 230.7L388.59 228.0L388.73 228.8L388.87 226.5L389.01 227.5L389.15 228.6L389.29 226.9L389.43 224.3L389.57 226.1L389.71 227.3L389.85 229.3L389.99 229.4L390.13 229.7L390.27 227.6L390.41 232.7L390.55 230.9L390.69 228.1L390.84 233.7L390.98 230.4L391.12 233.1L391.26 232.3L391.40 231.2L391.54 232.5L391.68 233.4L391.82 231.3L391.96 230.0L392.10 231.0L392.24 231.0L392.38 227.7L392.52 231.2L392.66 231.2L392.80 228.8L392.94 225.4L393.08 229.1L393.22 228.7L393.37 230.1L393.51 230.0L393.65 231.3L393.79 228.2L393.93 229.8L394.07 230.9L394.21 227.5L394.35 231.5L394.49 227.0L394.63 228.8L394.78 229.7L394.92 229.8L395.06 230.3L395.20 229.2L395.34 230.3L395.48 226.7L395.62 228.1L395.76 229.0L395.91 231.6L396.05 230.3L396.19 228.1L396.33 228.7L396.47 229.4L396.61 229.4L396.76 227.6L396.90 232.7L397.04 231.4L397.18 232.3L397.32 228.9L397.46 233.9L397.61 232.4L397.75 229.6L397.89 232.1L398.03 230.3L398.17 231.2L398.32 229.9L398.46 226.7L398.60 232.3L398.74 230.2L398.88 227.4L399.03 225.6L399.17 228.6L399.31 224.6L399.45 226.2L399.59 225.9L399.74 230.0L399.88 230.1L400.02 227.6L400.16 228.9L400.31 229.4L400.45 230.9L400.59 227.6L400.73 229.1L400.88 224.5L401.02 229.2L401.16 228.4L401.30 228.7L401.45 231.2L401.59 232.0L401.73 231.6L401.88 230.5L402.02 232.4L402.16 228.0L402.30 231.8L402.45 229.5L402.59 228.8L402.73 230.5L402.88 232.5L403.02 229.2L403.16 228.5L403.31 231.4L403.45 231.5L403.59 235.3L403.74 233.5L403.88 232.6L404.02 232.3L404.17 231.1L404.31 231.8L404.45 230.9L404.60 232.3L404.74 228.8L404.88 228.6L405.03 230.1L405.17 229.6L405.31 231.1L405.46 231.2L405.60 231.6L405.74 228.5L405.89 233.5L406.03 229.5L406.18 229.6L406.32 229.1L406.46 232.0L406.61 228.0L406.75 228.1L406.89 230.5L407.04 231.4L407.18 230.2L407.33 228.5L407.47 233.0L407.61 227.0L407.76 229.6L407.90 227.9L408.05 231.0L408.19 226.7L408.34 229.9L408.48 226.1L408.62 231.1L408.77 231.5L408.91 229.2L409.06 228.9L409.20 230.3L409.35 228.3L409.49 230.4L409.64 233.1L409.78 235.5L409.93 234.6L410.07 230.6L410.21 231.0L410.36 234.4L410.50 232.1L410.65 232.0L410.79 231.1L410.94 230.2L411.08 234.4L411.23 230.4L411.37 229.4L411.52 230.7L411.66 230.8L411.81 233.0L411.95 230.5L412.10 229.3L412.24 228.8L412.39 231.7L412.54 229.1L412.68 229.7L412.83 229.8L412.97 231.1L413.12 229.9L413.26 230.9L413.41 227.3L413.55 231.9L413.70 228.5L413.84 229.8L413.99 232.5L414.14 228.7L414.28 226.3L414.43 226.1L414.57 225.5L414.72 228.8L414.86 226.9L415.01 229.5L415.16 224.3L415.30 225.9L415.45 230.2L415.59 229.5L415.74 231.0L415.89 230.7L416.03 230.0L416.18 231.9L416.32 231.2L416.47 229.2L416.62 231.5L416.76 229.4L416.91 231.8L417.05 231.7L417.20 232.9L417.35 228.7L417.49 231.9L417.64 230.1L417.79 232.4L417.93 228.4L418.08 230.5L418.23 228.1L418.37 225.1L418.52 227.8L418.67 231.9L418.81 227.1L418.96 228.7L419.11 227.7L419.25 229.4L419.40 228.6L419.55 229.0L419.69 231.6L419.84 232.4L419.99 230.4L420.13 229.6L420.28 233.2L420.43 230.2L420.58 234.1L420.72 229.4L420.87 227.6L421.02 229.4L421.16 231.8L421.31 229.9L421.46 229.0L421.61 228.4L421.75 227.6L421.90 229.0L422.05 232.3L422.20 231.0L422.34 229.6L422.49 230.6L422.64 233.3L422.79 230.0L422.93 230.4L423.08 228.4L423.23 228.6L423.38 231.5L423.53 229.8L423.67 227.9L423.82 230.7L423.97 229.7L424.12 230.6L424.26 230.0L424.41 227.2L424.56 228.8L424.71 231.2L424.86 227.7L425.01 230.8L425.15 231.6L425.30 232.0L425.45 227.6L425.60 232.2L425.75 231.0L425.89 233.3L426.04 231.2L426.19 229.9L426.34 232.4L426.49 229.6L426.64 227.3L426.79 226.8L426.93 228.7L427.08 224.6L427.23 229.8L427.38 227.9L427.53 228.8L427.68 231.0L427.83 227.7L427.98 231.2L428.12 231.0L428.27 230.0L428.42 231.1L428.57 226.5L428.72 230.0L428.87 230.9L429.02 228.6L429.17 228.9L429.32 230.2L429.47 229.8L429.61 228.7L429.76 228.9L429.91 233.5L430.06 230.2L430.21 230.0L430.36 230.5L430.51 234.4L430.66 234.1L430.81 232.7L430.96 235.5L431.11 236.5L431.26 239.3L431.41 239.8L431.56 241.8L431.71 243.4L431.86 244.6L432.01 246.1L432.16 247.6L432.31 244.4L432.46 248.0L432.61 247.7L432.76 251.2L432.91 247.5L433.06 249.0L433.21 248.8L433.36 257.2L433.51 255.5L433.66 261.0L433.81 262.1L433.96 250.7L434.11 239.1L434.26 225.9L434.41 239.9L434.56 238.9L434.71 251.4L434.86 257.8L435.01 253.8L435.16 251.4L435.31 243.1L435.46 233.2L435.61 232.3L435.76 223.0L435.91 229.3L436.06 237.8L436.21 225.2L436.36 229.3L436.51 224.1L436.67 225.2L436.82 225.8L436.97 214.4L437.12 228.4L437.27 230.7L437.42 223.3L437.57 222.7L437.72 228.4L437.87 231.6L438.02 249.2L438.18 258.0L438.33 260.8L438.48 264.3L438.63 253.9L438.78 251.8L438.93 234.6L439.08 235.7L439.23 238.1L439.39 229.2L439.54 228.7L439.69 221.2L439.84 237.8L439.99 230.7L440.14 228.2L440.30 233.1L440.45 225.9L440.60 224.9L440.75 218.6L440.90 217.2L441.05 230.3L441.21 232.4L441.36 239.2L441.51 244.7L441.66 247.7L441.81 248.4L441.97 242.7L442.12 236.6L442.27 232.4L442.42 235.0L442.57 232.8L442.73 235.7L442.88 228.9L443.03 231.1L443.18 239.1L443.34 227.8L443.49 231.8L443.64 226.4L443.79 229.0L443.95 227.0L444.10 221.6L444.25 226.8L444.40 225.0L444.56 229.7L444.71 228.7L444.86 239.8L445.01 242.6L445.17 241.8L445.32 238.5L445.47 233.8L445.63 230.1L445.78 228.3L445.93 218.2L446.08 218.5L446.24 231.8L446.39 222.3L446.54 224.0L446.70 225.1L446.85 227.6L447.00 232.3L447.16 218.7L447.31 219.1L447.46 226.2L447.62 230.4L447.77 230.6L447.92 231.8L448.08 229.1L448.23 230.9L448.38 234.8L448.54 231.2L448.69 232.0L448.84 231.4L449.00 232.2L449.15 228.9L449.30 232.3L449.46 236.9L449.61 232.2L449.77 235.5L449.92 230.9L450.07 231.0L450.23 228.2L450.38 232.0L450.54 231.5L450.69 232.6L450.84 232.5L451.00 230.5L451.15 233.4L451.31 228.5L451.46 234.9L451.62 233.8L451.77 230.5L451.92 231.0L452.08 229.2L452.23 228.2L452.39 231.8L452.54 229.3L452.70 229.1L452.85 228.9L453.00 229.1L453.16 228.9L453.31 229.8L453.47 227.2L453.62 226.2L453.78 227.1L453.93 226.6L454.09 229.6L454.24 228.8L454.40 227.4L454.55 230.6L454.71 230.3L454.86 227.4L455.02 228.6L455.17 225.8L455.33 227.5L455.48 228.9L455.64 230.7L455.79 227.7L455.95 230.1L456.10 231.4L456.26 234.0L456.41 234.1L456.57 232.4L456.73 229.1L456.88 233.2L457.04 231.4L457.19 231.7L457.35 236.2L457.50 231.9L457.66 228.1L457.81 233.1L457.97 227.3L458.13 229.7L458.28 231.9L458.44 226.1L458.59 230.6L458.75 227.8L458.91 229.8L459.06 231.6L459.22 227.9L459.37 227.4L459.53 227.6L459.69 232.2L459.84 230.3L460.00 232.9L460.15 231.8L460.31 228.8L460.47 233.4L460.62 227.2L460.78 233.4L460.94 232.0L461.09 229.1L461.25 230.8L461.41 229.6L461.56 231.5L461.72 228.7L461.88 229.4L462.03 230.4L462.19 231.8L462.35 233.2L462.50 231.0L462.66 233.5L462.82 230.9L462.97 228.3L463.13 228.3L463.29 229.6L463.44 232.0L463.60 226.1L463.76 226.3L463.91 227.8L464.07 225.5L464.23 225.6L464.39 230.4L464.54 229.1L464.70 230.9L464.86 227.9L465.02 230.1L465.17 233.0L465.33 232.0L465.49 230.6L465.64 232.5L465.80 231.6L465.96 231.6L466.12 231.0L466.28 229.9L466.43 229.5L466.59 232.0L466.75 232.5L466.91 230.3L467.06 228.4L467.22 227.4L467.38 233.7L467.54 229.4L467.70 231.4L467.85 231.8L468.01 229.9L468.17 229.8L468.33 229.6L468.49 234.4L468.64 231.4L468.80 229.3L468.96 230.0L469.12 232.9L469.28 230.2L469.44 230.0L469.59 227.6L469.75 226.7L469.91 231.5M478.52 230.2L478.68 231.5L478.84 230.8L479.00 233.1L479.16 234.3L479.33 232.5L479.49 233.0L479.65 234.4L479.81 228.8L479.97 230.7L480.13 232.0L480.29 228.3L480.45 227.7L480.61 229.7L480.77 229.2L480.93 232.3L481.10 230.5L481.26 228.2L481.42 230.7L481.58 230.5L481.74 232.7L481.90 234.1L482.06 230.7L482.22 230.6L482.38 230.7L482.55 229.8L482.71 228.3L482.87 229.3L483.03 229.7L483.19 228.8L483.35 232.0L483.52 231.2L483.68 229.3L483.84 231.3L484.00 231.2L484.16 230.2L484.32 228.4L484.49 231.1L484.65 230.2L484.81 229.3L484.97 224.1L485.13 227.0L485.30 227.9L485.46 230.4L485.62 227.8L485.78 228.7L485.94 231.0L486.11 232.4L486.27 232.0L486.43 234.3L486.59 232.2L486.76 231.5L486.92 232.1L487.08 229.6L487.24 231.9L487.40 226.9L487.57 228.1L487.73 230.2L487.89 227.1L488.06 227.7L488.22 230.2L488.38 231.4L488.54 230.0L488.71 230.0L488.87 229.4L489.03 228.1L489.19 228.4L489.36 232.2L489.52 228.7L489.68 231.8L489.85 227.0L490.01 228.3L490.17 228.4L490.34 229.5L490.50 229.9L490.66 231.3L490.83 234.6L490.99 230.3L491.15 225.1L491.32 227.1L491.48 229.3L491.64 228.2L491.81 227.7L491.97 230.6L492.13 228.9L492.30 229.0L492.46 230.1L492.62 229.6L492.79 229.3L492.95 231.7L493.12 232.0L493.28 233.4L493.44 231.4L493.61 234.0L493.77 234.3L493.94 230.4L494.10 231.8L494.26 234.3L494.43 231.0L494.59 231.2L494.76 230.9L494.92 231.8L495.08 230.3L495.25 231.4L495.41 231.6L495.58 230.2L495.74 228.5L495.91 229.7L496.07 228.1L496.24 226.7L496.40 229.2L496.56 229.9L496.73 229.7L496.89 231.9L497.06 230.7L497.22 229.9L497.39 234.1L497.55 232.1L497.72 228.7L497.88 229.2L498.05 233.6L498.21 229.7L498.38 228.9L498.54 230.7L498.71 229.9L498.87 231.0L499.04 232.2L499.20 233.4L499.37 231.9L499.53 228.0L499.70 232.0L499.87 234.2L500.03 231.2L500.20 233.9L500.36 227.0L500.53 229.4L500.69 231.2L500.86 230.6L501.02 231.4L501.19 230.4L501.36 231.4L501.52 233.9L501.69 229.3L501.85 231.3L502.02 232.4L502.18 228.5L502.35 229.2L502.52 231.5L502.68 231.2L502.85 228.6L503.01 231.1L503.18 229.6L503.35 228.1L503.51 232.5L503.68 232.6L503.85 232.5L504.01 232.2L504.18 231.3L504.34 229.6L504.51 231.9L504.68 227.5L504.84 230.1L505.01 233.4L505.18 230.1L505.34 228.9L505.51 228.6L505.68 231.6L505.84 231.5L506.01 226.8L506.18 230.5L506.34 232.0L506.51 232.1L506.68 230.2L506.85 227.9L507.01 230.3L507.18 225.8L507.35 229.3L507.51 232.3L507.68 228.6L507.85 229.1L508.02 230.7L508.18 227.1L508.35 231.5L508.52 228.6L508.68 229.7L508.85 226.2L509.02 231.0L509.19 230.1L509.35 229.7L509.52 229.9L509.69 229.0L509.86 230.8L510.02 228.1L510.19 227.6L510.36 229.3L510.53 226.7L510.70 227.1L510.86 229.9L511.03 227.8L511.20 231.5L511.37 229.4L511.54 227.8L511.70 226.7L511.87 230.5L512.04 228.7L512.21 229.0L512.38 229.8L512.55 234.0L512.71 231.2L512.88 229.8L513.05 230.3L513.22 231.4L513.39 231.6L513.56 233.8L513.72 230.5L513.89 230.1L514.06 232.0L514.23 229.3L514.40 231.1L514.57 231.3L514.74 232.3L514.91 228.9L515.07 231.4L515.24 230.3L515.41 229.0L515.58 230.0L515.75 232.4L515.92 228.9L516.09 231.0L516.26 233.3L516.43 230.5L516.60 231.7L516.77 231.1L516.93 232.2L517.10 232.5L517.27 231.0L517.44 234.4L517.61 230.4L517.78 231.9L517.95 233.7L518.12 232.3L518.29 230.0L518.46 232.6L518.63 233.5L518.80 233.7L518.97 236.2L519.14 239.1L519.31 247.0L519.48 251.4L519.65 253.7L519.82 254.9L519.99 259.2L520.16 259.3L520.33 260.5L520.50 265.9L520.67 261.9L520.84 266.3L521.01 266.9L521.18 268.5L521.35 265.3L521.52 267.3L521.69 266.8L521.86 273.7L522.03 270.7L522.20 269.4L522.37 275.8L522.54 267.8L522.71 269.3L522.88 266.7L523.06 268.2L523.23 265.0L523.40 264.1L523.57 259.9L523.74 266.9L523.91 258.5L524.08 264.2L524.25 259.8L524.42 259.0L524.59 253.7L524.76 254.4L524.94 246.7L525.11 246.8L525.28 239.7L525.45 235.3L525.62 234.5L525.79 233.0L525.96 227.7L526.13 230.9L526.31 229.0L526.48 228.0L526.65 233.0L526.82 230.6L526.99 227.7L527.16 230.2L527.34 237.0L527.51 276.4L527.68 281.4L527.85 278.6L528.02 251.9L528.19 233.1L528.37 234.6L528.54 242.0L528.71 228.5L528.88 234.0L529.05 229.8L529.23 238.5L529.40 232.9L529.57 239.1L529.74 226.4L529.92 231.2L530.09 231.1L530.26 240.1L530.43 236.0L530.61 230.8L530.78 230.0L530.95 231.3L531.12 230.2L531.30 224.3L531.47 228.3L531.64 229.7L531.81 226.1L531.99 227.6L532.16 221.7L532.33 226.7L532.51 227.1L532.68 228.0L532.85 226.8L533.02 226.6L533.20 227.4L533.37 233.7L533.54 230.7L533.72 224.1L533.89 227.4L534.06 224.7L534.24 231.9L534.41 238.7L534.58 239.1L534.76 234.7L534.93 235.6L535.10 225.1L535.28 233.2L535.45 230.5L535.62 229.5L535.80 239.8L535.97 231.5L536.14 232.3L536.32 226.8L536.49 234.7L536.67 239.4L536.84 231.7L537.01 231.9L537.19 234.1L537.36 231.9L537.54 230.2L537.71 231.8L537.88 230.5L538.06 222.4L538.23 233.8L538.41 228.0L538.58 234.0L538.76 236.2L538.93 227.5L539.10 231.6L539.28 226.2L539.45 225.6L539.63 229.8L539.80 234.5L539.98 224.0L540.15 230.6L540.33 220.7L540.50 224.3L540.68 224.5L540.85 225.3L541.03 224.1L541.20 228.0L541.38 218.8L541.55 230.9L541.73 234.9L541.90 227.5L542.08 229.9L542.25 223.8L542.43 228.5L542.60 222.2L542.78 227.6L542.95 231.4L543.13 231.1L543.30 227.6L543.48 233.2L543.65 234.9L543.83 232.6L544.00 229.7L544.18 226.2L544.36 228.5L544.53 225.6L544.71 228.1L544.88 218.2L545.06 217.7L545.23 231.2L545.41 226.7L545.59 228.3L545.76 228.6L545.94 232.9L546.11 234.6L546.29 239.6L546.47 233.7L546.64 233.5L546.82 228.8L546.99 231.6L547.17 233.7L547.35 235.2L547.52 237.8L547.70 228.8L547.88 229.0L548.05 228.9L548.23 226.9L548.41 226.5L548.58 228.4L548.76 228.5L548.94 233.5L549.11 234.1L549.29 228.7L549.47 220.7L549.64 232.5L549.82 231.3L550.00 220.6L550.17 233.0L550.35 233.4L550.53 232.7L550.70 233.6L550.88 237.1L551.06 224.4L551.24 233.7L551.41 227.8L551.59 229.2L551.77 228.2L551.95 229.9L552.12 233.0L552.30 237.5L552.48 232.4L552.65 236.4L552.83 236.8L553.01 236.8L553.19 237.8L553.37 235.0L553.54 238.9L553.72 234.0L553.90 230.7L554.08 228.5L554.25 235.9L554.43 234.5L554.61 231.8L554.79 234.8L554.97 242.5L555.14 230.1L555.32 231.5L555.50 230.4L555.68 235.2L555.86 229.5L556.04 231.3L556.21 224.1L556.39 226.0L556.57 224.5L556.75 235.8L556.93 236.3L557.11 234.8L557.29 235.0L557.46 227.5L557.64 234.3L557.82 239.5L558.00 235.3L558.18 226.9L558.36 233.9L558.54 231.3L558.72 240.2L558.89 233.9L559.07 232.4L559.25 232.2L559.43 233.0L559.61 232.6L559.79 229.5L559.97 239.9L560.15 233.7L560.33 232.6L560.51 233.3L560.69 228.0L560.87 230.1L561.04 229.7L561.22 230.5L561.40 226.0L561.58 230.2L561.76 228.6L561.94 225.3L562.12 227.2L562.30 233.4L562.48 236.5L562.66 228.5L562.84 236.0L563.02 233.8L563.20 240.9L563.38 232.5L563.56 230.0L563.74 237.7L563.92 232.7L564.10 228.4L564.28 234.7L564.46 237.1L564.64 229.5L564.82 227.7L565.00 235.4L565.18 224.6L565.36 230.2L565.54 224.4L565.73 231.1L565.91 225.1L566.09 225.8L566.27 224.3L566.45 227.7L566.63 225.2L566.81 230.3L566.99 232.3L567.17 234.3L567.35 238.8L567.53 231.6L567.71 233.3L567.90 232.0L568.08 230.8L568.26 228.0L568.44 227.5L568.62 228.8L568.80 225.1L568.98 220.7L569.16 230.6L569.34 231.4L569.53 228.9L569.71 234.5L569.89 226.2L570.07 232.2L570.25 233.0L570.43 233.5L570.62 226.9L570.80 237.0L570.98 227.9L571.16 238.1L571.34 226.5L571.52 228.7L571.71 227.5L571.89 220.9L572.07 228.4L572.25 225.2L572.43 226.5L572.62 226.9L572.80 231.5L572.98 222.6L573.16 228.7L573.35 222.8L573.53 223.4L573.71 228.4L573.89 225.7L574.08 227.5L574.26 229.4L574.44 218.8L574.62 233.4L574.81 236.9L574.99 235.4L575.17 231.5L575.35 230.5L575.54 227.4L575.72 227.2L575.90 227.8L576.08 227.3L576.27 232.2L576.45 224.9L576.63 225.7L576.82 232.6L577.00 231.4L577.18 236.8L577.37 233.8L577.55 232.7L577.73 227.8L577.92 231.9L578.10 227.6L578.28 222.6L578.47 224.7L578.65 224.6L578.83 237.2L579.02 231.0L579.20 231.1L579.38 232.0L579.57 236.4L579.75 225.2L579.94 227.8L580.12 235.4L580.30 232.9L580.49 229.7L580.67 224.0L580.86 226.2L581.04 230.9L581.22 230.0L581.41 226.6L581.59 221.1L581.78 230.8L581.96 233.6L582.15 228.4L582.33 232.1L582.51 226.5L582.70 230.9L582.88 228.8L583.07 239.7L583.25 236.0L583.44 237.7L583.62 233.0L583.81 229.4L583.99 231.6L584.18 229.0L584.36 231.4L584.55 225.5L584.73 224.4L584.91 234.6L585.10 233.0L585.28 230.7L585.47 227.2L585.66 226.7L585.84 222.6L586.03 236.8L586.21 230.2L586.40 229.9L586.58 232.4L586.77 230.8L586.95 239.1L587.14 230.3L587.32 233.3L587.51 236.7L587.69 227.4L587.88 235.6L588.07 232.5L588.25 237.0L588.44 241.0L588.62 238.0L588.81 232.0L588.99 236.7L589.18 229.0L589.37 223.2L589.55 223.9L589.74 228.2L589.92 227.7L590.11 223.7L590.30 232.4L590.48 233.3L590.67 221.8L590.86 227.9L591.04 227.6L591.23 231.3L591.42 219.0L591.60 218.1L591.79 228.2L591.97 226.3L592.16 232.6L592.35 229.9L592.53 229.3L592.72 230.0L592.91 234.5L593.10 231.7L593.28 222.4L593.47 227.1L593.66 226.3L593.84 227.2L594.03 228.6L594.22 235.4L594.40 236.6L594.59 240.1L594.78 238.9L594.97 241.3L595.15 240.8L595.34 252.7L595.53 247.3L595.72 258.5L595.90 247.2L596.09 262.3L596.28 263.3L596.47 260.3L596.65 270.0L596.84 273.0L597.03 274.4L597.22 271.3L597.40 269.8" fill="none" stroke="#000" stroke-width="1.15" stroke-linejoin="round"/>
<path d="M404.2 147L404.5 155L404.7 164M404.3 151L407.2 151.5M470.1 151.6L470.6 165L471.1 183.3M471.6 180.3L472.3 170L473.1 156.1L474 153" fill="none" stroke="#000" stroke-width="1.3" stroke-dasharray="1.3 1.2"/>
<path d="M404.3 232.6L404.8 260L405.4 290.5M404.3 232.6L407.6 240L405 253.6M469.9 231.7L470.5 290L471.3 352M471.3 352L472.6 322L475.3 290L478.5 231.7M473.8 230.2L476.9 230.2M470.21 233.0L478.29 235.6L470.26 238.2L478.00 240.8L470.31 243.4L477.72 246.0L470.35 248.6L477.43 251.2L470.40 253.8L477.14 256.4L470.45 259.0L476.86 261.6L470.50 264.2L476.57 266.8L470.54 269.4L476.29 272.0L470.59 274.6L476.00 277.2L470.64 279.8L475.72 282.4L470.69 285.0L475.43 287.6L470.73 290.2L475.06 292.8L470.78 295.4L474.62 298.0L470.83 300.6L474.19 303.2L470.88 305.8L473.75 308.4L470.93 311.0L473.31 313.6L470.97 316.2L472.87 318.8L471.02 321.4" fill="none" stroke="#000" stroke-width="1.3" stroke-dasharray="1.3 1.2"/>
<path d="M63.30 57.1L63.42 62.9L63.54 43.3L63.66 52.6L63.78 85.3L63.90 53.5L64.02 52.8L64.14 81.5L64.26 87.9L64.38 40.1L64.50 43.0L64.62 50.1L64.74 59.8L64.86 67.9L64.98 83.0L65.10 82.5L65.22 39.5L65.34 75.9L65.46 71.0L65.58 66.7L65.70 68.0L65.82 36.8L65.94 54.4L66.06 56.4L66.18 77.6L66.30 25.1L66.42 90.0L66.54 62.0L66.66 86.6L66.78 18.4L66.90 14.0L67.02 14.0L67.14 14.0L67.26 14.0L67.38 14.0L67.50 14.0L67.62 14.3L67.74 14.6L67.86 20.2L67.98 20.0L68.10 34.6L68.22 36.7L68.34 93.0L68.46 30.4L68.58 29.8L68.70 25.6L68.82 32.0L68.94 89.0L69.06 79.9L69.18 73.0L69.30 89.2L69.42 93.9L69.54 65.7L69.66 39.3L69.78 56.0L69.90 52.3L70.02 80.4L70.14 51.4L70.26 95.4L70.38 36.8L70.50 37.4L70.62 53.8L70.74 97.2L70.86 86.8L70.98 34.9L71.10 66.8L71.22 31.8L71.34 31.7L71.46 31.7L71.58 31.8L71.70 31.9L71.82 32.5L71.94 81.6L72.06 49.1L72.18 97.6L72.30 42.3L72.42 82.2L72.50 73.7L72.75 64.5L73.00 103.2L73.25 99.6L73.50 67.3L73.75 79.4L74.00 78.0L74.25 85.1L74.50 92.5L74.75 96.0L75.00 105.2L75.25 110.0L75.50 105.3L75.75 107.1L76.00 84.7L76.25 104.0L76.50 105.5L76.75 105.5L77.00 97.3L77.25 96.8L77.50 122.5L77.75 90.6L78.00 86.6L78.25 100.4L78.50 103.5L78.75 102.9L79.00 89.5L79.25 114.7L79.50 87.5L79.75 93.1L80.00 106.3L80.25 107.5L80.50 113.6L80.75 103.0L81.00 98.8L81.25 89.7L81.50 115.2L81.75 111.6L82.00 91.0L82.25 91.9L82.50 114.0L82.75 115.5L83.00 104.7L83.25 98.6L83.50 108.1L83.75 115.4L84.00 110.5L84.25 88.0L84.50 124.5L84.75 101.8L85.00 110.1L85.25 97.7L85.50 100.7L85.75 97.0L86.00 100.7L86.25 107.4L86.50 93.9L86.75 112.9L87.00 89.1L87.25 98.4L87.50 91.9L87.75 95.4L88.00 101.6L88.25 103.8L88.50 100.8L88.75 95.9L89.00 82.7L89.25 79.0L89.50 93.2L89.75 77.3L90.00 77.6L90.25 93.0L90.50 97.0L90.75 96.3L91.00 83.1L91.25 86.1L91.50 66.2L91.75 62.4L92.00 63.0L92.25 53.1L92.50 57.8L92.75 57.0L93.00 68.6L93.25 49.2L93.50 49.5L93.75 55.8L94.00 60.8L94.25 65.7L94.50 62.5L94.75 53.1L95.00 68.9L95.25 66.6L95.50 65.4L95.75 70.1L96.00 44.4L96.25 43.5L96.50 43.0L96.75 56.6L97.00 44.8L97.25 42.1L97.50 40.3L97.75 67.8L98.00 59.8L98.25 63.2L98.50 38.0L98.75 38.0L99.00 62.4L99.25 71.3L99.50 58.9L99.75 83.5L100.00 75.6L100.25 47.8L100.50 65.2L100.75 46.7L101.00 51.3L101.25 60.6L101.50 56.8L101.75 48.5L102.00 63.8L102.25 54.6L102.50 47.3L102.75 57.6L103.00 43.0L103.25 91.9L103.50 100.5L103.75 83.6L104.00 72.9L104.25 64.1L104.50 77.4L104.75 49.3L105.00 61.9L105.25 64.5L105.50 68.9L105.75 58.7L106.00 84.1L106.25 76.2L106.50 85.7L106.75 83.3L107.00 89.7L107.25 91.3L107.50 95.2L107.75 88.2L108.00 89.4L108.25 90.5L108.50 93.2L108.75 89.9L109.00 91.2L109.25 87.8L109.50 92.0L109.75 94.8L110.00 94.1L110.25 100.3L110.53 97.9" fill="none" stroke="#000" stroke-width="1.15" stroke-linejoin="round"/><path d="M63.20 205.2L63.40 268.4L63.80 200.0L64.00 257.1L63.90 200.0L64.10 277.0L64.40 212.6L64.60 277.0L65.00 212.7L65.20 258.5L65.60 211.1L65.80 254.6L66.20 207.7L66.40 258.9L66.80 203.9L67.00 252.7L67.40 210.6L67.60 253.1L67.90 200.0L68.10 250.9L68.00 200.0L68.20 257.7L68.60 205.8L68.80 277.6L69.20 213.7L69.40 260.1L69.80 213.2L70.00 260.5L70.40 211.6L70.60 249.1L71.00 208.2L71.20 250.8L71.60 202.9L71.80 254.1L71.90 205.0L72.10 245.4L72.20 206.3L72.40 263.7L72.60 208.2L72.80 266.0L72.80 215.0L73.00 264.3L73.40 219.0L73.60 257.6L74.00 222.3L74.20 241.4L74.60 213.0L74.80 242.7L75.20 210.0L75.40 266.0L75.80 215.7L76.00 248.0L76.40 222.4L76.60 242.4L77.00 214.5L77.20 241.1L77.60 207.8L77.80 238.2L77.90 206.0L78.10 241.4L78.20 207.8L78.40 240.5L78.80 219.7L79.00 244.4L79.40 218.2L79.60 239.7L80.00 222.4L80.20 239.7L80.60 220.7L80.80 245.4L81.20 223.4L81.40 240.3L81.80 222.4L82.00 240.7L82.40 223.6L82.60 242.9L83.00 202.7L83.20 239.4L83.20 201.0L83.40 238.6L83.60 207.0L83.80 265.0L83.80 217.3L84.00 275.0L84.20 220.1L84.40 264.1L84.80 224.9L85.00 247.5L85.40 223.2L85.60 239.4L86.00 225.7L86.20 238.1L86.60 220.1L86.80 237.9L87.20 220.7L87.40 238.4L87.80 214.2L88.00 238.3L87.90 214.0L88.10 236.9L88.40 224.4L88.60 242.2L89.00 224.1L89.20 236.0L89.60 214.6L89.80 242.7L89.90 214.7L90.10 241.6L90.20 215.0L90.40 243.0L90.80 223.5L91.00 260.0L91.20 224.3L91.40 267.6L91.40 218.3L91.60 260.6L92.00 224.2L92.20 237.1L92.60 222.2L92.80 237.4L93.20 218.7L93.40 234.1L93.80 225.9L94.00 237.5L94.40 225.6L94.60 241.1L95.00 224.8L95.20 234.3L95.60 224.2L95.80 237.1L96.20 221.4L96.40 238.8L96.80 224.6L97.00 235.3L97.40 223.4L97.60 236.8L98.00 218.6L98.20 236.5L98.60 217.3L98.80 239.6L99.20 220.1L99.40 237.4L99.80 221.5L100.00 235.4L100.40 224.4L100.60 252.6L100.60 221.5L100.80 256.8L101.00 219.0L101.20 249.4L101.60 222.6L101.80 236.6L102.20 224.3L102.40 234.4L102.80 223.6L103.00 275.4L103.20 226.3L103.40 285.0L103.40 219.8L103.60 272.7L104.00 224.7L104.20 241.7L104.60 223.2L104.80 233.9L105.20 214.0L105.40 234.3L105.80 223.0L106.00 238.7L106.40 223.9L106.60 235.7L107.00 225.3L107.20 241.7L107.60 222.7L107.80 242.8L108.20 218.0L108.40 237.8L108.60 218.0L108.80 235.8L108.80 218.2L109.00 235.4L109.40 224.6L109.60 234.4L110.00 224.8L110.20 236.0L110.53 233.0" fill="none" stroke="#000" stroke-width="1.15" stroke-linejoin="round"/>
<g stroke="#000" stroke-width="1.3" fill="none" shape-rendering="auto"><rect x="63.0" y="1.5" width="534.6" height="396.1"/><line x1="63.0" y1="199.6" x2="597.6" y2="199.6"/><path d="M99.24 1.50v4.50M99.24 199.60v-4.50M99.24 199.60v4.50M99.24 397.60v-4.50M144.60 1.50v9.00M144.60 199.60v-9.00M144.60 199.60v9.00M144.60 397.60v-9.00M189.96 1.50v4.50M189.96 199.60v-4.50M189.96 199.60v4.50M189.96 397.60v-4.50M235.32 1.50v4.50M235.32 199.60v-4.50M235.32 199.60v4.50M235.32 397.60v-4.50M280.68 1.50v4.50M280.68 199.60v-4.50M280.68 199.60v4.50M280.68 397.60v-4.50M326.04 1.50v9.00M326.04 199.60v-9.00M326.04 199.60v9.00M326.04 397.60v-9.00M371.40 1.50v4.50M371.40 199.60v-4.50M371.40 199.60v4.50M371.40 397.60v-4.50M416.76 1.50v4.50M416.76 199.60v-4.50M416.76 199.60v4.50M416.76 397.60v-4.50M462.12 1.50v4.50M462.12 199.60v-4.50M462.12 199.60v4.50M462.12 397.60v-4.50M507.48 1.50v9.00M507.48 199.60v-9.00M507.48 199.60v9.00M507.48 397.60v-9.00M552.84 1.50v4.50M552.84 199.60v-4.50M552.84 199.60v4.50M552.84 397.60v-4.50M63.0 191.30h9.0M597.6 191.30h-9.0M63.0 183.05h4.5M597.6 183.05h-4.5M63.0 174.80h4.5M597.6 174.80h-4.5M63.0 166.55h4.5M597.6 166.55h-4.5M63.0 158.30h4.5M597.6 158.30h-4.5M63.0 150.05h9.0M597.6 150.05h-9.0M63.0 141.80h4.5M597.6 141.80h-4.5M63.0 133.55h4.5M597.6 133.55h-4.5M63.0 125.30h4.5M597.6 125.30h-4.5M63.0 117.05h4.5M597.6 117.05h-4.5M63.0 108.80h9.0M597.6 108.80h-9.0M63.0 100.55h4.5M597.6 100.55h-4.5M63.0 92.30h4.5M597.6 92.30h-4.5M63.0 84.05h4.5M597.6 84.05h-4.5M63.0 75.80h4.5M597.6 75.80h-4.5M63.0 67.55h9.0M597.6 67.55h-9.0M63.0 59.30h4.5M597.6 59.30h-4.5M63.0 51.05h4.5M597.6 51.05h-4.5M63.0 42.80h4.5M597.6 42.80h-4.5M63.0 34.55h4.5M597.6 34.55h-4.5M63.0 26.30h9.0M597.6 26.30h-9.0M63.0 18.05h4.5M597.6 18.05h-4.5M63.0 9.80h4.5M597.6 9.80h-4.5M63.0 382.50h9.0M597.6 382.50h-9.0M63.0 367.26h4.5M597.6 367.26h-4.5M63.0 352.02h4.5M597.6 352.02h-4.5M63.0 336.78h4.5M597.6 336.78h-4.5M63.0 321.54h4.5M597.6 321.54h-4.5M63.0 306.30h9.0M597.6 306.30h-9.0M63.0 291.06h4.5M597.6 291.06h-4.5M63.0 275.82h4.5M597.6 275.82h-4.5M63.0 260.58h4.5M597.6 260.58h-4.5M63.0 245.34h4.5M597.6 245.34h-4.5M63.0 230.10h9.0M597.6 230.10h-9.0M63.0 214.86h4.5M597.6 214.86h-4.5"/></g>
<text x="52.4" y="197.9" font-size="18.7" text-anchor="end" font-family="Liberation Serif, serif"  textLength="11.2" lengthAdjust="spacingAndGlyphs">0</text><text x="52.4" y="156.65" font-size="18.7" text-anchor="end" font-family="Liberation Serif, serif"  textLength="12.3" lengthAdjust="spacingAndGlyphs">5</text><text x="52.4" y="115.4" font-size="18.7" text-anchor="end" font-family="Liberation Serif, serif"  textLength="22.6" lengthAdjust="spacingAndGlyphs">10</text><text x="52.4" y="74.15" font-size="18.7" text-anchor="end" font-family="Liberation Serif, serif"  textLength="23.3" lengthAdjust="spacingAndGlyphs">15</text><text x="52.4" y="32.9" font-size="18.7" text-anchor="end" font-family="Liberation Serif, serif"  textLength="23.3" lengthAdjust="spacingAndGlyphs">20</text><text x="52.4" y="389.1" font-size="18.7" text-anchor="end" font-family="Liberation Serif, serif"  textLength="11.2" lengthAdjust="spacingAndGlyphs">0</text><text x="52.4" y="312.9" font-size="18.7" text-anchor="end" font-family="Liberation Serif, serif"  textLength="29.1" lengthAdjust="spacingAndGlyphs">0.5</text><text x="51.6" y="236.7" font-size="18.7" text-anchor="end" font-family="Liberation Serif, serif"  textLength="10.6" lengthAdjust="spacingAndGlyphs">1</text><text x="144.6" y="419.2" font-size="18.7" text-anchor="middle" font-family="Liberation Serif, serif"  textLength="46.5" lengthAdjust="spacingAndGlyphs">4000</text><text x="326.04" y="419.2" font-size="18.7" text-anchor="middle" font-family="Liberation Serif, serif"  textLength="46.5" lengthAdjust="spacingAndGlyphs">6000</text><text x="507.48" y="419.2" font-size="18.7" text-anchor="middle" font-family="Liberation Serif, serif"  textLength="46.5" lengthAdjust="spacingAndGlyphs">8000</text><text x="330" y="442" font-size="18.7" text-anchor="middle" font-family="Liberation Serif, serif" textLength="146" lengthAdjust="spacing">Wavelength (&#197;)</text><text transform="translate(19.5,100.5) rotate(-90)" font-size="20.5" text-anchor="middle" font-family="Liberation Serif, serif" textLength="133" lengthAdjust="spacing">Relative Flux</text><text transform="translate(14.0,298.7) rotate(-90)" font-size="20.5" text-anchor="middle" font-family="Liberation Serif, serif" textLength="165" lengthAdjust="spacing">Normalized Flux</text><text x="244.9" y="33.4" font-size="18.5" font-family="Liberation Serif, serif" textLength="247" lengthAdjust="spacingAndGlyphs">SDSSJ080004.56+184935.15</text><text x="501.0" y="33.4" font-size="18.5" font-family="Liberation Serif, serif" textLength="17.6" lengthAdjust="spacingAndGlyphs">at</text><text x="526.0" y="33.4" font-size="18.5" font-style="italic" font-family="Liberation Serif, serif" textLength="9.6" lengthAdjust="spacingAndGlyphs">z</text><text x="538.0" y="33.4" font-size="18.5" font-family="Liberation Serif, serif" textLength="12.6" lengthAdjust="spacingAndGlyphs">=</text><text x="551.6" y="33.4" font-size="18.5" font-family="Liberation Serif, serif" textLength="35.0" lengthAdjust="spacingAndGlyphs">1.29</text>
</svg></body></html>
